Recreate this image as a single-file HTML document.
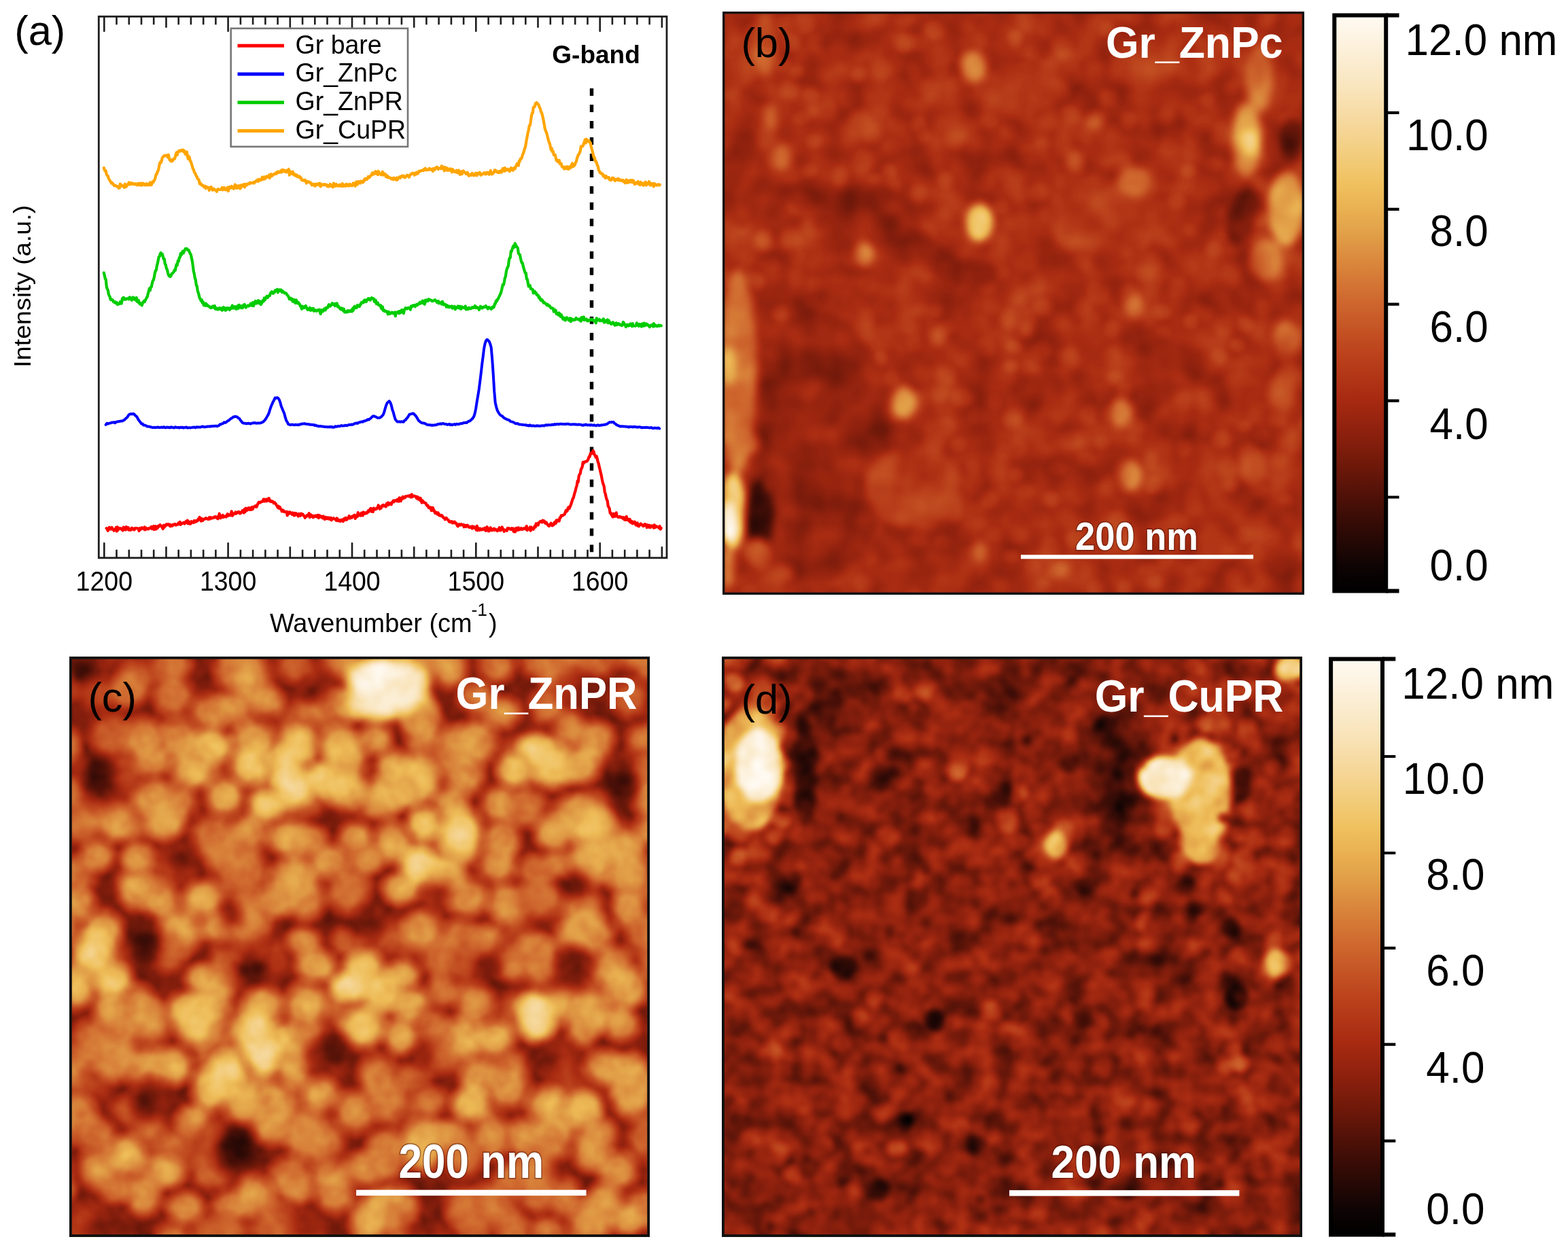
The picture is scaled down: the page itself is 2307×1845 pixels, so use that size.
<!DOCTYPE html>
<html><head><meta charset="utf-8"><title>Raman and AFM figure</title><style>
html,body{margin:0;padding:0;background:#fff;}
body{width:2307px;height:1845px;overflow:hidden;position:relative;}
svg.main{position:absolute;left:0;top:0;}
text{font-family:"Liberation Sans", Arial, sans-serif;}
</style></head><body>
<svg class="main" width="2307" height="1845" viewBox="0 0 2307 1845">
<rect x="145.3" y="24.3" width="835.7" height="796.5" fill="none" stroke="#1e1e1e" stroke-width="2.8"/>
<path d="M153.3 820.8V798.3M153.3 24.3V46.8M171.5 820.8V808.8M171.5 24.3V36.3M189.8 820.8V808.8M189.8 24.3V36.3M208.0 820.8V808.8M208.0 24.3V36.3M226.2 820.8V808.8M226.2 24.3V36.3M244.5 820.8V804.3M244.5 24.3V40.8M262.7 820.8V808.8M262.7 24.3V36.3M280.9 820.8V808.8M280.9 24.3V36.3M299.2 820.8V808.8M299.2 24.3V36.3M317.4 820.8V808.8M317.4 24.3V36.3M335.6 820.8V798.3M335.6 24.3V46.8M353.9 820.8V808.8M353.9 24.3V36.3M372.1 820.8V808.8M372.1 24.3V36.3M390.4 820.8V808.8M390.4 24.3V36.3M408.6 820.8V808.8M408.6 24.3V36.3M426.8 820.8V804.3M426.8 24.3V40.8M445.1 820.8V808.8M445.1 24.3V36.3M463.3 820.8V808.8M463.3 24.3V36.3M481.5 820.8V808.8M481.5 24.3V36.3M499.8 820.8V808.8M499.8 24.3V36.3M518.0 820.8V798.3M518.0 24.3V46.8M536.2 820.8V808.8M536.2 24.3V36.3M554.5 820.8V808.8M554.5 24.3V36.3M572.7 820.8V808.8M572.7 24.3V36.3M590.9 820.8V808.8M590.9 24.3V36.3M609.2 820.8V804.3M609.2 24.3V40.8M627.4 820.8V808.8M627.4 24.3V36.3M645.6 820.8V808.8M645.6 24.3V36.3M663.9 820.8V808.8M663.9 24.3V36.3M682.1 820.8V808.8M682.1 24.3V36.3M700.3 820.8V798.3M700.3 24.3V46.8M718.6 820.8V808.8M718.6 24.3V36.3M736.8 820.8V808.8M736.8 24.3V36.3M755.1 820.8V808.8M755.1 24.3V36.3M773.3 820.8V808.8M773.3 24.3V36.3M791.5 820.8V804.3M791.5 24.3V40.8M809.8 820.8V808.8M809.8 24.3V36.3M828.0 820.8V808.8M828.0 24.3V36.3M846.2 820.8V808.8M846.2 24.3V36.3M864.5 820.8V808.8M864.5 24.3V36.3M882.7 820.8V798.3M882.7 24.3V46.8M900.9 820.8V808.8M900.9 24.3V36.3M919.2 820.8V808.8M919.2 24.3V36.3M937.4 820.8V808.8M937.4 24.3V36.3M955.6 820.8V808.8M955.6 24.3V36.3M973.9 820.8V804.3M973.9 24.3V40.8" stroke="#1e1e1e" stroke-width="2.6" fill="none"/>
<text transform="translate(153.3 869.2) scale(1 1.06)" font-size="37.5" text-anchor="middle">1200</text>
<text transform="translate(335.6 869.2) scale(1 1.06)" font-size="37.5" text-anchor="middle">1300</text>
<text transform="translate(518.0 869.2) scale(1 1.06)" font-size="37.5" text-anchor="middle">1400</text>
<text transform="translate(700.3 869.2) scale(1 1.06)" font-size="37.5" text-anchor="middle">1500</text>
<text transform="translate(882.7 869.2) scale(1 1.06)" font-size="37.5" text-anchor="middle">1600</text>
<text x="397" y="930" font-size="37.9">Wavenumber (cm</text>
<text x="693.5" y="906" font-size="26.5">-1</text>
<text x="719" y="930" font-size="37.9">)</text>
<text transform="translate(44.5 540.8) rotate(-90)" font-size="35" textLength="239" lengthAdjust="spacingAndGlyphs">Intensity (a.u.)</text>
<text x="21.2" y="66" font-size="61.5">(a)</text>
<line x1="870.5" y1="130" x2="870.5" y2="812.2" stroke="#000" stroke-width="5.4" stroke-dasharray="11 12.98"/>
<path d="M156.7 777.3 L157.7 778.0 L158.7 780.8 L159.7 779.3 L160.7 775.8 L161.7 778.3 L162.7 777.4 L163.7 778.5 L164.7 775.9 L165.7 778.7 L166.7 778.7 L167.7 780.7 L168.7 778.8 L169.7 779.1 L170.7 776.1 L171.7 781.7 L172.7 775.4 L173.7 780.0 L174.7 777.8 L175.7 777.0 L176.7 777.3 L177.7 777.3 L178.7 778.9 L179.7 778.1 L180.7 780.5 L181.7 775.6 L182.7 778.3 L183.7 777.0 L184.7 779.5 L185.7 775.1 L186.7 777.8 L187.7 778.6 L188.7 776.1 L189.7 779.8 L190.7 778.6 L191.7 779.8 L192.7 779.7 L193.7 776.8 L194.7 777.1 L195.7 778.0 L196.7 779.4 L197.7 779.5 L198.7 777.2 L199.7 777.3 L200.7 777.0 L201.7 777.2 L202.7 777.7 L203.7 777.8 L204.7 781.1 L205.7 777.2 L206.7 777.4 L207.7 778.5 L208.7 776.3 L209.7 777.1 L210.7 777.6 L211.7 778.6 L212.7 775.4 L213.7 779.4 L214.7 776.7 L215.7 777.4 L216.7 778.3 L217.7 777.9 L218.7 778.4 L219.7 777.0 L220.7 776.6 L221.7 777.0 L222.7 775.0 L223.7 778.2 L224.7 775.1 L225.7 774.3 L226.7 779.1 L227.7 775.7 L228.7 774.1 L229.7 778.5 L230.7 775.1 L231.7 777.1 L232.7 774.2 L233.7 774.9 L234.7 772.6 L235.7 772.2 L236.7 773.5 L237.7 774.7 L238.7 775.8 L239.7 778.1 L240.7 772.8 L241.7 775.7 L242.7 773.1 L243.7 773.6 L244.7 771.4 L245.7 771.3 L246.7 772.1 L247.7 771.3 L248.7 772.9 L249.7 771.7 L250.7 774.4 L251.7 772.6 L252.7 772.4 L253.7 773.7 L254.7 772.6 L255.7 771.6 L256.7 771.3 L257.7 771.1 L258.7 772.7 L259.7 772.1 L260.7 771.3 L261.7 771.7 L262.7 769.5 L263.7 771.0 L264.7 767.9 L265.7 771.9 L266.7 769.8 L267.7 769.8 L268.7 770.2 L269.7 769.1 L270.7 768.6 L271.7 770.6 L272.7 768.8 L273.7 767.1 L274.7 768.9 L275.7 765.6 L276.7 770.4 L277.7 767.5 L278.7 767.7 L279.7 770.8 L280.7 770.5 L281.7 767.2 L282.7 767.8 L283.7 768.4 L284.7 769.1 L285.7 766.2 L286.7 766.4 L287.7 767.9 L288.7 766.2 L289.7 766.8 L290.7 766.4 L291.7 763.6 L292.7 763.8 L293.7 761.0 L294.7 764.4 L295.7 766.6 L296.7 762.8 L297.7 766.1 L298.7 765.6 L299.7 763.8 L300.7 763.7 L301.7 763.7 L302.7 762.1 L303.7 762.8 L304.7 763.0 L305.7 763.8 L306.7 763.9 L307.7 761.4 L308.7 763.6 L309.7 761.1 L310.7 761.8 L311.7 762.5 L312.7 761.7 L313.7 761.4 L314.7 761.8 L315.7 760.5 L316.7 760.1 L317.7 760.7 L318.7 762.2 L319.7 760.5 L320.7 763.3 L321.7 760.6 L322.7 755.7 L323.7 759.3 L324.7 762.3 L325.7 759.7 L326.7 758.8 L327.7 758.0 L328.7 761.1 L329.7 760.4 L330.7 759.8 L331.7 759.2 L332.7 760.5 L333.7 759.4 L334.7 756.1 L335.7 758.9 L336.7 757.8 L337.7 757.2 L338.7 758.3 L339.7 757.0 L340.7 752.3 L341.7 758.8 L342.7 757.8 L343.7 755.8 L344.7 755.2 L345.7 755.9 L346.7 753.4 L347.7 755.5 L348.7 754.5 L349.7 754.0 L350.7 752.9 L351.7 753.0 L352.7 755.4 L353.7 755.5 L354.7 753.9 L355.7 752.8 L356.7 751.3 L357.7 753.4 L358.7 754.4 L359.7 749.2 L360.7 753.1 L361.7 747.7 L362.7 750.1 L363.7 750.8 L364.7 747.8 L365.7 747.2 L366.7 749.3 L367.7 750.0 L368.7 747.5 L369.7 749.8 L370.7 746.1 L371.7 749.3 L372.7 746.1 L373.7 745.6 L374.7 745.5 L375.7 744.3 L376.7 745.9 L377.7 745.7 L378.7 742.6 L379.7 740.9 L380.7 738.9 L381.7 738.9 L382.7 739.5 L383.7 738.7 L384.7 738.2 L385.7 737.7 L386.7 737.9 L387.7 734.7 L388.7 734.7 L389.7 737.6 L390.7 736.9 L391.7 734.7 L392.7 737.4 L393.7 734.5 L394.7 735.3 L395.7 733.1 L396.7 737.3 L397.7 736.3 L398.7 738.2 L399.7 738.0 L400.7 737.4 L401.7 738.1 L402.7 740.3 L403.7 739.1 L404.7 740.0 L405.7 741.3 L406.7 743.3 L407.7 744.4 L408.7 746.8 L409.7 744.8 L410.7 747.9 L411.7 746.0 L412.7 748.9 L413.7 749.2 L414.7 752.4 L415.7 751.5 L416.7 750.7 L417.7 752.9 L418.7 753.2 L419.7 752.8 L420.7 753.3 L421.7 752.7 L422.7 758.5 L423.7 754.8 L424.7 756.3 L425.7 753.3 L426.7 753.6 L427.7 755.2 L428.7 755.4 L429.7 757.0 L430.7 754.4 L431.7 756.9 L432.7 758.5 L433.7 754.9 L434.7 757.8 L435.7 755.1 L436.7 757.2 L437.7 757.3 L438.7 759.5 L439.7 756.0 L440.7 757.4 L441.7 758.9 L442.7 755.6 L443.7 757.5 L444.7 756.3 L445.7 756.7 L446.7 758.9 L447.7 759.0 L448.7 761.9 L449.7 760.2 L450.7 760.2 L451.7 758.1 L452.7 758.0 L453.7 758.7 L454.7 755.2 L455.7 761.2 L456.7 757.9 L457.7 757.4 L458.7 758.4 L459.7 760.5 L460.7 761.2 L461.7 758.9 L462.7 760.3 L463.7 759.7 L464.7 758.4 L465.7 760.3 L466.7 760.2 L467.7 758.0 L468.7 762.1 L469.7 758.2 L470.7 761.1 L471.7 759.3 L472.7 759.8 L473.7 760.1 L474.7 762.4 L475.7 759.6 L476.7 761.3 L477.7 764.1 L478.7 760.8 L479.7 761.9 L480.7 763.1 L481.7 761.4 L482.7 763.1 L483.7 761.6 L484.7 763.8 L485.7 763.0 L486.7 761.7 L487.7 765.3 L488.7 763.3 L489.7 763.1 L490.7 762.3 L491.7 763.2 L492.7 763.9 L493.7 764.4 L494.7 765.9 L495.7 762.4 L496.7 764.0 L497.7 766.4 L498.7 764.9 L499.7 765.3 L500.7 767.1 L501.7 765.2 L502.7 765.4 L503.7 764.5 L504.7 767.1 L505.7 765.8 L506.7 763.0 L507.7 764.6 L508.7 761.8 L509.7 764.9 L510.7 763.9 L511.7 762.3 L512.7 761.6 L513.7 759.2 L514.7 762.7 L515.7 761.1 L516.7 760.5 L517.7 761.7 L518.7 759.3 L519.7 759.2 L520.7 758.8 L521.7 757.6 L522.7 763.0 L523.7 758.9 L524.7 758.5 L525.7 760.2 L526.7 754.0 L527.7 758.5 L528.7 758.3 L529.7 756.6 L530.7 758.6 L531.7 754.6 L532.7 757.4 L533.7 758.5 L534.7 753.5 L535.7 754.3 L536.7 755.8 L537.7 755.5 L538.7 754.1 L539.7 755.1 L540.7 754.4 L541.7 751.4 L542.7 752.8 L543.7 750.5 L544.7 748.8 L545.7 747.9 L546.7 752.6 L547.7 750.4 L548.7 753.1 L549.7 747.6 L550.7 748.8 L551.7 749.5 L552.7 748.4 L553.7 748.9 L554.7 748.0 L555.7 746.5 L556.7 743.5 L557.7 745.2 L558.7 748.8 L559.7 747.0 L560.7 747.6 L561.7 744.2 L562.7 744.4 L563.7 743.0 L564.7 744.6 L565.7 743.7 L566.7 743.9 L567.7 745.5 L568.7 741.2 L569.7 743.2 L570.7 739.6 L571.7 743.0 L572.7 740.3 L573.7 740.5 L574.7 740.4 L575.7 742.2 L576.7 739.3 L577.7 738.2 L578.7 736.7 L579.7 738.5 L580.7 736.3 L581.7 736.4 L582.7 736.7 L583.7 737.3 L584.7 734.8 L585.7 736.4 L586.7 737.7 L587.7 732.4 L588.7 736.3 L589.7 737.1 L590.7 732.7 L591.7 734.2 L592.7 730.8 L593.7 733.0 L594.7 731.7 L595.7 732.3 L596.7 730.2 L597.7 730.0 L598.7 730.3 L599.7 729.7 L600.7 729.7 L601.7 730.3 L602.7 728.9 L603.7 730.4 L604.7 731.4 L605.7 727.3 L606.7 731.2 L607.7 730.0 L608.7 729.6 L609.7 729.5 L610.7 730.4 L611.7 730.8 L612.7 732.7 L613.7 730.6 L614.7 734.3 L615.7 731.9 L616.7 734.6 L617.7 735.8 L618.7 733.0 L619.7 737.2 L620.7 739.7 L621.7 736.5 L622.7 738.9 L623.7 738.6 L624.7 739.8 L625.7 740.1 L626.7 740.5 L627.7 743.2 L628.7 744.3 L629.7 743.9 L630.7 747.0 L631.7 747.3 L632.7 747.7 L633.7 746.4 L634.7 751.2 L635.7 751.2 L636.7 746.9 L637.7 749.2 L638.7 751.0 L639.7 753.9 L640.7 755.2 L641.7 753.7 L642.7 755.2 L643.7 756.7 L644.7 754.5 L645.7 758.0 L646.7 757.4 L647.7 758.8 L648.7 759.1 L649.7 758.0 L650.7 758.9 L651.7 761.1 L652.7 761.8 L653.7 761.8 L654.7 764.3 L655.7 762.7 L656.7 762.0 L657.7 763.8 L658.7 764.5 L659.7 765.1 L660.7 767.5 L661.7 767.0 L662.7 768.3 L663.7 768.1 L664.7 767.3 L665.7 769.5 L666.7 768.0 L667.7 769.1 L668.7 767.6 L669.7 769.6 L670.7 769.3 L671.7 770.6 L672.7 773.1 L673.7 774.3 L674.7 772.5 L675.7 771.3 L676.7 772.8 L677.7 772.2 L678.7 771.3 L679.7 772.3 L680.7 772.3 L681.7 772.1 L682.7 775.3 L683.7 772.7 L684.7 773.0 L685.7 775.0 L686.7 773.2 L687.7 772.7 L688.7 773.4 L689.7 775.7 L690.7 775.8 L691.7 775.9 L692.7 775.0 L693.7 774.6 L694.7 777.6 L695.7 774.4 L696.7 776.5 L697.7 775.1 L698.7 776.7 L699.7 777.4 L700.7 779.7 L701.7 773.8 L702.7 780.3 L703.7 777.1 L704.7 779.0 L705.7 779.9 L706.7 777.6 L707.7 778.7 L708.7 779.6 L709.7 778.6 L710.7 777.7 L711.7 779.1 L712.7 779.0 L713.7 776.6 L714.7 780.9 L715.7 779.2 L716.7 775.2 L717.7 777.6 L718.7 781.4 L719.7 781.2 L720.7 779.3 L721.7 776.3 L722.7 778.5 L723.7 780.4 L724.7 779.4 L725.7 778.4 L726.7 777.8 L727.7 780.1 L728.7 778.5 L729.7 779.3 L730.7 779.6 L731.7 781.3 L732.7 779.1 L733.7 779.3 L734.7 776.2 L735.7 780.5 L736.7 780.2 L737.7 778.8 L738.7 775.5 L739.7 778.0 L740.7 779.0 L741.7 782.0 L742.7 779.7 L743.7 780.1 L744.7 780.1 L745.7 780.9 L746.7 777.2 L747.7 777.6 L748.7 777.1 L749.7 778.4 L750.7 778.3 L751.7 779.0 L752.7 777.3 L753.7 779.0 L754.7 777.5 L755.7 782.0 L756.7 778.0 L757.7 782.6 L758.7 781.2 L759.7 776.9 L760.7 780.1 L761.7 779.6 L762.7 776.3 L763.7 779.5 L764.7 778.4 L765.7 779.0 L766.7 777.2 L767.7 778.3 L768.7 779.0 L769.7 778.0 L770.7 777.3 L771.7 777.9 L772.7 776.6 L773.7 778.5 L774.7 774.1 L775.7 780.1 L776.7 777.9 L777.7 778.4 L778.7 778.9 L779.7 775.6 L780.7 780.8 L781.7 775.6 L782.7 777.8 L783.7 777.5 L784.7 778.9 L785.7 776.7 L786.7 774.2 L787.7 775.8 L788.7 770.3 L789.7 772.3 L790.7 770.5 L791.7 772.6 L792.7 769.2 L793.7 768.4 L794.7 767.4 L795.7 766.8 L796.7 767.0 L797.7 768.5 L798.7 765.7 L799.7 767.8 L800.7 766.4 L801.7 769.0 L802.7 770.1 L803.7 768.5 L804.7 770.2 L805.7 771.9 L806.7 773.4 L807.7 774.1 L808.7 772.5 L809.7 771.0 L810.7 769.8 L811.7 773.0 L812.7 773.4 L813.7 771.2 L814.7 772.3 L815.7 768.6 L816.7 767.9 L817.7 770.1 L818.7 765.4 L819.7 767.1 L820.7 766.1 L821.7 765.0 L822.7 766.6 L823.7 761.9 L824.7 761.7 L825.7 758.3 L826.7 758.9 L827.7 758.8 L828.7 757.9 L829.7 757.1 L830.7 756.7 L831.7 754.1 L832.7 750.8 L833.7 752.5 L834.7 751.4 L835.7 747.4 L836.7 746.2 L837.7 748.2 L838.7 745.2 L839.7 743.2 L840.7 740.3 L841.7 737.2 L842.7 733.6 L843.7 732.5 L844.7 728.4 L845.7 724.8 L846.7 721.6 L847.7 717.2 L848.7 714.4 L849.7 707.7 L850.7 709.3 L851.7 700.5 L852.7 698.0 L853.7 696.8 L854.7 691.1 L855.7 688.9 L856.7 687.0 L857.7 680.1 L858.7 681.7 L859.7 679.5 L860.7 679.4 L861.7 679.4 L862.7 678.5 L863.7 678.6 L864.7 677.1 L865.7 675.0 L866.7 671.9 L867.7 672.0 L868.7 667.2 L869.7 666.5 L870.7 667.2 L871.7 665.7 L872.7 663.0 L873.7 665.3 L874.7 669.1 L875.7 670.4 L876.7 673.0 L877.7 671.1 L878.7 674.8 L879.7 679.6 L880.7 681.9 L881.7 686.9 L882.7 690.7 L883.7 695.4 L884.7 699.1 L885.7 704.6 L886.7 709.3 L887.7 712.8 L888.7 715.3 L889.7 723.6 L890.7 726.5 L891.7 731.2 L892.7 735.1 L893.7 736.9 L894.7 744.4 L895.7 746.1 L896.7 748.3 L897.7 754.9 L898.7 754.9 L899.7 757.4 L900.7 759.0 L901.7 760.5 L902.7 755.7 L903.7 757.6 L904.7 759.9 L905.7 758.1 L906.7 754.3 L907.7 759.7 L908.7 760.0 L909.7 761.1 L910.7 760.6 L911.7 759.9 L912.7 761.2 L913.7 761.2 L914.7 760.8 L915.7 762.3 L916.7 762.9 L917.7 761.2 L918.7 764.6 L919.7 764.7 L920.7 765.0 L921.7 760.0 L922.7 764.7 L923.7 764.8 L924.7 763.9 L925.7 766.7 L926.7 764.0 L927.7 768.6 L928.7 767.8 L929.7 766.9 L930.7 770.3 L931.7 769.3 L932.7 769.6 L933.7 767.6 L934.7 770.8 L935.7 772.6 L936.7 772.5 L937.7 769.3 L938.7 773.7 L939.7 774.4 L940.7 773.5 L941.7 771.9 L942.7 770.4 L943.7 771.4 L944.7 772.1 L945.7 773.5 L946.7 774.1 L947.7 772.3 L948.7 771.1 L949.7 773.1 L950.7 771.9 L951.7 776.0 L952.7 772.3 L953.7 775.0 L954.7 775.6 L955.7 773.0 L956.7 776.1 L957.7 774.5 L958.7 773.6 L959.7 773.5 L960.7 775.2 L961.7 776.7 L962.7 772.3 L963.7 776.2 L964.7 775.1 L965.7 774.2 L966.7 775.3 L967.7 775.5 L968.7 775.4 L969.7 776.8 L970.7 774.2 L971.7 778.6 L972.7 777.0" fill="none" stroke="#ff0000" stroke-width="4.2" stroke-linejoin="round" stroke-linecap="round"/>
<path d="M155.7 624.9 L157.2 622.9 L158.7 623.6 L160.2 622.9 L161.7 622.6 L163.2 622.3 L164.7 621.4 L166.2 621.7 L167.7 621.2 L169.2 622.3 L170.7 621.0 L172.2 620.5 L173.7 620.3 L175.2 620.0 L176.7 619.7 L178.2 619.6 L179.7 619.6 L181.2 618.7 L182.7 618.2 L184.2 616.6 L185.7 615.3 L187.2 614.0 L188.7 611.4 L190.2 609.7 L191.7 609.2 L193.2 609.0 L194.7 609.3 L196.2 608.7 L197.7 609.7 L199.2 611.6 L200.7 612.4 L202.2 614.7 L203.7 617.5 L205.2 619.5 L206.7 621.4 L208.2 623.5 L209.7 623.5 L211.2 625.6 L212.7 625.6 L214.2 625.9 L215.7 627.0 L217.2 627.6 L218.7 627.6 L220.2 627.7 L221.7 628.4 L223.2 628.5 L224.7 629.1 L226.2 628.9 L227.7 628.7 L229.2 629.1 L230.7 628.7 L232.2 628.5 L233.7 629.0 L235.2 629.1 L236.7 628.8 L238.2 628.6 L239.7 629.0 L241.2 628.1 L242.7 629.2 L244.2 629.2 L245.7 628.4 L247.2 629.0 L248.7 628.7 L250.2 629.3 L251.7 628.3 L253.2 628.7 L254.7 629.2 L256.2 629.4 L257.7 628.2 L259.2 628.8 L260.7 629.1 L262.2 628.8 L263.7 629.6 L265.2 628.6 L266.7 629.1 L268.2 628.6 L269.7 629.5 L271.2 629.0 L272.7 628.9 L274.2 628.4 L275.7 629.6 L277.2 629.3 L278.7 629.3 L280.2 629.4 L281.7 629.1 L283.2 628.8 L284.7 628.7 L286.2 628.6 L287.7 629.3 L289.2 628.2 L290.7 628.4 L292.2 628.4 L293.7 628.5 L295.2 628.5 L296.7 627.8 L298.2 627.5 L299.7 628.0 L301.2 628.3 L302.7 628.1 L304.2 627.8 L305.7 627.5 L307.2 627.6 L308.7 627.3 L310.2 627.6 L311.7 626.9 L313.2 627.1 L314.7 626.8 L316.2 626.9 L317.7 626.6 L319.2 627.2 L320.7 626.6 L322.2 626.1 L323.7 624.3 L325.2 624.2 L326.7 623.4 L328.2 623.0 L329.7 621.3 L331.2 621.9 L332.7 621.3 L334.2 619.8 L335.7 619.1 L337.2 618.1 L338.7 616.8 L340.2 615.5 L341.7 614.9 L343.2 613.5 L344.7 613.3 L346.2 612.7 L347.7 613.1 L349.2 613.5 L350.7 615.1 L352.2 615.8 L353.7 618.2 L355.2 620.0 L356.7 622.0 L358.2 622.6 L359.7 622.8 L361.2 623.0 L362.7 623.4 L364.2 622.9 L365.7 622.7 L367.2 623.1 L368.7 623.7 L370.2 622.7 L371.7 622.5 L373.2 622.2 L374.7 622.0 L376.2 622.6 L377.7 622.7 L379.2 622.4 L380.7 622.5 L382.2 622.4 L383.7 622.3 L385.2 621.5 L386.7 621.0 L388.2 619.8 L389.7 618.0 L391.2 616.1 L392.7 613.4 L394.2 610.8 L395.7 607.6 L397.2 602.7 L398.7 598.3 L400.2 594.8 L401.7 591.4 L403.2 588.7 L404.7 585.4 L406.2 585.8 L407.7 585.0 L409.2 585.8 L410.7 587.9 L412.2 591.7 L413.7 597.5 L415.2 601.0 L416.7 604.7 L418.2 608.1 L419.7 613.9 L421.2 618.7 L422.7 621.0 L424.2 624.1 L425.7 624.6 L427.2 625.2 L428.7 624.7 L430.2 624.7 L431.7 625.0 L433.2 625.2 L434.7 624.8 L436.2 625.1 L437.7 624.9 L439.2 625.3 L440.7 624.3 L442.2 624.6 L443.7 623.8 L445.2 623.5 L446.7 623.5 L448.2 623.2 L449.7 623.7 L451.2 624.0 L452.7 623.9 L454.2 624.2 L455.7 624.8 L457.2 624.6 L458.7 624.9 L460.2 625.0 L461.7 624.9 L463.2 626.1 L464.7 625.5 L466.2 626.6 L467.7 626.7 L469.2 627.3 L470.7 627.1 L472.2 627.0 L473.7 627.6 L475.2 627.5 L476.7 627.8 L478.2 628.0 L479.7 628.1 L481.2 628.2 L482.7 628.1 L484.2 628.4 L485.7 627.8 L487.2 628.4 L488.7 628.0 L490.2 628.7 L491.7 628.6 L493.2 627.2 L494.7 627.8 L496.2 627.5 L497.7 626.9 L499.2 627.3 L500.7 626.8 L502.2 626.1 L503.7 626.5 L505.2 626.4 L506.7 626.3 L508.2 625.7 L509.7 626.1 L511.2 626.0 L512.7 625.1 L514.2 625.0 L515.7 625.0 L517.2 624.5 L518.7 624.9 L520.2 624.0 L521.7 623.2 L523.2 622.8 L524.7 622.6 L526.2 622.9 L527.7 621.6 L529.2 621.3 L530.7 621.0 L532.2 620.4 L533.7 620.8 L535.2 619.4 L536.7 619.4 L538.2 618.7 L539.7 618.3 L541.2 617.1 L542.7 617.5 L544.2 616.1 L545.7 615.2 L547.2 613.5 L548.7 612.2 L550.2 612.2 L551.7 612.8 L553.2 613.3 L554.7 614.3 L556.2 614.8 L557.7 614.7 L559.2 614.5 L560.7 613.4 L562.2 611.9 L563.7 610.4 L565.2 606.5 L566.7 601.0 L568.2 596.2 L569.7 592.7 L571.2 591.5 L572.7 590.1 L574.2 592.2 L575.7 596.0 L577.2 602.5 L578.7 606.6 L580.2 612.4 L581.7 617.1 L583.2 619.1 L584.7 620.5 L586.2 620.5 L587.7 620.3 L589.2 620.8 L590.7 620.2 L592.2 620.6 L593.7 620.8 L595.2 618.6 L596.7 618.0 L598.2 615.8 L599.7 614.2 L601.2 611.8 L602.7 609.4 L604.2 609.2 L605.7 608.9 L607.2 608.2 L608.7 608.6 L610.2 610.4 L611.7 611.7 L613.2 614.1 L614.7 616.7 L616.2 619.1 L617.7 620.1 L619.2 621.4 L620.7 622.3 L622.2 622.4 L623.7 622.6 L625.2 623.0 L626.7 624.0 L628.2 624.7 L629.7 624.9 L631.2 625.3 L632.7 625.2 L634.2 625.7 L635.7 625.6 L637.2 625.7 L638.7 625.4 L640.2 625.2 L641.7 625.3 L643.2 624.5 L644.7 624.0 L646.2 623.9 L647.7 623.2 L649.2 624.0 L650.7 623.2 L652.2 622.9 L653.7 623.7 L655.2 623.9 L656.7 623.9 L658.2 624.9 L659.7 624.5 L661.2 623.8 L662.7 625.2 L664.2 624.6 L665.7 625.3 L667.2 624.4 L668.7 624.1 L670.2 624.9 L671.7 623.8 L673.2 624.1 L674.7 624.3 L676.2 623.6 L677.7 623.2 L679.2 623.0 L680.7 622.9 L682.2 622.0 L683.7 622.1 L685.2 621.7 L686.7 622.0 L688.2 620.6 L689.7 619.8 L691.2 619.5 L692.7 618.0 L694.2 616.9 L695.7 615.1 L697.2 612.8 L698.7 608.1 L700.2 600.8 L701.7 590.9 L703.2 582.3 L704.7 573.0 L706.2 561.4 L707.7 549.2 L709.2 536.1 L710.7 524.4 L712.2 512.3 L713.7 505.0 L715.2 501.0 L716.7 499.5 L718.2 500.8 L719.7 502.3 L721.2 506.1 L722.7 511.3 L724.2 528.5 L725.7 550.2 L727.2 575.2 L728.7 592.5 L730.2 598.8 L731.7 603.7 L733.2 606.5 L734.7 609.0 L736.2 610.6 L737.7 611.7 L739.2 612.3 L740.7 614.1 L742.2 615.3 L743.7 615.9 L745.2 616.9 L746.7 617.3 L748.2 618.0 L749.7 618.5 L751.2 620.1 L752.7 620.4 L754.2 620.9 L755.7 621.3 L757.2 622.3 L758.7 623.3 L760.2 623.2 L761.7 623.1 L763.2 624.2 L764.7 624.4 L766.2 624.6 L767.7 624.7 L769.2 625.1 L770.7 625.1 L772.2 625.4 L773.7 625.1 L775.2 626.1 L776.7 625.8 L778.2 626.6 L779.7 625.3 L781.2 626.4 L782.7 626.6 L784.2 626.2 L785.7 626.6 L787.2 626.7 L788.7 626.7 L790.2 626.3 L791.7 626.4 L793.2 626.8 L794.7 626.8 L796.2 626.4 L797.7 626.3 L799.2 626.2 L800.7 626.4 L802.2 625.6 L803.7 625.3 L805.2 625.7 L806.7 625.2 L808.2 625.2 L809.7 625.3 L811.2 625.3 L812.7 624.6 L814.2 625.1 L815.7 624.1 L817.2 624.8 L818.7 623.9 L820.2 623.9 L821.7 624.4 L823.2 624.0 L824.7 623.8 L826.2 623.8 L827.7 624.1 L829.2 623.9 L830.7 623.9 L832.2 624.3 L833.7 623.7 L835.2 623.8 L836.7 623.8 L838.2 624.4 L839.7 624.4 L841.2 624.6 L842.7 624.2 L844.2 624.2 L845.7 624.6 L847.2 624.3 L848.7 624.8 L850.2 624.8 L851.7 624.4 L853.2 624.7 L854.7 624.8 L856.2 625.5 L857.7 625.9 L859.2 625.0 L860.7 625.2 L862.2 624.4 L863.7 625.4 L865.2 625.4 L866.7 625.1 L868.2 625.8 L869.7 625.1 L871.2 625.6 L872.7 625.8 L874.2 625.3 L875.7 626.1 L877.2 626.2 L878.7 625.4 L880.2 625.4 L881.7 626.1 L883.2 625.8 L884.7 625.3 L886.2 625.4 L887.7 625.1 L889.2 624.7 L890.7 624.7 L892.2 624.1 L893.7 623.6 L895.2 622.3 L896.7 621.3 L898.2 621.3 L899.7 621.3 L901.2 621.0 L902.7 621.0 L904.2 622.9 L905.7 623.8 L907.2 625.2 L908.7 625.6 L910.2 626.5 L911.7 626.9 L913.2 627.6 L914.7 627.2 L916.2 627.2 L917.7 627.6 L919.2 627.4 L920.7 627.7 L922.2 627.7 L923.7 627.9 L925.2 628.6 L926.7 627.8 L928.2 628.0 L929.7 628.0 L931.2 628.4 L932.7 627.8 L934.2 628.0 L935.7 628.3 L937.2 628.6 L938.7 628.4 L940.2 628.3 L941.7 628.3 L943.2 628.8 L944.7 629.2 L946.2 628.9 L947.7 629.0 L949.2 629.1 L950.7 628.7 L952.2 629.0 L953.7 629.1 L955.2 629.4 L956.7 629.3 L958.2 629.0 L959.7 629.9 L961.2 630.1 L962.7 629.5 L964.2 629.8 L965.7 629.8 L967.2 630.1 L968.7 629.4 L970.2 630.5" fill="none" stroke="#0000ff" stroke-width="4.0" stroke-linejoin="round" stroke-linecap="round"/>
<path d="M152.8 401.3 L153.8 405.1 L154.8 410.0 L155.8 411.4 L156.8 421.9 L157.8 425.0 L158.8 426.9 L159.8 432.6 L160.8 435.4 L161.8 436.9 L162.8 440.9 L163.8 440.2 L164.8 441.2 L165.8 441.3 L166.8 443.9 L167.8 443.7 L168.8 445.3 L169.8 444.3 L170.8 446.0 L171.8 445.0 L172.8 448.0 L173.8 447.3 L174.8 447.4 L175.8 447.0 L176.8 444.1 L177.8 445.7 L178.8 446.5 L179.8 439.7 L180.8 438.4 L181.8 437.8 L182.8 440.6 L183.8 439.2 L184.8 440.6 L185.8 440.1 L186.8 439.3 L187.8 439.4 L188.8 438.7 L189.8 440.3 L190.8 437.3 L191.8 438.4 L192.8 439.4 L193.8 441.7 L194.8 437.9 L195.8 437.4 L196.8 438.2 L197.8 440.5 L198.8 438.9 L199.8 441.9 L200.8 438.0 L201.8 443.5 L202.8 444.4 L203.8 441.8 L204.8 445.1 L205.8 447.4 L206.8 446.1 L207.8 447.5 L208.8 449.3 L209.8 445.7 L210.8 444.3 L211.8 442.8 L212.8 444.1 L213.8 441.7 L214.8 440.0 L215.8 437.9 L216.8 436.7 L217.8 431.8 L218.8 428.5 L219.8 424.5 L220.8 427.2 L221.8 422.7 L222.8 422.1 L223.8 417.1 L224.8 413.2 L225.8 412.0 L226.8 407.9 L227.8 402.2 L228.8 398.2 L229.8 397.6 L230.8 391.3 L231.8 387.6 L232.8 382.5 L233.8 378.0 L234.8 377.1 L235.8 373.4 L236.8 371.9 L237.8 373.5 L238.8 373.9 L239.8 377.6 L240.8 381.2 L241.8 381.1 L242.8 388.4 L243.8 389.5 L244.8 394.6 L245.8 396.3 L246.8 400.6 L247.8 404.1 L248.8 405.9 L249.8 406.8 L250.8 406.8 L251.8 405.4 L252.8 402.4 L253.8 402.1 L254.8 401.0 L255.8 399.8 L256.8 397.3 L257.8 397.9 L258.8 392.4 L259.8 389.0 L260.8 390.2 L261.8 383.6 L262.8 384.4 L263.8 379.1 L264.8 378.6 L265.8 372.9 L266.8 375.2 L267.8 372.0 L268.8 369.6 L269.8 372.4 L270.8 370.0 L271.8 367.9 L272.8 365.9 L273.8 366.4 L274.8 365.8 L275.8 367.2 L276.8 368.4 L277.8 368.2 L278.8 370.7 L279.8 373.1 L280.8 374.7 L281.8 379.3 L282.8 384.0 L283.8 390.7 L284.8 399.0 L285.8 402.7 L286.8 409.4 L287.8 411.7 L288.8 419.4 L289.8 421.1 L290.8 427.8 L291.8 430.8 L292.8 434.5 L293.8 438.8 L294.8 440.1 L295.8 442.7 L296.8 441.1 L297.8 445.6 L298.8 444.2 L299.8 449.0 L300.8 446.8 L301.8 449.5 L302.8 446.4 L303.8 449.7 L304.8 448.3 L305.8 449.5 L306.8 450.7 L307.8 450.6 L308.8 451.9 L309.8 452.9 L310.8 453.0 L311.8 452.2 L312.8 450.5 L313.8 451.6 L314.8 452.7 L315.8 450.0 L316.8 454.6 L317.8 453.3 L318.8 453.4 L319.8 455.4 L320.8 455.2 L321.8 454.7 L322.8 453.0 L323.8 455.1 L324.8 455.2 L325.8 453.5 L326.8 456.5 L327.8 455.7 L328.8 452.0 L329.8 455.2 L330.8 453.1 L331.8 456.6 L332.8 456.0 L333.8 453.0 L334.8 453.1 L335.8 454.3 L336.8 453.5 L337.8 455.9 L338.8 454.5 L339.8 452.6 L340.8 453.7 L341.8 449.5 L342.8 452.8 L343.8 453.5 L344.8 451.8 L345.8 450.9 L346.8 452.7 L347.8 454.7 L348.8 452.0 L349.8 450.0 L350.8 453.8 L351.8 448.7 L352.8 452.2 L353.8 450.6 L354.8 452.8 L355.8 450.0 L356.8 453.2 L357.8 451.6 L358.8 448.5 L359.8 448.0 L360.8 450.3 L361.8 452.5 L362.8 450.5 L363.8 450.1 L364.8 449.4 L365.8 450.5 L366.8 449.6 L367.8 449.1 L368.8 446.8 L369.8 449.6 L370.8 449.5 L371.8 445.1 L372.8 450.2 L373.8 447.5 L374.8 445.3 L375.8 442.9 L376.8 446.5 L377.8 446.1 L378.8 444.1 L379.8 442.1 L380.8 446.2 L381.8 443.4 L382.8 443.3 L383.8 448.0 L384.8 446.6 L385.8 444.5 L386.8 442.0 L387.8 443.3 L388.8 438.4 L389.8 441.3 L390.8 439.2 L391.8 437.4 L392.8 435.8 L393.8 437.9 L394.8 436.1 L395.8 435.1 L396.8 435.2 L397.8 431.9 L398.8 430.6 L399.8 429.2 L400.8 430.7 L401.8 431.7 L402.8 429.7 L403.8 430.3 L404.8 427.1 L405.8 427.7 L406.8 426.8 L407.8 425.8 L408.8 430.3 L409.8 428.7 L410.8 426.3 L411.8 426.6 L412.8 428.0 L413.8 426.5 L414.8 429.9 L415.8 428.0 L416.8 430.1 L417.8 429.9 L418.8 431.4 L419.8 430.9 L420.8 431.2 L421.8 432.9 L422.8 434.1 L423.8 435.5 L424.8 436.9 L425.8 440.0 L426.8 439.7 L427.8 438.8 L428.8 441.1 L429.8 439.7 L430.8 443.7 L431.8 443.1 L432.8 441.0 L433.8 445.0 L434.8 445.9 L435.8 441.4 L436.8 445.0 L437.8 446.2 L438.8 444.7 L439.8 446.7 L440.8 447.5 L441.8 450.3 L442.8 450.6 L443.8 454.6 L444.8 450.5 L445.8 453.3 L446.8 452.1 L447.8 452.7 L448.8 450.8 L449.8 449.9 L450.8 451.9 L451.8 454.4 L452.8 455.9 L453.8 454.6 L454.8 454.6 L455.8 452.8 L456.8 456.6 L457.8 456.5 L458.8 453.9 L459.8 454.9 L460.8 453.7 L461.8 457.7 L462.8 456.5 L463.8 456.1 L464.8 457.3 L465.8 457.7 L466.8 456.8 L467.8 455.9 L468.8 456.1 L469.8 455.7 L470.8 459.2 L471.8 461.9 L472.8 456.0 L473.8 458.5 L474.8 458.4 L475.8 455.6 L476.8 456.6 L477.8 453.8 L478.8 456.3 L479.8 452.7 L480.8 453.0 L481.8 453.1 L482.8 450.9 L483.8 448.2 L484.8 449.4 L485.8 450.6 L486.8 448.7 L487.8 448.6 L488.8 446.1 L489.8 447.6 L490.8 448.2 L491.8 447.1 L492.8 450.0 L493.8 447.2 L494.8 446.5 L495.8 446.4 L496.8 451.3 L497.8 450.3 L498.8 452.7 L499.8 452.6 L500.8 454.9 L501.8 455.1 L502.8 453.4 L503.8 455.1 L504.8 457.1 L505.8 454.4 L506.8 459.1 L507.8 459.4 L508.8 459.5 L509.8 458.1 L510.8 459.0 L511.8 456.9 L512.8 458.6 L513.8 457.4 L514.8 458.1 L515.8 456.8 L516.8 457.5 L517.8 458.3 L518.8 454.0 L519.8 456.7 L520.8 451.7 L521.8 450.8 L522.8 453.2 L523.8 452.8 L524.8 452.8 L525.8 449.0 L526.8 450.7 L527.8 450.1 L528.8 451.0 L529.8 448.1 L530.8 448.1 L531.8 445.0 L532.8 445.3 L533.8 444.2 L534.8 445.2 L535.8 442.0 L536.8 441.5 L537.8 442.9 L538.8 444.0 L539.8 441.3 L540.8 440.6 L541.8 439.1 L542.8 440.9 L543.8 439.8 L544.8 441.6 L545.8 439.7 L546.8 438.1 L547.8 439.2 L548.8 439.1 L549.8 439.4 L550.8 443.8 L551.8 443.8 L552.8 441.6 L553.8 447.1 L554.8 445.9 L555.8 445.4 L556.8 448.7 L557.8 449.3 L558.8 449.5 L559.8 449.0 L560.8 453.2 L561.8 454.6 L562.8 451.3 L563.8 456.8 L564.8 457.5 L565.8 456.6 L566.8 458.1 L567.8 458.2 L568.8 458.0 L569.8 459.3 L570.8 462.3 L571.8 458.6 L572.8 461.5 L573.8 461.7 L574.8 460.5 L575.8 460.9 L576.8 459.5 L577.8 460.2 L578.8 461.3 L579.8 461.6 L580.8 459.5 L581.8 465.2 L582.8 459.5 L583.8 460.2 L584.8 459.3 L585.8 458.7 L586.8 461.0 L587.8 458.0 L588.8 460.4 L589.8 459.8 L590.8 456.2 L591.8 459.0 L592.8 456.2 L593.8 461.0 L594.8 456.0 L595.8 454.8 L596.8 453.0 L597.8 453.6 L598.8 454.4 L599.8 453.4 L600.8 452.7 L601.8 453.1 L602.8 453.5 L603.8 455.6 L604.8 450.4 L605.8 451.7 L606.8 450.7 L607.8 449.4 L608.8 449.2 L609.8 449.2 L610.8 451.1 L611.8 449.1 L612.8 448.0 L613.8 449.1 L614.8 448.0 L615.8 446.7 L616.8 447.1 L617.8 444.7 L618.8 446.4 L619.8 445.8 L620.8 444.1 L621.8 442.5 L622.8 446.2 L623.8 443.6 L624.8 447.7 L625.8 441.7 L626.8 443.6 L627.8 441.4 L628.8 442.1 L629.8 442.8 L630.8 440.1 L631.8 441.1 L632.8 441.4 L633.8 441.4 L634.8 442.2 L635.8 443.1 L636.8 443.0 L637.8 442.4 L638.8 441.9 L639.8 441.1 L640.8 442.1 L641.8 442.8 L642.8 445.0 L643.8 443.9 L644.8 443.0 L645.8 446.3 L646.8 444.6 L647.8 445.1 L648.8 446.2 L649.8 447.6 L650.8 443.6 L651.8 445.9 L652.8 448.3 L653.8 447.8 L654.8 447.5 L655.8 448.4 L656.8 451.6 L657.8 449.3 L658.8 451.4 L659.8 451.9 L660.8 450.4 L661.8 452.0 L662.8 451.0 L663.8 451.0 L664.8 450.4 L665.8 453.6 L666.8 451.8 L667.8 451.6 L668.8 450.8 L669.8 455.2 L670.8 453.7 L671.8 452.4 L672.8 451.6 L673.8 450.4 L674.8 453.2 L675.8 453.2 L676.8 450.7 L677.8 454.6 L678.8 454.0 L679.8 451.4 L680.8 452.1 L681.8 452.3 L682.8 453.2 L683.8 452.7 L684.8 450.5 L685.8 455.2 L686.8 453.5 L687.8 454.9 L688.8 454.9 L689.8 452.7 L690.8 453.5 L691.8 454.1 L692.8 454.2 L693.8 452.7 L694.8 452.1 L695.8 453.0 L696.8 451.8 L697.8 452.1 L698.8 449.9 L699.8 453.1 L700.8 451.4 L701.8 452.1 L702.8 452.9 L703.8 453.4 L704.8 455.7 L705.8 453.2 L706.8 450.8 L707.8 453.1 L708.8 451.9 L709.8 453.4 L710.8 451.8 L711.8 451.7 L712.8 452.0 L713.8 451.8 L714.8 450.0 L715.8 451.7 L716.8 452.6 L717.8 454.4 L718.8 452.1 L719.8 452.0 L720.8 453.3 L721.8 453.2 L722.8 454.8 L723.8 452.9 L724.8 451.4 L725.8 452.5 L726.8 451.6 L727.8 447.3 L728.8 446.9 L729.8 442.7 L730.8 443.3 L731.8 440.9 L732.8 440.0 L733.8 437.5 L734.8 435.8 L735.8 433.3 L736.8 431.3 L737.8 427.7 L738.8 423.2 L739.8 418.7 L740.8 419.1 L741.8 415.8 L742.8 409.3 L743.8 407.0 L744.8 399.9 L745.8 395.8 L746.8 393.4 L747.8 391.6 L748.8 383.4 L749.8 379.6 L750.8 379.1 L751.8 369.6 L752.8 369.6 L753.8 366.2 L754.8 362.8 L755.8 361.3 L756.8 363.7 L757.8 358.1 L758.8 360.4 L759.8 362.3 L760.8 363.6 L761.8 365.0 L762.8 372.6 L763.8 374.2 L764.8 374.7 L765.8 379.3 L766.8 383.9 L767.8 386.7 L768.8 386.8 L769.8 391.8 L770.8 395.3 L771.8 398.7 L772.8 401.8 L773.8 401.6 L774.8 410.2 L775.8 410.8 L776.8 416.5 L777.8 421.3 L778.8 419.6 L779.8 420.1 L780.8 424.9 L781.8 424.8 L782.8 425.8 L783.8 426.1 L784.8 431.3 L785.8 429.1 L786.8 428.6 L787.8 431.1 L788.8 431.0 L789.8 434.0 L790.8 434.3 L791.8 434.4 L792.8 438.0 L793.8 437.2 L794.8 440.3 L795.8 442.1 L796.8 440.7 L797.8 441.3 L798.8 443.5 L799.8 445.5 L800.8 445.0 L801.8 446.0 L802.8 446.6 L803.8 447.8 L804.8 449.1 L805.8 447.8 L806.8 448.9 L807.8 450.4 L808.8 450.1 L809.8 452.0 L810.8 453.4 L811.8 453.4 L812.8 453.4 L813.8 453.9 L814.8 458.5 L815.8 458.0 L816.8 455.9 L817.8 457.1 L818.8 462.0 L819.8 462.3 L820.8 461.0 L821.8 463.5 L822.8 460.5 L823.8 463.8 L824.8 465.9 L825.8 463.0 L826.8 465.5 L827.8 468.7 L828.8 469.8 L829.8 467.7 L830.8 469.2 L831.8 471.3 L832.8 468.5 L833.8 467.1 L834.8 469.1 L835.8 468.7 L836.8 471.3 L837.8 469.7 L838.8 468.3 L839.8 473.2 L840.8 468.9 L841.8 470.4 L842.8 470.7 L843.8 470.9 L844.8 470.0 L845.8 470.7 L846.8 469.8 L847.8 467.8 L848.8 469.6 L849.8 469.7 L850.8 469.8 L851.8 470.3 L852.8 469.2 L853.8 472.1 L854.8 472.5 L855.8 466.9 L856.8 470.3 L857.8 469.2 L858.8 466.4 L859.8 471.0 L860.8 469.4 L861.8 469.8 L862.8 469.5 L863.8 472.1 L864.8 472.4 L865.8 471.0 L866.8 471.6 L867.8 470.4 L868.8 470.9 L869.8 469.6 L870.8 470.8 L871.8 469.7 L872.8 471.4 L873.8 472.2 L874.8 471.5 L875.8 472.9 L876.8 475.3 L877.8 468.2 L878.8 471.5 L879.8 470.7 L880.8 471.0 L881.8 469.8 L882.8 472.1 L883.8 471.7 L884.8 471.3 L885.8 472.0 L886.8 471.7 L887.8 469.2 L888.8 474.4 L889.8 472.5 L890.8 471.7 L891.8 473.7 L892.8 472.5 L893.8 470.4 L894.8 475.2 L895.8 471.5 L896.8 473.9 L897.8 474.6 L898.8 476.7 L899.8 476.7 L900.8 475.3 L901.8 474.2 L902.8 474.9 L903.8 477.3 L904.8 478.6 L905.8 476.9 L906.8 475.3 L907.8 478.0 L908.8 476.0 L909.8 476.1 L910.8 476.4 L911.8 477.8 L912.8 477.5 L913.8 478.6 L914.8 479.1 L915.8 478.1 L916.8 473.9 L917.8 474.9 L918.8 477.7 L919.8 477.5 L920.8 480.9 L921.8 477.7 L922.8 477.5 L923.8 479.2 L924.8 479.5 L925.8 477.6 L926.8 478.7 L927.8 476.3 L928.8 476.7 L929.8 480.0 L930.8 476.1 L931.8 479.6 L932.8 479.3 L933.8 479.5 L934.8 479.7 L935.8 479.2 L936.8 475.2 L937.8 476.9 L938.8 477.6 L939.8 479.9 L940.8 476.8 L941.8 477.5 L942.8 478.0 L943.8 480.6 L944.8 476.4 L945.8 476.6 L946.8 479.6 L947.8 475.5 L948.8 479.2 L949.8 478.0 L950.8 476.4 L951.8 478.1 L952.8 477.3 L953.8 479.0 L954.8 479.4 L955.8 481.1 L956.8 478.8 L957.8 479.0 L958.8 478.0 L959.8 478.9 L960.8 480.5 L961.8 476.0 L962.8 479.9 L963.8 478.1 L964.8 479.1 L965.8 479.5 L966.8 480.2 L967.8 479.3 L968.8 478.4 L969.8 479.5 L970.8 479.0 L971.8 478.7 L972.8 479.3" fill="none" stroke="#00cc00" stroke-width="4.2" stroke-linejoin="round" stroke-linecap="round"/>
<path d="M152.8 247.0 L153.8 250.1 L154.8 251.7 L155.8 251.5 L156.8 256.9 L157.8 258.3 L158.8 258.8 L159.8 262.5 L160.8 264.2 L161.8 266.0 L162.8 267.3 L163.8 269.5 L164.8 268.7 L165.8 270.4 L166.8 270.8 L167.8 273.2 L168.8 273.0 L169.8 273.2 L170.8 273.0 L171.8 274.2 L172.8 274.9 L173.8 274.6 L174.8 276.9 L175.8 276.4 L176.8 270.6 L177.8 271.6 L178.8 273.9 L179.8 273.2 L180.8 273.8 L181.8 273.4 L182.8 275.9 L183.8 270.7 L184.8 271.4 L185.8 274.8 L186.8 272.4 L187.8 272.2 L188.8 270.3 L189.8 268.5 L190.8 271.3 L191.8 271.2 L192.8 269.2 L193.8 270.0 L194.8 270.9 L195.8 269.6 L196.8 270.9 L197.8 271.1 L198.8 271.1 L199.8 270.2 L200.8 271.9 L201.8 272.3 L202.8 271.5 L203.8 269.8 L204.8 272.1 L205.8 270.3 L206.8 272.4 L207.8 269.6 L208.8 272.7 L209.8 271.4 L210.8 269.7 L211.8 271.3 L212.8 272.0 L213.8 272.4 L214.8 270.5 L215.8 270.3 L216.8 272.2 L217.8 271.0 L218.8 271.8 L219.8 272.4 L220.8 268.4 L221.8 270.9 L222.8 271.9 L223.8 269.0 L224.8 267.1 L225.8 267.9 L226.8 265.3 L227.8 264.2 L228.8 260.2 L229.8 256.2 L230.8 255.9 L231.8 252.4 L232.8 250.9 L233.8 246.7 L234.8 240.8 L235.8 238.7 L236.8 239.4 L237.8 236.6 L238.8 232.1 L239.8 230.9 L240.8 229.8 L241.8 228.9 L242.8 229.3 L243.8 228.6 L244.8 228.5 L245.8 228.8 L246.8 231.4 L247.8 227.7 L248.8 233.0 L249.8 235.5 L250.8 234.7 L251.8 237.4 L252.8 235.4 L253.8 236.8 L254.8 234.2 L255.8 234.2 L256.8 233.8 L257.8 230.8 L258.8 227.0 L259.8 224.3 L260.8 227.8 L261.8 224.0 L262.8 222.2 L263.8 222.6 L264.8 221.4 L265.8 222.5 L266.8 221.1 L267.8 221.2 L268.8 220.5 L269.8 223.0 L270.8 221.5 L271.8 224.8 L272.8 227.0 L273.8 223.5 L274.8 223.3 L275.8 229.3 L276.8 233.8 L277.8 230.1 L278.8 231.7 L279.8 237.0 L280.8 237.6 L281.8 241.1 L282.8 244.2 L283.8 248.3 L284.8 249.4 L285.8 252.9 L286.8 254.7 L287.8 256.1 L288.8 259.1 L289.8 260.2 L290.8 263.4 L291.8 263.5 L292.8 265.1 L293.8 270.5 L294.8 269.5 L295.8 270.7 L296.8 272.6 L297.8 272.1 L298.8 273.3 L299.8 275.0 L300.8 275.4 L301.8 273.7 L302.8 277.1 L303.8 275.4 L304.8 275.1 L305.8 275.6 L306.8 276.7 L307.8 280.0 L308.8 276.0 L309.8 278.2 L310.8 274.9 L311.8 278.3 L312.8 279.8 L313.8 278.2 L314.8 277.7 L315.8 279.1 L316.8 279.9 L317.8 279.9 L318.8 281.9 L319.8 279.3 L320.8 278.1 L321.8 278.8 L322.8 278.8 L323.8 278.9 L324.8 278.6 L325.8 278.8 L326.8 275.9 L327.8 279.4 L328.8 277.2 L329.8 276.1 L330.8 278.6 L331.8 279.5 L332.8 278.1 L333.8 277.4 L334.8 275.6 L335.8 281.2 L336.8 278.1 L337.8 274.9 L338.8 275.4 L339.8 276.5 L340.8 274.0 L341.8 276.4 L342.8 275.4 L343.8 277.8 L344.8 277.2 L345.8 271.6 L346.8 275.6 L347.8 272.9 L348.8 276.9 L349.8 275.3 L350.8 275.7 L351.8 273.1 L352.8 277.2 L353.8 277.3 L354.8 272.4 L355.8 274.3 L356.8 272.5 L357.8 273.2 L358.8 271.1 L359.8 275.5 L360.8 271.0 L361.8 271.7 L362.8 272.6 L363.8 270.6 L364.8 270.9 L365.8 270.1 L366.8 270.5 L367.8 268.6 L368.8 269.4 L369.8 269.4 L370.8 268.9 L371.8 269.2 L372.8 268.3 L373.8 269.5 L374.8 267.5 L375.8 267.4 L376.8 266.2 L377.8 266.1 L378.8 264.6 L379.8 266.8 L380.8 263.9 L381.8 264.1 L382.8 265.4 L383.8 265.1 L384.8 263.5 L385.8 260.7 L386.8 263.9 L387.8 263.3 L388.8 260.4 L389.8 263.3 L390.8 260.7 L391.8 259.6 L392.8 261.1 L393.8 260.2 L394.8 260.4 L395.8 257.3 L396.8 262.0 L397.8 258.0 L398.8 256.2 L399.8 259.0 L400.8 257.1 L401.8 257.7 L402.8 256.2 L403.8 256.1 L404.8 256.1 L405.8 254.1 L406.8 255.8 L407.8 253.6 L408.8 252.6 L409.8 253.7 L410.8 253.9 L411.8 252.7 L412.8 251.6 L413.8 253.6 L414.8 249.9 L415.8 250.9 L416.8 252.4 L417.8 250.2 L418.8 252.2 L419.8 252.0 L420.8 253.4 L421.8 250.6 L422.8 251.2 L423.8 252.8 L424.8 248.9 L425.8 257.6 L426.8 252.3 L427.8 252.8 L428.8 255.7 L429.8 254.8 L430.8 252.7 L431.8 256.8 L432.8 257.7 L433.8 256.3 L434.8 257.1 L435.8 258.9 L436.8 257.5 L437.8 260.2 L438.8 260.5 L439.8 259.9 L440.8 259.5 L441.8 261.9 L442.8 261.5 L443.8 264.9 L444.8 264.1 L445.8 265.6 L446.8 265.1 L447.8 265.7 L448.8 264.7 L449.8 267.3 L450.8 269.5 L451.8 266.8 L452.8 266.9 L453.8 268.0 L454.8 267.9 L455.8 268.0 L456.8 269.7 L457.8 269.4 L458.8 272.4 L459.8 270.6 L460.8 271.4 L461.8 272.6 L462.8 271.0 L463.8 273.8 L464.8 270.9 L465.8 270.7 L466.8 271.5 L467.8 271.9 L468.8 270.1 L469.8 272.2 L470.8 269.8 L471.8 274.5 L472.8 272.3 L473.8 271.5 L474.8 271.2 L475.8 272.0 L476.8 272.3 L477.8 271.1 L478.8 271.4 L479.8 272.5 L480.8 272.0 L481.8 274.3 L482.8 274.6 L483.8 272.9 L484.8 273.7 L485.8 271.0 L486.8 273.9 L487.8 272.9 L488.8 273.7 L489.8 275.4 L490.8 269.6 L491.8 273.4 L492.8 271.3 L493.8 273.9 L494.8 271.0 L495.8 272.2 L496.8 273.2 L497.8 273.8 L498.8 273.0 L499.8 271.6 L500.8 272.0 L501.8 274.1 L502.8 272.7 L503.8 270.1 L504.8 273.9 L505.8 273.2 L506.8 273.8 L507.8 272.0 L508.8 273.7 L509.8 270.8 L510.8 273.1 L511.8 271.5 L512.8 273.2 L513.8 273.6 L514.8 270.9 L515.8 271.9 L516.8 271.9 L517.8 273.4 L518.8 272.5 L519.8 269.4 L520.8 271.7 L521.8 271.9 L522.8 273.7 L523.8 267.6 L524.8 269.0 L525.8 271.5 L526.8 267.1 L527.8 267.0 L528.8 269.2 L529.8 269.6 L530.8 266.7 L531.8 268.0 L532.8 266.9 L533.8 268.5 L534.8 265.6 L535.8 266.5 L536.8 263.0 L537.8 263.4 L538.8 262.9 L539.8 264.0 L540.8 262.5 L541.8 259.9 L542.8 261.4 L543.8 260.9 L544.8 258.9 L545.8 258.1 L546.8 257.5 L547.8 254.5 L548.8 256.6 L549.8 256.0 L550.8 253.7 L551.8 255.6 L552.8 252.1 L553.8 253.2 L554.8 253.3 L555.8 257.1 L556.8 251.9 L557.8 255.4 L558.8 256.2 L559.8 255.7 L560.8 257.3 L561.8 254.3 L562.8 252.8 L563.8 257.7 L564.8 255.1 L565.8 256.8 L566.8 256.0 L567.8 259.9 L568.8 260.2 L569.8 258.4 L570.8 261.4 L571.8 260.8 L572.8 261.0 L573.8 261.8 L574.8 261.8 L575.8 263.4 L576.8 263.1 L577.8 262.2 L578.8 264.2 L579.8 261.7 L580.8 263.0 L581.8 263.1 L582.8 264.5 L583.8 261.4 L584.8 264.6 L585.8 262.0 L586.8 261.3 L587.8 260.3 L588.8 261.9 L589.8 260.9 L590.8 258.9 L591.8 258.6 L592.8 259.2 L593.8 258.7 L594.8 261.1 L595.8 261.2 L596.8 260.2 L597.8 259.1 L598.8 257.7 L599.8 258.1 L600.8 259.1 L601.8 260.7 L602.8 258.6 L603.8 256.5 L604.8 256.6 L605.8 255.5 L606.8 254.7 L607.8 255.2 L608.8 255.4 L609.8 257.5 L610.8 254.5 L611.8 256.1 L612.8 256.3 L613.8 253.4 L614.8 255.3 L615.8 253.6 L616.8 251.6 L617.8 252.3 L618.8 251.6 L619.8 250.9 L620.8 250.7 L621.8 250.9 L622.8 251.1 L623.8 248.9 L624.8 250.0 L625.8 247.6 L626.8 250.1 L627.8 250.4 L628.8 249.6 L629.8 249.6 L630.8 249.9 L631.8 247.8 L632.8 248.3 L633.8 249.3 L634.8 249.8 L635.8 248.8 L636.8 251.9 L637.8 247.8 L638.8 249.3 L639.8 249.6 L640.8 247.4 L641.8 246.3 L642.8 245.7 L643.8 247.6 L644.8 249.0 L645.8 247.7 L646.8 247.6 L647.8 246.7 L648.8 248.2 L649.8 244.2 L650.8 247.9 L651.8 247.7 L652.8 245.8 L653.8 251.3 L654.8 246.2 L655.8 246.8 L656.8 246.9 L657.8 250.6 L658.8 247.9 L659.8 250.5 L660.8 250.6 L661.8 250.4 L662.8 248.3 L663.8 249.6 L664.8 253.3 L665.8 249.1 L666.8 250.1 L667.8 251.3 L668.8 253.0 L669.8 252.3 L670.8 253.3 L671.8 250.7 L672.8 254.0 L673.8 253.6 L674.8 250.6 L675.8 255.5 L676.8 256.8 L677.8 252.4 L678.8 253.9 L679.8 256.1 L680.8 252.0 L681.8 251.5 L682.8 252.7 L683.8 254.0 L684.8 254.2 L685.8 256.1 L686.8 255.8 L687.8 253.7 L688.8 256.6 L689.8 258.7 L690.8 257.8 L691.8 257.6 L692.8 256.3 L693.8 257.8 L694.8 254.9 L695.8 257.6 L696.8 256.4 L697.8 258.2 L698.8 257.2 L699.8 254.8 L700.8 256.6 L701.8 258.2 L702.8 254.6 L703.8 255.4 L704.8 255.0 L705.8 253.7 L706.8 257.3 L707.8 257.7 L708.8 256.8 L709.8 255.8 L710.8 255.2 L711.8 255.5 L712.8 253.9 L713.8 256.2 L714.8 256.3 L715.8 256.0 L716.8 253.6 L717.8 254.4 L718.8 253.9 L719.8 256.7 L720.8 254.2 L721.8 251.0 L722.8 254.3 L723.8 256.4 L724.8 254.5 L725.8 254.7 L726.8 253.4 L727.8 250.3 L728.8 250.4 L729.8 251.2 L730.8 252.8 L731.8 253.3 L732.8 253.8 L733.8 252.2 L734.8 254.0 L735.8 252.0 L736.8 251.3 L737.8 253.5 L738.8 250.8 L739.8 247.9 L740.8 250.3 L741.8 251.9 L742.8 247.0 L743.8 250.9 L744.8 250.7 L745.8 248.9 L746.8 248.6 L747.8 250.0 L748.8 249.6 L749.8 252.1 L750.8 250.4 L751.8 247.0 L752.8 247.6 L753.8 249.4 L754.8 250.6 L755.8 247.6 L756.8 246.8 L757.8 248.3 L758.8 244.7 L759.8 243.4 L760.8 240.7 L761.8 240.9 L762.8 243.7 L763.8 236.8 L764.8 237.4 L765.8 233.4 L766.8 233.5 L767.8 232.1 L768.8 227.7 L769.8 226.2 L770.8 222.9 L771.8 218.9 L772.8 216.9 L773.8 211.3 L774.8 205.4 L775.8 200.2 L776.8 194.8 L777.8 191.3 L778.8 184.8 L779.8 184.6 L780.8 178.8 L781.8 171.2 L782.8 166.8 L783.8 166.1 L784.8 157.7 L785.8 157.4 L786.8 157.1 L787.8 152.3 L788.8 151.4 L789.8 150.9 L790.8 152.7 L791.8 153.1 L792.8 155.4 L793.8 158.0 L794.8 159.6 L795.8 164.1 L796.8 165.3 L797.8 168.8 L798.8 173.1 L799.8 177.8 L800.8 183.3 L801.8 189.6 L802.8 192.2 L803.8 194.7 L804.8 197.7 L805.8 202.1 L806.8 205.9 L807.8 209.2 L808.8 211.2 L809.8 215.7 L810.8 220.6 L811.8 218.2 L812.8 223.4 L813.8 222.6 L814.8 227.9 L815.8 228.2 L816.8 227.8 L817.8 232.5 L818.8 236.4 L819.8 235.2 L820.8 238.2 L821.8 237.7 L822.8 235.9 L823.8 241.1 L824.8 241.0 L825.8 240.6 L826.8 245.1 L827.8 245.6 L828.8 245.5 L829.8 248.3 L830.8 246.0 L831.8 248.2 L832.8 245.7 L833.8 247.8 L834.8 245.2 L835.8 248.8 L836.8 246.7 L837.8 248.2 L838.8 244.5 L839.8 244.7 L840.8 246.2 L841.8 240.4 L842.8 242.3 L843.8 244.7 L844.8 243.1 L845.8 242.7 L846.8 239.0 L847.8 238.1 L848.8 233.7 L849.8 230.4 L850.8 227.7 L851.8 227.0 L852.8 224.6 L853.8 222.1 L854.8 215.4 L855.8 215.5 L856.8 215.4 L857.8 214.4 L858.8 211.1 L859.8 209.0 L860.8 205.4 L861.8 210.5 L862.8 204.7 L863.8 208.2 L864.8 207.9 L865.8 206.8 L866.8 207.0 L867.8 209.8 L868.8 210.2 L869.8 215.9 L870.8 219.3 L871.8 223.6 L872.8 227.5 L873.8 231.9 L874.8 231.9 L875.8 237.0 L876.8 237.1 L877.8 239.7 L878.8 242.9 L879.8 244.8 L880.8 250.1 L881.8 252.0 L882.8 254.2 L883.8 253.9 L884.8 255.8 L885.8 255.8 L886.8 256.1 L887.8 259.4 L888.8 260.0 L889.8 258.7 L890.8 261.9 L891.8 258.9 L892.8 261.6 L893.8 261.2 L894.8 261.6 L895.8 261.0 L896.8 264.3 L897.8 264.0 L898.8 265.1 L899.8 263.7 L900.8 261.7 L901.8 263.2 L902.8 262.1 L903.8 264.7 L904.8 266.0 L905.8 264.8 L906.8 263.6 L907.8 264.1 L908.8 265.1 L909.8 262.8 L910.8 265.3 L911.8 265.6 L912.8 264.7 L913.8 265.0 L914.8 266.1 L915.8 264.8 L916.8 265.0 L917.8 267.6 L918.8 266.9 L919.8 269.3 L920.8 265.4 L921.8 264.4 L922.8 268.7 L923.8 268.9 L924.8 266.5 L925.8 265.6 L926.8 267.8 L927.8 265.4 L928.8 267.7 L929.8 265.1 L930.8 268.1 L931.8 265.4 L932.8 268.4 L933.8 271.1 L934.8 268.6 L935.8 270.2 L936.8 268.2 L937.8 268.0 L938.8 267.1 L939.8 271.0 L940.8 269.5 L941.8 272.1 L942.8 268.0 L943.8 269.5 L944.8 270.1 L945.8 272.1 L946.8 272.8 L947.8 269.2 L948.8 268.6 L949.8 267.8 L950.8 272.5 L951.8 270.5 L952.8 269.7 L953.8 270.8 L954.8 267.1 L955.8 268.5 L956.8 272.6 L957.8 271.9 L958.8 271.6 L959.8 270.0 L960.8 272.5 L961.8 274.4 L962.8 270.0 L963.8 271.9 L964.8 271.4 L965.8 272.7 L966.8 272.3 L967.8 272.2 L968.8 271.2 L969.8 272.6 L970.8 271.8" fill="none" stroke="#ffa500" stroke-width="4.2" stroke-linejoin="round" stroke-linecap="round"/>
<rect x="339.7" y="41.8" width="260.3" height="174" fill="#fff" stroke="#777" stroke-width="2.6"/>
<line x1="349.5" y1="67.3" x2="418" y2="67.3" stroke="#ff0000" stroke-width="5"/>
<text transform="translate(434.6 78.7) scale(1 1.045)" font-size="37.5">Gr bare</text>
<line x1="349.5" y1="109.0" x2="418" y2="109.0" stroke="#0000ff" stroke-width="5"/>
<text transform="translate(434.6 120.4) scale(1 1.045)" font-size="37.5">Gr_ZnPc</text>
<line x1="349.5" y1="150.8" x2="418" y2="150.8" stroke="#00cc00" stroke-width="5"/>
<text transform="translate(434.6 162.1) scale(1 1.045)" font-size="37.5">Gr_ZnPR</text>
<line x1="349.5" y1="192.5" x2="418" y2="192.5" stroke="#ffa500" stroke-width="5"/>
<text transform="translate(434.6 203.8) scale(1 1.045)" font-size="37.5">Gr_CuPR</text>
<text x="812.3" y="93" font-size="37" font-weight="bold">G-band</text>
<svg x="1063" y="17" width="856" height="858" viewBox="0 0 856 858" overflow="hidden">
<defs><radialGradient id="rb0"><stop offset="0" stop-color="rgb(88,88,88)" stop-opacity="1"/><stop offset="0.45" stop-color="rgb(88,88,88)" stop-opacity="0.85"/><stop offset="1" stop-color="rgb(88,88,88)" stop-opacity="0"/></radialGradient><radialGradient id="rb1"><stop offset="0" stop-color="rgb(89,89,89)" stop-opacity="1"/><stop offset="0.45" stop-color="rgb(89,89,89)" stop-opacity="0.85"/><stop offset="1" stop-color="rgb(89,89,89)" stop-opacity="0"/></radialGradient><radialGradient id="rb2"><stop offset="0" stop-color="rgb(90,90,90)" stop-opacity="1"/><stop offset="0.45" stop-color="rgb(90,90,90)" stop-opacity="0.85"/><stop offset="1" stop-color="rgb(90,90,90)" stop-opacity="0"/></radialGradient><radialGradient id="rb3"><stop offset="0" stop-color="rgb(91,91,91)" stop-opacity="1"/><stop offset="0.45" stop-color="rgb(91,91,91)" stop-opacity="0.85"/><stop offset="1" stop-color="rgb(91,91,91)" stop-opacity="0"/></radialGradient><radialGradient id="rb4"><stop offset="0" stop-color="rgb(93,93,93)" stop-opacity="1"/><stop offset="0.45" stop-color="rgb(93,93,93)" stop-opacity="0.85"/><stop offset="1" stop-color="rgb(93,93,93)" stop-opacity="0"/></radialGradient><radialGradient id="rb5"><stop offset="0" stop-color="rgb(94,94,94)" stop-opacity="1"/><stop offset="0.45" stop-color="rgb(94,94,94)" stop-opacity="0.85"/><stop offset="1" stop-color="rgb(94,94,94)" stop-opacity="0"/></radialGradient><radialGradient id="rb6"><stop offset="0" stop-color="rgb(95,95,95)" stop-opacity="1"/><stop offset="0.45" stop-color="rgb(95,95,95)" stop-opacity="0.85"/><stop offset="1" stop-color="rgb(95,95,95)" stop-opacity="0"/></radialGradient><radialGradient id="rb7"><stop offset="0" stop-color="rgb(96,96,96)" stop-opacity="1"/><stop offset="0.45" stop-color="rgb(96,96,96)" stop-opacity="0.85"/><stop offset="1" stop-color="rgb(96,96,96)" stop-opacity="0"/></radialGradient><radialGradient id="rb8"><stop offset="0" stop-color="rgb(97,97,97)" stop-opacity="1"/><stop offset="0.45" stop-color="rgb(97,97,97)" stop-opacity="0.85"/><stop offset="1" stop-color="rgb(97,97,97)" stop-opacity="0"/></radialGradient><radialGradient id="rb9"><stop offset="0" stop-color="rgb(98,98,98)" stop-opacity="1"/><stop offset="0.45" stop-color="rgb(98,98,98)" stop-opacity="0.85"/><stop offset="1" stop-color="rgb(98,98,98)" stop-opacity="0"/></radialGradient><radialGradient id="rb10"><stop offset="0" stop-color="rgb(100,100,100)" stop-opacity="1"/><stop offset="0.45" stop-color="rgb(100,100,100)" stop-opacity="0.85"/><stop offset="1" stop-color="rgb(100,100,100)" stop-opacity="0"/></radialGradient><radialGradient id="rb11"><stop offset="0" stop-color="rgb(101,101,101)" stop-opacity="1"/><stop offset="0.45" stop-color="rgb(101,101,101)" stop-opacity="0.85"/><stop offset="1" stop-color="rgb(101,101,101)" stop-opacity="0"/></radialGradient><filter id="fbb" x="-50%" y="-50%" width="200%" height="200%" color-interpolation-filters="sRGB"><feGaussianBlur stdDeviation="6"/></filter>
<filter id="fb" filterUnits="userSpaceOnUse" x="-40" y="-40" width="936" height="938" color-interpolation-filters="sRGB">
<feGaussianBlur in="SourceGraphic" stdDeviation="2" result="h"/>
<feTurbulence type="fractalNoise" baseFrequency="0.02" numOctaves="2" seed="3" result="n"/>
<feColorMatrix in="n" type="matrix" values="1 0 0 0 0 1 0 0 0 0 1 0 0 0 0 0 0 0 0 1" result="ng0"/>
<feGaussianBlur in="ng0" stdDeviation="2" result="ng"/>
<feComposite in="h" in2="ng" operator="arithmetic" k1="0" k2="1" k3="0.22" k4="-0.1100" result="hn"/>
<feComponentTransfer in="hn"><feFuncR type="table" tableValues="0.0000 0.0429 0.0990 0.1603 0.2260 0.2930 0.3643 0.4351 0.5046 0.5679 0.6204 0.6703 0.7010 0.7316 0.7588 0.7833 0.8078 0.8293 0.8494 0.8694 0.8897 0.9112 0.9326 0.9453 0.9521 0.9589 0.9657 0.9725 0.9793 0.9848 0.9901 0.9951 1.0000"/><feFuncG type="table" tableValues="0.0000 0.0123 0.0245 0.0368 0.0499 0.0635 0.0813 0.0987 0.1150 0.1331 0.1541 0.1773 0.2172 0.2570 0.3020 0.3510 0.4000 0.4566 0.5168 0.5769 0.6353 0.6843 0.7333 0.7693 0.7965 0.8237 0.8490 0.8735 0.8980 0.9196 0.9406 0.9608 0.9804"/><feFuncB type="table" tableValues="0.0000 0.0123 0.0186 0.0227 0.0271 0.0316 0.0360 0.0415 0.0497 0.0574 0.0644 0.0728 0.0912 0.1096 0.1314 0.1559 0.1804 0.2064 0.2332 0.2599 0.2868 0.3143 0.3419 0.3979 0.4728 0.5477 0.6147 0.6787 0.7427 0.7971 0.8496 0.9000 0.9490"/><feFuncA type="table" tableValues="1 1"/></feComponentTransfer>
</filter></defs>
<g filter="url(#fb)"><rect x="-40" y="-40" width="936" height="938" fill="rgb(85,85,85)"/>
<ellipse cx="-12.1" cy="-17.0" rx="19.6" ry="16.4" fill="url(#rb7)"/>
<ellipse cx="33.5" cy="-22.1" rx="15.4" ry="18.1" fill="url(#rb7)"/>
<ellipse cx="51.5" cy="-15.2" rx="21.8" ry="19.1" fill="url(#rb9)"/>
<ellipse cx="105.6" cy="-27.8" rx="15.8" ry="18.7" fill="url(#rb4)"/>
<ellipse cx="138.4" cy="-15.6" rx="17.7" ry="14.2" fill="url(#rb3)"/>
<ellipse cx="179.2" cy="-12.7" rx="18.8" ry="18.4" fill="url(#rb2)"/>
<ellipse cx="228.0" cy="-28.8" rx="19.7" ry="19.7" fill="url(#rb6)"/>
<ellipse cx="256.8" cy="-28.3" rx="15.7" ry="16.7" fill="url(#rb3)"/>
<ellipse cx="286.4" cy="-28.6" rx="21.2" ry="22.9" fill="url(#rb6)"/>
<ellipse cx="337.2" cy="-11.1" rx="16.4" ry="17.3" fill="url(#rb0)"/>
<ellipse cx="384.1" cy="-6.8" rx="19.6" ry="16.2" fill="url(#rb7)"/>
<ellipse cx="414.9" cy="-8.2" rx="14.6" ry="11.7" fill="url(#rb1)"/>
<ellipse cx="455.5" cy="-9.3" rx="18.6" ry="19.9" fill="url(#rb0)"/>
<ellipse cx="490.9" cy="-23.3" rx="19.0" ry="21.0" fill="url(#rb6)"/>
<ellipse cx="533.8" cy="-29.0" rx="17.5" ry="15.8" fill="url(#rb8)"/>
<ellipse cx="591.0" cy="-11.5" rx="15.4" ry="17.1" fill="url(#rb0)"/>
<ellipse cx="609.8" cy="-14.4" rx="16.8" ry="19.0" fill="url(#rb7)"/>
<ellipse cx="663.9" cy="-17.2" rx="21.2" ry="23.9" fill="url(#rb0)"/>
<ellipse cx="713.6" cy="-21.9" rx="16.7" ry="19.1" fill="url(#rb10)"/>
<ellipse cx="747.6" cy="-13.8" rx="14.6" ry="13.3" fill="url(#rb9)"/>
<ellipse cx="794.0" cy="-26.1" rx="20.0" ry="17.0" fill="url(#rb8)"/>
<ellipse cx="816.0" cy="-31.8" rx="15.8" ry="16.2" fill="url(#rb5)"/>
<ellipse cx="865.2" cy="-24.2" rx="18.8" ry="17.8" fill="url(#rb8)"/>
<ellipse cx="-13.8" cy="17.1" rx="18.7" ry="15.5" fill="url(#rb8)"/>
<ellipse cx="43.8" cy="27.2" rx="15.8" ry="15.4" fill="url(#rb9)"/>
<ellipse cx="92.4" cy="19.8" rx="17.1" ry="18.7" fill="url(#rb5)"/>
<ellipse cx="121.0" cy="19.6" rx="21.3" ry="17.1" fill="url(#rb8)"/>
<ellipse cx="171.6" cy="11.1" rx="16.2" ry="16.7" fill="url(#rb0)"/>
<ellipse cx="208.5" cy="14.3" rx="19.3" ry="21.5" fill="url(#rb0)"/>
<ellipse cx="231.3" cy="12.3" rx="18.8" ry="18.0" fill="url(#rb3)"/>
<ellipse cx="266.7" cy="12.6" rx="21.3" ry="17.3" fill="url(#rb7)"/>
<ellipse cx="311.7" cy="27.8" rx="20.3" ry="18.0" fill="url(#rb11)"/>
<ellipse cx="354.7" cy="20.0" rx="16.4" ry="15.1" fill="url(#rb1)"/>
<ellipse cx="394.2" cy="12.1" rx="14.6" ry="11.9" fill="url(#rb0)"/>
<ellipse cx="450.6" cy="12.3" rx="21.2" ry="21.0" fill="url(#rb6)"/>
<ellipse cx="476.4" cy="22.5" rx="17.0" ry="19.1" fill="url(#rb4)"/>
<ellipse cx="509.6" cy="12.3" rx="14.6" ry="14.1" fill="url(#rb4)"/>
<ellipse cx="565.8" cy="28.6" rx="15.7" ry="16.2" fill="url(#rb9)"/>
<ellipse cx="605.1" cy="7.2" rx="17.5" ry="20.6" fill="url(#rb6)"/>
<ellipse cx="644.9" cy="9.3" rx="20.3" ry="20.7" fill="url(#rb9)"/>
<ellipse cx="673.8" cy="7.1" rx="15.8" ry="16.4" fill="url(#rb1)"/>
<ellipse cx="715.7" cy="19.2" rx="16.5" ry="14.9" fill="url(#rb3)"/>
<ellipse cx="759.3" cy="21.8" rx="16.4" ry="16.7" fill="url(#rb11)"/>
<ellipse cx="800.0" cy="8.2" rx="20.6" ry="23.9" fill="url(#rb8)"/>
<ellipse cx="835.1" cy="14.7" rx="16.8" ry="19.7" fill="url(#rb0)"/>
<ellipse cx="890.5" cy="8.0" rx="15.5" ry="17.7" fill="url(#rb9)"/>
<ellipse cx="-32.9" cy="43.5" rx="15.2" ry="16.7" fill="url(#rb10)"/>
<ellipse cx="14.2" cy="45.2" rx="14.8" ry="12.3" fill="url(#rb1)"/>
<ellipse cx="66.3" cy="41.1" rx="17.8" ry="16.2" fill="url(#rb6)"/>
<ellipse cx="101.5" cy="45.0" rx="16.4" ry="19.1" fill="url(#rb10)"/>
<ellipse cx="139.1" cy="46.4" rx="18.3" ry="18.6" fill="url(#rb11)"/>
<ellipse cx="178.1" cy="44.9" rx="21.3" ry="22.6" fill="url(#rb2)"/>
<ellipse cx="221.3" cy="58.2" rx="18.6" ry="16.8" fill="url(#rb4)"/>
<ellipse cx="266.4" cy="50.9" rx="14.6" ry="13.6" fill="url(#rb8)"/>
<ellipse cx="287.7" cy="46.5" rx="18.6" ry="17.1" fill="url(#rb7)"/>
<ellipse cx="327.8" cy="61.5" rx="20.0" ry="23.1" fill="url(#rb6)"/>
<ellipse cx="379.0" cy="43.9" rx="15.2" ry="15.4" fill="url(#rb3)"/>
<ellipse cx="430.2" cy="39.9" rx="14.8" ry="16.5" fill="url(#rb11)"/>
<ellipse cx="458.1" cy="59.7" rx="19.7" ry="22.0" fill="url(#rb6)"/>
<ellipse cx="500.2" cy="52.9" rx="20.3" ry="23.9" fill="url(#rb10)"/>
<ellipse cx="546.5" cy="61.3" rx="14.6" ry="11.9" fill="url(#rb3)"/>
<ellipse cx="566.2" cy="51.0" rx="15.9" ry="18.3" fill="url(#rb1)"/>
<ellipse cx="627.6" cy="37.0" rx="21.3" ry="20.2" fill="url(#rb3)"/>
<ellipse cx="655.0" cy="55.0" rx="20.7" ry="22.2" fill="url(#rb2)"/>
<ellipse cx="696.5" cy="48.9" rx="16.5" ry="19.3" fill="url(#rb8)"/>
<ellipse cx="745.6" cy="42.2" rx="18.4" ry="16.4" fill="url(#rb4)"/>
<ellipse cx="787.7" cy="42.3" rx="19.4" ry="17.4" fill="url(#rb9)"/>
<ellipse cx="810.5" cy="60.0" rx="14.9" ry="13.2" fill="url(#rb7)"/>
<ellipse cx="856.1" cy="39.8" rx="15.7" ry="15.7" fill="url(#rb3)"/>
<ellipse cx="11.3" cy="90.8" rx="18.0" ry="19.1" fill="url(#rb2)"/>
<ellipse cx="38.1" cy="92.5" rx="21.0" ry="18.1" fill="url(#rb4)"/>
<ellipse cx="87.7" cy="77.9" rx="17.0" ry="14.2" fill="url(#rb9)"/>
<ellipse cx="109.1" cy="88.8" rx="15.2" ry="13.8" fill="url(#rb10)"/>
<ellipse cx="149.4" cy="91.9" rx="16.1" ry="18.1" fill="url(#rb4)"/>
<ellipse cx="201.1" cy="92.7" rx="15.1" ry="14.4" fill="url(#rb10)"/>
<ellipse cx="233.4" cy="85.8" rx="21.2" ry="22.8" fill="url(#rb10)"/>
<ellipse cx="281.5" cy="88.7" rx="14.9" ry="17.7" fill="url(#rb5)"/>
<ellipse cx="321.0" cy="84.8" rx="16.8" ry="19.9" fill="url(#rb7)"/>
<ellipse cx="360.9" cy="74.2" rx="19.9" ry="20.9" fill="url(#rb10)"/>
<ellipse cx="402.0" cy="79.1" rx="19.0" ry="16.4" fill="url(#rb2)"/>
<ellipse cx="442.1" cy="88.0" rx="21.5" ry="17.5" fill="url(#rb10)"/>
<ellipse cx="477.4" cy="70.8" rx="17.4" ry="18.1" fill="url(#rb4)"/>
<ellipse cx="515.8" cy="92.8" rx="17.5" ry="20.7" fill="url(#rb3)"/>
<ellipse cx="548.8" cy="83.5" rx="19.7" ry="18.6" fill="url(#rb3)"/>
<ellipse cx="601.7" cy="92.9" rx="18.7" ry="19.4" fill="url(#rb4)"/>
<ellipse cx="644.3" cy="91.2" rx="15.1" ry="18.0" fill="url(#rb5)"/>
<ellipse cx="678.8" cy="83.8" rx="19.9" ry="19.6" fill="url(#rb7)"/>
<ellipse cx="714.3" cy="77.0" rx="18.3" ry="15.5" fill="url(#rb0)"/>
<ellipse cx="765.9" cy="74.0" rx="19.0" ry="22.2" fill="url(#rb9)"/>
<ellipse cx="789.0" cy="83.0" rx="18.6" ry="17.4" fill="url(#rb4)"/>
<ellipse cx="852.8" cy="74.3" rx="20.6" ry="22.9" fill="url(#rb2)"/>
<ellipse cx="876.4" cy="84.6" rx="21.0" ry="16.8" fill="url(#rb10)"/>
<ellipse cx="-32.4" cy="112.9" rx="14.5" ry="17.3" fill="url(#rb11)"/>
<ellipse cx="18.1" cy="124.4" rx="14.9" ry="15.2" fill="url(#rb4)"/>
<ellipse cx="61.4" cy="113.2" rx="19.3" ry="19.1" fill="url(#rb5)"/>
<ellipse cx="99.7" cy="114.3" rx="18.1" ry="19.7" fill="url(#rb7)"/>
<ellipse cx="129.8" cy="123.1" rx="15.9" ry="16.8" fill="url(#rb8)"/>
<ellipse cx="184.0" cy="126.7" rx="17.4" ry="20.9" fill="url(#rb10)"/>
<ellipse cx="220.9" cy="113.0" rx="21.3" ry="21.9" fill="url(#rb2)"/>
<ellipse cx="257.5" cy="107.9" rx="18.0" ry="16.4" fill="url(#rb2)"/>
<ellipse cx="307.3" cy="113.3" rx="21.5" ry="23.1" fill="url(#rb4)"/>
<ellipse cx="334.2" cy="108.5" rx="17.1" ry="17.4" fill="url(#rb0)"/>
<ellipse cx="382.0" cy="110.5" rx="15.7" ry="13.5" fill="url(#rb3)"/>
<ellipse cx="423.0" cy="111.8" rx="19.4" ry="19.3" fill="url(#rb4)"/>
<ellipse cx="472.9" cy="130.7" rx="15.9" ry="15.8" fill="url(#rb6)"/>
<ellipse cx="495.7" cy="114.9" rx="21.5" ry="22.2" fill="url(#rb10)"/>
<ellipse cx="535.7" cy="122.7" rx="18.4" ry="20.6" fill="url(#rb2)"/>
<ellipse cx="567.1" cy="127.2" rx="21.0" ry="17.1" fill="url(#rb10)"/>
<ellipse cx="619.4" cy="106.7" rx="16.4" ry="14.2" fill="url(#rb6)"/>
<ellipse cx="673.9" cy="115.6" rx="19.4" ry="18.0" fill="url(#rb2)"/>
<ellipse cx="713.4" cy="129.4" rx="15.2" ry="13.8" fill="url(#rb6)"/>
<ellipse cx="746.9" cy="113.2" rx="14.9" ry="13.5" fill="url(#rb6)"/>
<ellipse cx="790.1" cy="105.1" rx="19.7" ry="20.4" fill="url(#rb4)"/>
<ellipse cx="819.0" cy="105.7" rx="18.0" ry="20.0" fill="url(#rb4)"/>
<ellipse cx="861.7" cy="123.4" rx="15.4" ry="14.8" fill="url(#rb3)"/>
<ellipse cx="-7.5" cy="155.9" rx="14.8" ry="14.9" fill="url(#rb8)"/>
<ellipse cx="32.0" cy="140.2" rx="20.7" ry="23.6" fill="url(#rb4)"/>
<ellipse cx="89.8" cy="145.5" rx="15.9" ry="17.3" fill="url(#rb2)"/>
<ellipse cx="116.0" cy="157.3" rx="16.4" ry="13.2" fill="url(#rb10)"/>
<ellipse cx="155.1" cy="146.6" rx="18.3" ry="20.7" fill="url(#rb5)"/>
<ellipse cx="200.8" cy="161.1" rx="21.5" ry="22.6" fill="url(#rb9)"/>
<ellipse cx="232.5" cy="145.6" rx="15.2" ry="13.9" fill="url(#rb3)"/>
<ellipse cx="288.8" cy="165.9" rx="15.4" ry="16.2" fill="url(#rb11)"/>
<ellipse cx="331.9" cy="145.1" rx="18.8" ry="20.2" fill="url(#rb0)"/>
<ellipse cx="348.2" cy="159.4" rx="18.3" ry="19.4" fill="url(#rb1)"/>
<ellipse cx="391.5" cy="161.1" rx="17.3" ry="17.3" fill="url(#rb8)"/>
<ellipse cx="428.3" cy="142.5" rx="18.1" ry="19.3" fill="url(#rb4)"/>
<ellipse cx="480.4" cy="160.3" rx="20.7" ry="18.7" fill="url(#rb8)"/>
<ellipse cx="512.0" cy="152.5" rx="19.9" ry="18.4" fill="url(#rb7)"/>
<ellipse cx="553.6" cy="156.6" rx="18.1" ry="17.5" fill="url(#rb1)"/>
<ellipse cx="596.9" cy="161.2" rx="15.8" ry="17.5" fill="url(#rb9)"/>
<ellipse cx="651.8" cy="153.8" rx="18.3" ry="18.1" fill="url(#rb6)"/>
<ellipse cx="690.4" cy="154.9" rx="18.6" ry="20.7" fill="url(#rb3)"/>
<ellipse cx="706.8" cy="165.2" rx="17.3" ry="17.3" fill="url(#rb5)"/>
<ellipse cx="765.8" cy="145.2" rx="16.4" ry="14.6" fill="url(#rb8)"/>
<ellipse cx="798.1" cy="167.1" rx="20.9" ry="24.8" fill="url(#rb2)"/>
<ellipse cx="831.8" cy="160.5" rx="19.1" ry="17.7" fill="url(#rb4)"/>
<ellipse cx="866.5" cy="166.6" rx="15.2" ry="17.1" fill="url(#rb5)"/>
<ellipse cx="-13.7" cy="176.0" rx="18.3" ry="18.1" fill="url(#rb8)"/>
<ellipse cx="9.9" cy="200.1" rx="21.8" ry="19.1" fill="url(#rb1)"/>
<ellipse cx="61.1" cy="186.1" rx="19.1" ry="22.9" fill="url(#rb8)"/>
<ellipse cx="106.2" cy="198.9" rx="19.0" ry="17.7" fill="url(#rb2)"/>
<ellipse cx="133.6" cy="190.7" rx="16.2" ry="14.6" fill="url(#rb8)"/>
<ellipse cx="188.5" cy="182.0" rx="21.3" ry="23.6" fill="url(#rb4)"/>
<ellipse cx="219.1" cy="177.6" rx="20.2" ry="23.5" fill="url(#rb9)"/>
<ellipse cx="248.6" cy="200.2" rx="17.0" ry="17.7" fill="url(#rb3)"/>
<ellipse cx="295.6" cy="182.3" rx="14.6" ry="14.9" fill="url(#rb5)"/>
<ellipse cx="344.3" cy="184.7" rx="21.6" ry="23.5" fill="url(#rb8)"/>
<ellipse cx="374.2" cy="199.6" rx="20.0" ry="21.8" fill="url(#rb0)"/>
<ellipse cx="420.9" cy="174.6" rx="15.7" ry="17.0" fill="url(#rb4)"/>
<ellipse cx="468.9" cy="196.8" rx="14.9" ry="13.2" fill="url(#rb7)"/>
<ellipse cx="498.6" cy="198.3" rx="20.7" ry="23.3" fill="url(#rb7)"/>
<ellipse cx="532.9" cy="184.4" rx="14.5" ry="15.7" fill="url(#rb1)"/>
<ellipse cx="576.0" cy="174.1" rx="14.9" ry="16.4" fill="url(#rb3)"/>
<ellipse cx="623.0" cy="184.2" rx="18.3" ry="21.6" fill="url(#rb4)"/>
<ellipse cx="656.4" cy="198.9" rx="17.5" ry="19.6" fill="url(#rb9)"/>
<ellipse cx="692.0" cy="180.5" rx="20.2" ry="21.8" fill="url(#rb4)"/>
<ellipse cx="732.5" cy="179.6" rx="20.2" ry="21.8" fill="url(#rb4)"/>
<ellipse cx="770.7" cy="193.5" rx="17.8" ry="18.6" fill="url(#rb4)"/>
<ellipse cx="814.2" cy="183.3" rx="18.3" ry="19.3" fill="url(#rb0)"/>
<ellipse cx="847.3" cy="186.8" rx="20.3" ry="20.0" fill="url(#rb11)"/>
<ellipse cx="-8.5" cy="222.0" rx="21.5" ry="24.5" fill="url(#rb1)"/>
<ellipse cx="38.9" cy="215.8" rx="16.8" ry="19.9" fill="url(#rb6)"/>
<ellipse cx="78.9" cy="217.3" rx="20.6" ry="20.7" fill="url(#rb10)"/>
<ellipse cx="128.6" cy="234.4" rx="15.1" ry="14.6" fill="url(#rb9)"/>
<ellipse cx="158.4" cy="234.2" rx="17.7" ry="19.6" fill="url(#rb1)"/>
<ellipse cx="206.7" cy="220.7" rx="21.3" ry="23.3" fill="url(#rb9)"/>
<ellipse cx="244.9" cy="236.3" rx="15.1" ry="16.4" fill="url(#rb10)"/>
<ellipse cx="268.8" cy="223.3" rx="16.8" ry="17.7" fill="url(#rb2)"/>
<ellipse cx="317.4" cy="225.2" rx="15.5" ry="17.0" fill="url(#rb2)"/>
<ellipse cx="346.4" cy="224.1" rx="18.1" ry="18.1" fill="url(#rb3)"/>
<ellipse cx="405.4" cy="233.5" rx="20.3" ry="22.2" fill="url(#rb0)"/>
<ellipse cx="449.8" cy="211.2" rx="20.9" ry="20.2" fill="url(#rb7)"/>
<ellipse cx="469.8" cy="209.7" rx="18.7" ry="18.3" fill="url(#rb4)"/>
<ellipse cx="523.3" cy="228.6" rx="16.4" ry="18.4" fill="url(#rb5)"/>
<ellipse cx="573.5" cy="226.6" rx="21.0" ry="18.4" fill="url(#rb5)"/>
<ellipse cx="586.6" cy="223.2" rx="20.4" ry="23.2" fill="url(#rb9)"/>
<ellipse cx="642.6" cy="234.5" rx="19.3" ry="19.6" fill="url(#rb2)"/>
<ellipse cx="685.4" cy="234.9" rx="15.2" ry="14.4" fill="url(#rb9)"/>
<ellipse cx="722.9" cy="224.6" rx="18.1" ry="14.5" fill="url(#rb7)"/>
<ellipse cx="761.8" cy="231.4" rx="18.7" ry="19.4" fill="url(#rb7)"/>
<ellipse cx="791.0" cy="220.8" rx="20.0" ry="17.3" fill="url(#rb9)"/>
<ellipse cx="850.6" cy="217.2" rx="16.8" ry="19.7" fill="url(#rb3)"/>
<ellipse cx="885.4" cy="228.1" rx="21.6" ry="19.7" fill="url(#rb8)"/>
<ellipse cx="-7.4" cy="269.6" rx="17.8" ry="17.5" fill="url(#rb8)"/>
<ellipse cx="24.9" cy="256.3" rx="20.0" ry="18.1" fill="url(#rb6)"/>
<ellipse cx="62.9" cy="266.7" rx="21.2" ry="17.7" fill="url(#rb1)"/>
<ellipse cx="99.9" cy="253.7" rx="15.1" ry="13.3" fill="url(#rb8)"/>
<ellipse cx="130.5" cy="264.3" rx="19.6" ry="15.7" fill="url(#rb6)"/>
<ellipse cx="172.8" cy="243.1" rx="16.4" ry="19.3" fill="url(#rb10)"/>
<ellipse cx="226.6" cy="247.7" rx="16.4" ry="13.8" fill="url(#rb10)"/>
<ellipse cx="248.7" cy="258.9" rx="18.6" ry="22.2" fill="url(#rb10)"/>
<ellipse cx="287.8" cy="269.7" rx="17.7" ry="19.4" fill="url(#rb9)"/>
<ellipse cx="327.1" cy="247.3" rx="16.4" ry="17.1" fill="url(#rb7)"/>
<ellipse cx="386.2" cy="251.7" rx="19.1" ry="18.1" fill="url(#rb7)"/>
<ellipse cx="424.9" cy="256.7" rx="18.3" ry="15.5" fill="url(#rb1)"/>
<ellipse cx="464.3" cy="266.3" rx="20.0" ry="18.8" fill="url(#rb8)"/>
<ellipse cx="505.5" cy="250.1" rx="19.4" ry="18.7" fill="url(#rb7)"/>
<ellipse cx="553.6" cy="264.7" rx="21.5" ry="22.2" fill="url(#rb4)"/>
<ellipse cx="590.1" cy="248.9" rx="14.6" ry="17.0" fill="url(#rb2)"/>
<ellipse cx="630.9" cy="258.9" rx="16.7" ry="18.1" fill="url(#rb5)"/>
<ellipse cx="654.6" cy="262.6" rx="16.1" ry="14.9" fill="url(#rb0)"/>
<ellipse cx="697.0" cy="259.6" rx="18.4" ry="18.7" fill="url(#rb2)"/>
<ellipse cx="752.5" cy="243.7" rx="19.6" ry="17.1" fill="url(#rb1)"/>
<ellipse cx="789.0" cy="252.9" rx="16.2" ry="19.0" fill="url(#rb4)"/>
<ellipse cx="815.7" cy="265.8" rx="20.4" ry="23.9" fill="url(#rb2)"/>
<ellipse cx="863.2" cy="270.1" rx="14.8" ry="14.1" fill="url(#rb5)"/>
<ellipse cx="11.0" cy="278.9" rx="16.8" ry="14.5" fill="url(#rb7)"/>
<ellipse cx="48.3" cy="284.5" rx="20.3" ry="23.3" fill="url(#rb2)"/>
<ellipse cx="85.3" cy="304.3" rx="19.9" ry="16.2" fill="url(#rb1)"/>
<ellipse cx="108.7" cy="283.5" rx="18.3" ry="21.5" fill="url(#rb10)"/>
<ellipse cx="172.9" cy="299.2" rx="20.0" ry="16.5" fill="url(#rb4)"/>
<ellipse cx="211.9" cy="284.1" rx="20.6" ry="23.1" fill="url(#rb8)"/>
<ellipse cx="249.8" cy="296.2" rx="19.0" ry="20.0" fill="url(#rb7)"/>
<ellipse cx="275.7" cy="292.2" rx="16.8" ry="13.6" fill="url(#rb6)"/>
<ellipse cx="323.2" cy="305.5" rx="20.0" ry="22.0" fill="url(#rb4)"/>
<ellipse cx="347.5" cy="304.9" rx="16.8" ry="19.4" fill="url(#rb3)"/>
<ellipse cx="409.2" cy="286.9" rx="16.5" ry="14.1" fill="url(#rb10)"/>
<ellipse cx="446.8" cy="299.2" rx="16.8" ry="17.4" fill="url(#rb1)"/>
<ellipse cx="475.3" cy="300.8" rx="16.8" ry="17.0" fill="url(#rb5)"/>
<ellipse cx="530.0" cy="283.4" rx="17.5" ry="18.1" fill="url(#rb10)"/>
<ellipse cx="571.4" cy="278.3" rx="15.8" ry="16.1" fill="url(#rb0)"/>
<ellipse cx="589.2" cy="303.1" rx="18.0" ry="20.4" fill="url(#rb9)"/>
<ellipse cx="637.3" cy="292.2" rx="21.6" ry="18.6" fill="url(#rb2)"/>
<ellipse cx="667.5" cy="280.4" rx="18.4" ry="14.8" fill="url(#rb7)"/>
<ellipse cx="728.2" cy="291.5" rx="15.8" ry="14.2" fill="url(#rb4)"/>
<ellipse cx="763.6" cy="286.3" rx="21.6" ry="21.0" fill="url(#rb2)"/>
<ellipse cx="788.2" cy="303.7" rx="18.1" ry="16.1" fill="url(#rb9)"/>
<ellipse cx="827.0" cy="303.1" rx="21.6" ry="25.4" fill="url(#rb4)"/>
<ellipse cx="892.1" cy="302.6" rx="15.7" ry="16.8" fill="url(#rb1)"/>
<ellipse cx="-28.4" cy="340.3" rx="15.7" ry="18.1" fill="url(#rb10)"/>
<ellipse cx="29.3" cy="315.6" rx="17.5" ry="18.3" fill="url(#rb8)"/>
<ellipse cx="58.6" cy="331.4" rx="15.2" ry="16.4" fill="url(#rb3)"/>
<ellipse cx="100.8" cy="335.2" rx="21.2" ry="23.3" fill="url(#rb10)"/>
<ellipse cx="134.6" cy="315.9" rx="21.6" ry="22.8" fill="url(#rb9)"/>
<ellipse cx="191.7" cy="334.3" rx="19.9" ry="18.7" fill="url(#rb2)"/>
<ellipse cx="209.7" cy="335.2" rx="21.6" ry="24.2" fill="url(#rb5)"/>
<ellipse cx="256.1" cy="317.5" rx="17.4" ry="14.9" fill="url(#rb8)"/>
<ellipse cx="302.6" cy="324.5" rx="18.0" ry="19.3" fill="url(#rb6)"/>
<ellipse cx="338.2" cy="316.9" rx="21.3" ry="18.6" fill="url(#rb5)"/>
<ellipse cx="391.1" cy="313.4" rx="18.3" ry="18.6" fill="url(#rb5)"/>
<ellipse cx="407.4" cy="339.2" rx="21.5" ry="18.7" fill="url(#rb6)"/>
<ellipse cx="456.5" cy="315.3" rx="17.1" ry="18.8" fill="url(#rb3)"/>
<ellipse cx="512.1" cy="332.6" rx="21.2" ry="24.2" fill="url(#rb8)"/>
<ellipse cx="553.3" cy="328.4" rx="15.2" ry="14.2" fill="url(#rb4)"/>
<ellipse cx="590.6" cy="331.4" rx="17.8" ry="16.5" fill="url(#rb9)"/>
<ellipse cx="617.3" cy="334.6" rx="17.7" ry="18.8" fill="url(#rb10)"/>
<ellipse cx="663.8" cy="337.1" rx="18.1" ry="15.8" fill="url(#rb2)"/>
<ellipse cx="689.5" cy="321.4" rx="14.9" ry="12.9" fill="url(#rb4)"/>
<ellipse cx="749.2" cy="325.4" rx="21.2" ry="20.0" fill="url(#rb11)"/>
<ellipse cx="792.4" cy="336.7" rx="19.0" ry="17.0" fill="url(#rb6)"/>
<ellipse cx="822.6" cy="325.5" rx="20.9" ry="20.2" fill="url(#rb0)"/>
<ellipse cx="846.9" cy="325.5" rx="21.6" ry="22.2" fill="url(#rb5)"/>
<ellipse cx="3.3" cy="371.0" rx="17.0" ry="19.0" fill="url(#rb1)"/>
<ellipse cx="36.8" cy="357.7" rx="18.0" ry="18.3" fill="url(#rb3)"/>
<ellipse cx="70.3" cy="372.4" rx="19.0" ry="15.8" fill="url(#rb7)"/>
<ellipse cx="108.5" cy="359.2" rx="15.1" ry="18.0" fill="url(#rb5)"/>
<ellipse cx="163.8" cy="366.3" rx="14.6" ry="17.4" fill="url(#rb2)"/>
<ellipse cx="186.8" cy="360.0" rx="18.1" ry="21.2" fill="url(#rb7)"/>
<ellipse cx="249.5" cy="356.9" rx="18.3" ry="18.4" fill="url(#rb3)"/>
<ellipse cx="280.8" cy="349.0" rx="18.7" ry="15.2" fill="url(#rb2)"/>
<ellipse cx="331.6" cy="368.9" rx="16.7" ry="17.7" fill="url(#rb3)"/>
<ellipse cx="350.8" cy="357.5" rx="14.8" ry="14.4" fill="url(#rb2)"/>
<ellipse cx="401.0" cy="363.5" rx="20.2" ry="23.9" fill="url(#rb7)"/>
<ellipse cx="448.0" cy="368.8" rx="20.4" ry="21.9" fill="url(#rb7)"/>
<ellipse cx="491.1" cy="366.5" rx="20.9" ry="23.1" fill="url(#rb1)"/>
<ellipse cx="528.8" cy="369.2" rx="17.4" ry="18.1" fill="url(#rb4)"/>
<ellipse cx="573.8" cy="358.3" rx="19.4" ry="19.3" fill="url(#rb7)"/>
<ellipse cx="589.6" cy="350.8" rx="16.7" ry="15.2" fill="url(#rb7)"/>
<ellipse cx="636.6" cy="368.9" rx="17.3" ry="18.8" fill="url(#rb5)"/>
<ellipse cx="675.6" cy="351.2" rx="17.4" ry="16.5" fill="url(#rb0)"/>
<ellipse cx="723.5" cy="349.5" rx="16.5" ry="15.2" fill="url(#rb9)"/>
<ellipse cx="756.1" cy="347.4" rx="18.1" ry="16.1" fill="url(#rb2)"/>
<ellipse cx="811.6" cy="349.4" rx="15.9" ry="13.5" fill="url(#rb3)"/>
<ellipse cx="826.9" cy="361.2" rx="20.0" ry="19.6" fill="url(#rb7)"/>
<ellipse cx="889.2" cy="364.3" rx="15.5" ry="17.4" fill="url(#rb11)"/>
<ellipse cx="-6.2" cy="387.8" rx="20.7" ry="18.6" fill="url(#rb3)"/>
<ellipse cx="17.4" cy="400.5" rx="17.1" ry="15.7" fill="url(#rb4)"/>
<ellipse cx="46.9" cy="397.9" rx="19.1" ry="18.7" fill="url(#rb11)"/>
<ellipse cx="107.6" cy="391.3" rx="18.7" ry="18.8" fill="url(#rb2)"/>
<ellipse cx="136.5" cy="400.4" rx="17.1" ry="14.8" fill="url(#rb4)"/>
<ellipse cx="171.9" cy="390.5" rx="14.9" ry="15.2" fill="url(#rb5)"/>
<ellipse cx="213.9" cy="400.6" rx="21.0" ry="20.0" fill="url(#rb4)"/>
<ellipse cx="266.7" cy="403.2" rx="16.5" ry="15.8" fill="url(#rb1)"/>
<ellipse cx="307.9" cy="396.4" rx="20.9" ry="20.4" fill="url(#rb4)"/>
<ellipse cx="351.2" cy="381.8" rx="17.7" ry="18.0" fill="url(#rb4)"/>
<ellipse cx="386.5" cy="403.4" rx="19.9" ry="18.4" fill="url(#rb6)"/>
<ellipse cx="410.9" cy="383.4" rx="14.9" ry="16.5" fill="url(#rb6)"/>
<ellipse cx="460.7" cy="400.7" rx="19.4" ry="20.6" fill="url(#rb5)"/>
<ellipse cx="507.6" cy="386.2" rx="19.1" ry="17.8" fill="url(#rb1)"/>
<ellipse cx="545.4" cy="406.4" rx="15.5" ry="12.9" fill="url(#rb6)"/>
<ellipse cx="578.9" cy="383.8" rx="16.2" ry="16.4" fill="url(#rb2)"/>
<ellipse cx="622.1" cy="384.0" rx="19.3" ry="20.3" fill="url(#rb8)"/>
<ellipse cx="671.4" cy="408.1" rx="20.2" ry="20.7" fill="url(#rb8)"/>
<ellipse cx="701.3" cy="401.5" rx="19.0" ry="19.7" fill="url(#rb1)"/>
<ellipse cx="747.4" cy="387.3" rx="20.2" ry="23.6" fill="url(#rb5)"/>
<ellipse cx="786.1" cy="382.2" rx="20.9" ry="19.1" fill="url(#rb1)"/>
<ellipse cx="817.6" cy="386.6" rx="16.8" ry="14.9" fill="url(#rb10)"/>
<ellipse cx="870.5" cy="395.1" rx="19.0" ry="17.1" fill="url(#rb6)"/>
<ellipse cx="9.3" cy="421.3" rx="17.7" ry="14.8" fill="url(#rb1)"/>
<ellipse cx="33.4" cy="419.4" rx="21.2" ry="23.2" fill="url(#rb1)"/>
<ellipse cx="84.5" cy="443.2" rx="17.3" ry="16.1" fill="url(#rb8)"/>
<ellipse cx="132.8" cy="433.1" rx="17.4" ry="14.8" fill="url(#rb3)"/>
<ellipse cx="151.8" cy="442.9" rx="20.3" ry="16.2" fill="url(#rb0)"/>
<ellipse cx="188.1" cy="425.8" rx="18.8" ry="21.8" fill="url(#rb4)"/>
<ellipse cx="230.5" cy="442.2" rx="18.7" ry="15.2" fill="url(#rb2)"/>
<ellipse cx="293.1" cy="441.2" rx="19.6" ry="16.1" fill="url(#rb9)"/>
<ellipse cx="314.0" cy="440.1" rx="14.8" ry="13.8" fill="url(#rb5)"/>
<ellipse cx="367.2" cy="429.0" rx="17.8" ry="20.4" fill="url(#rb3)"/>
<ellipse cx="395.4" cy="433.8" rx="17.8" ry="17.4" fill="url(#rb3)"/>
<ellipse cx="437.5" cy="419.4" rx="18.3" ry="19.7" fill="url(#rb2)"/>
<ellipse cx="471.0" cy="435.1" rx="20.9" ry="18.1" fill="url(#rb10)"/>
<ellipse cx="531.0" cy="437.8" rx="20.3" ry="18.7" fill="url(#rb7)"/>
<ellipse cx="553.7" cy="416.5" rx="20.9" ry="19.9" fill="url(#rb10)"/>
<ellipse cx="598.6" cy="418.6" rx="20.3" ry="22.3" fill="url(#rb11)"/>
<ellipse cx="645.5" cy="442.2" rx="18.6" ry="15.9" fill="url(#rb11)"/>
<ellipse cx="669.7" cy="432.0" rx="14.9" ry="14.1" fill="url(#rb1)"/>
<ellipse cx="707.0" cy="442.9" rx="18.8" ry="16.5" fill="url(#rb3)"/>
<ellipse cx="765.6" cy="422.1" rx="14.6" ry="16.5" fill="url(#rb7)"/>
<ellipse cx="796.0" cy="437.0" rx="15.5" ry="16.7" fill="url(#rb4)"/>
<ellipse cx="841.0" cy="435.1" rx="21.0" ry="20.9" fill="url(#rb1)"/>
<ellipse cx="869.2" cy="433.9" rx="18.7" ry="22.0" fill="url(#rb3)"/>
<ellipse cx="-9.8" cy="465.5" rx="21.8" ry="19.7" fill="url(#rb2)"/>
<ellipse cx="25.9" cy="458.3" rx="18.7" ry="19.3" fill="url(#rb10)"/>
<ellipse cx="66.8" cy="470.0" rx="14.5" ry="16.5" fill="url(#rb2)"/>
<ellipse cx="86.1" cy="475.5" rx="18.7" ry="17.8" fill="url(#rb2)"/>
<ellipse cx="149.3" cy="469.0" rx="21.0" ry="24.5" fill="url(#rb4)"/>
<ellipse cx="188.9" cy="457.7" rx="21.6" ry="24.2" fill="url(#rb5)"/>
<ellipse cx="211.3" cy="451.2" rx="18.0" ry="20.2" fill="url(#rb6)"/>
<ellipse cx="272.7" cy="458.4" rx="21.8" ry="20.4" fill="url(#rb3)"/>
<ellipse cx="300.0" cy="454.6" rx="16.2" ry="14.8" fill="url(#rb0)"/>
<ellipse cx="329.8" cy="464.9" rx="18.4" ry="15.9" fill="url(#rb9)"/>
<ellipse cx="376.2" cy="458.5" rx="21.0" ry="19.1" fill="url(#rb4)"/>
<ellipse cx="423.2" cy="452.0" rx="18.4" ry="21.8" fill="url(#rb11)"/>
<ellipse cx="447.3" cy="452.3" rx="20.7" ry="20.0" fill="url(#rb7)"/>
<ellipse cx="496.8" cy="452.1" rx="20.2" ry="21.9" fill="url(#rb2)"/>
<ellipse cx="544.1" cy="458.8" rx="19.6" ry="21.6" fill="url(#rb6)"/>
<ellipse cx="572.4" cy="466.6" rx="15.7" ry="17.5" fill="url(#rb9)"/>
<ellipse cx="624.2" cy="452.2" rx="18.0" ry="18.8" fill="url(#rb3)"/>
<ellipse cx="647.2" cy="470.2" rx="14.8" ry="13.5" fill="url(#rb5)"/>
<ellipse cx="689.2" cy="455.7" rx="14.6" ry="15.1" fill="url(#rb11)"/>
<ellipse cx="738.7" cy="462.9" rx="19.9" ry="21.0" fill="url(#rb8)"/>
<ellipse cx="768.9" cy="460.6" rx="16.4" ry="15.5" fill="url(#rb9)"/>
<ellipse cx="828.7" cy="478.0" rx="20.7" ry="20.2" fill="url(#rb6)"/>
<ellipse cx="857.9" cy="451.2" rx="20.9" ry="22.6" fill="url(#rb2)"/>
<ellipse cx="4.4" cy="491.4" rx="16.5" ry="18.4" fill="url(#rb10)"/>
<ellipse cx="43.6" cy="487.4" rx="16.8" ry="18.6" fill="url(#rb3)"/>
<ellipse cx="78.8" cy="497.4" rx="16.8" ry="16.8" fill="url(#rb1)"/>
<ellipse cx="114.7" cy="494.8" rx="19.0" ry="18.0" fill="url(#rb6)"/>
<ellipse cx="147.2" cy="502.2" rx="14.6" ry="13.9" fill="url(#rb6)"/>
<ellipse cx="205.4" cy="512.8" rx="17.5" ry="14.2" fill="url(#rb4)"/>
<ellipse cx="232.6" cy="510.9" rx="14.6" ry="13.6" fill="url(#rb10)"/>
<ellipse cx="282.4" cy="489.3" rx="16.1" ry="16.5" fill="url(#rb5)"/>
<ellipse cx="322.0" cy="507.3" rx="16.5" ry="16.1" fill="url(#rb0)"/>
<ellipse cx="362.6" cy="511.2" rx="21.6" ry="23.1" fill="url(#rb5)"/>
<ellipse cx="387.4" cy="494.2" rx="19.3" ry="18.7" fill="url(#rb6)"/>
<ellipse cx="429.2" cy="493.5" rx="16.4" ry="13.3" fill="url(#rb9)"/>
<ellipse cx="469.6" cy="498.4" rx="17.7" ry="20.7" fill="url(#rb9)"/>
<ellipse cx="510.4" cy="511.5" rx="20.3" ry="22.6" fill="url(#rb8)"/>
<ellipse cx="572.4" cy="510.1" rx="19.7" ry="19.9" fill="url(#rb7)"/>
<ellipse cx="610.6" cy="493.0" rx="20.6" ry="22.0" fill="url(#rb5)"/>
<ellipse cx="641.8" cy="506.5" rx="15.5" ry="14.6" fill="url(#rb2)"/>
<ellipse cx="678.1" cy="503.7" rx="17.7" ry="18.7" fill="url(#rb5)"/>
<ellipse cx="730.2" cy="507.8" rx="16.5" ry="16.4" fill="url(#rb11)"/>
<ellipse cx="758.0" cy="491.3" rx="14.8" ry="13.5" fill="url(#rb11)"/>
<ellipse cx="801.3" cy="493.6" rx="14.6" ry="14.5" fill="url(#rb1)"/>
<ellipse cx="831.2" cy="503.1" rx="20.2" ry="23.5" fill="url(#rb9)"/>
<ellipse cx="890.7" cy="500.2" rx="17.8" ry="17.1" fill="url(#rb10)"/>
<ellipse cx="-11.3" cy="542.8" rx="15.2" ry="13.2" fill="url(#rb9)"/>
<ellipse cx="23.3" cy="545.5" rx="15.7" ry="13.6" fill="url(#rb2)"/>
<ellipse cx="49.5" cy="523.3" rx="21.6" ry="19.4" fill="url(#rb9)"/>
<ellipse cx="102.3" cy="524.1" rx="21.6" ry="24.4" fill="url(#rb2)"/>
<ellipse cx="142.5" cy="533.9" rx="17.5" ry="16.5" fill="url(#rb4)"/>
<ellipse cx="177.4" cy="540.6" rx="15.8" ry="18.7" fill="url(#rb9)"/>
<ellipse cx="209.7" cy="535.5" rx="17.8" ry="17.4" fill="url(#rb4)"/>
<ellipse cx="248.1" cy="540.0" rx="14.9" ry="16.8" fill="url(#rb7)"/>
<ellipse cx="297.1" cy="537.2" rx="18.3" ry="21.0" fill="url(#rb1)"/>
<ellipse cx="327.6" cy="535.5" rx="20.0" ry="18.6" fill="url(#rb10)"/>
<ellipse cx="368.1" cy="530.1" rx="20.7" ry="22.9" fill="url(#rb1)"/>
<ellipse cx="425.1" cy="522.2" rx="15.2" ry="13.2" fill="url(#rb11)"/>
<ellipse cx="451.9" cy="526.1" rx="17.7" ry="17.1" fill="url(#rb4)"/>
<ellipse cx="492.5" cy="538.4" rx="19.6" ry="21.9" fill="url(#rb9)"/>
<ellipse cx="552.2" cy="523.2" rx="18.1" ry="16.5" fill="url(#rb3)"/>
<ellipse cx="575.9" cy="538.2" rx="17.7" ry="14.5" fill="url(#rb6)"/>
<ellipse cx="631.3" cy="546.0" rx="20.6" ry="23.1" fill="url(#rb3)"/>
<ellipse cx="671.9" cy="524.4" rx="15.9" ry="18.4" fill="url(#rb8)"/>
<ellipse cx="710.9" cy="527.9" rx="19.4" ry="20.2" fill="url(#rb7)"/>
<ellipse cx="749.5" cy="546.2" rx="15.1" ry="17.8" fill="url(#rb3)"/>
<ellipse cx="766.1" cy="543.8" rx="16.4" ry="18.3" fill="url(#rb1)"/>
<ellipse cx="832.8" cy="533.1" rx="21.5" ry="23.1" fill="url(#rb10)"/>
<ellipse cx="866.1" cy="547.2" rx="14.8" ry="11.9" fill="url(#rb0)"/>
<ellipse cx="11.6" cy="581.1" rx="16.5" ry="13.9" fill="url(#rb4)"/>
<ellipse cx="37.0" cy="582.0" rx="18.0" ry="16.1" fill="url(#rb8)"/>
<ellipse cx="90.1" cy="563.3" rx="19.7" ry="22.2" fill="url(#rb3)"/>
<ellipse cx="123.8" cy="563.5" rx="20.2" ry="22.5" fill="url(#rb1)"/>
<ellipse cx="147.3" cy="556.8" rx="16.4" ry="18.0" fill="url(#rb1)"/>
<ellipse cx="188.3" cy="577.2" rx="17.4" ry="20.3" fill="url(#rb9)"/>
<ellipse cx="242.2" cy="562.2" rx="18.0" ry="19.6" fill="url(#rb0)"/>
<ellipse cx="288.0" cy="573.2" rx="19.0" ry="20.9" fill="url(#rb7)"/>
<ellipse cx="318.5" cy="560.2" rx="19.0" ry="22.8" fill="url(#rb8)"/>
<ellipse cx="352.9" cy="568.0" rx="21.0" ry="19.0" fill="url(#rb11)"/>
<ellipse cx="399.5" cy="574.4" rx="17.1" ry="14.5" fill="url(#rb4)"/>
<ellipse cx="434.4" cy="580.1" rx="20.2" ry="23.9" fill="url(#rb4)"/>
<ellipse cx="481.1" cy="576.6" rx="17.7" ry="18.6" fill="url(#rb4)"/>
<ellipse cx="525.3" cy="563.0" rx="21.3" ry="25.1" fill="url(#rb5)"/>
<ellipse cx="557.0" cy="558.9" rx="16.7" ry="18.6" fill="url(#rb4)"/>
<ellipse cx="593.0" cy="557.8" rx="15.7" ry="17.1" fill="url(#rb10)"/>
<ellipse cx="639.7" cy="562.4" rx="16.5" ry="14.9" fill="url(#rb2)"/>
<ellipse cx="677.0" cy="572.5" rx="19.9" ry="21.9" fill="url(#rb5)"/>
<ellipse cx="710.7" cy="570.8" rx="19.6" ry="22.6" fill="url(#rb2)"/>
<ellipse cx="752.3" cy="559.6" rx="15.1" ry="17.7" fill="url(#rb3)"/>
<ellipse cx="790.1" cy="582.7" rx="17.0" ry="13.6" fill="url(#rb2)"/>
<ellipse cx="836.1" cy="580.9" rx="20.9" ry="23.2" fill="url(#rb4)"/>
<ellipse cx="886.1" cy="565.7" rx="18.1" ry="19.1" fill="url(#rb7)"/>
<ellipse cx="-20.7" cy="610.2" rx="19.6" ry="22.5" fill="url(#rb1)"/>
<ellipse cx="32.4" cy="612.1" rx="18.8" ry="19.7" fill="url(#rb9)"/>
<ellipse cx="54.9" cy="609.1" rx="21.6" ry="22.0" fill="url(#rb6)"/>
<ellipse cx="87.5" cy="595.0" rx="16.5" ry="16.1" fill="url(#rb2)"/>
<ellipse cx="141.4" cy="591.9" rx="16.7" ry="14.6" fill="url(#rb9)"/>
<ellipse cx="188.9" cy="611.8" rx="15.2" ry="17.4" fill="url(#rb7)"/>
<ellipse cx="218.0" cy="611.6" rx="15.9" ry="17.5" fill="url(#rb4)"/>
<ellipse cx="251.5" cy="592.6" rx="18.7" ry="15.8" fill="url(#rb10)"/>
<ellipse cx="309.8" cy="612.1" rx="16.8" ry="17.8" fill="url(#rb6)"/>
<ellipse cx="327.5" cy="613.0" rx="21.6" ry="18.6" fill="url(#rb9)"/>
<ellipse cx="376.6" cy="595.0" rx="18.7" ry="16.8" fill="url(#rb6)"/>
<ellipse cx="426.0" cy="600.0" rx="19.3" ry="18.0" fill="url(#rb11)"/>
<ellipse cx="467.6" cy="593.4" rx="19.9" ry="19.9" fill="url(#rb2)"/>
<ellipse cx="494.4" cy="594.1" rx="20.3" ry="21.2" fill="url(#rb5)"/>
<ellipse cx="538.0" cy="592.6" rx="17.4" ry="20.7" fill="url(#rb10)"/>
<ellipse cx="567.4" cy="591.0" rx="15.4" ry="14.9" fill="url(#rb8)"/>
<ellipse cx="608.4" cy="610.6" rx="19.4" ry="16.8" fill="url(#rb9)"/>
<ellipse cx="668.6" cy="610.9" rx="17.7" ry="19.0" fill="url(#rb2)"/>
<ellipse cx="708.1" cy="616.5" rx="14.9" ry="14.1" fill="url(#rb5)"/>
<ellipse cx="752.0" cy="591.7" rx="17.5" ry="19.6" fill="url(#rb6)"/>
<ellipse cx="767.8" cy="609.4" rx="15.1" ry="12.6" fill="url(#rb10)"/>
<ellipse cx="817.6" cy="598.0" rx="18.8" ry="17.7" fill="url(#rb9)"/>
<ellipse cx="863.4" cy="603.7" rx="19.0" ry="16.2" fill="url(#rb10)"/>
<ellipse cx="10.0" cy="625.1" rx="14.9" ry="15.4" fill="url(#rb9)"/>
<ellipse cx="38.8" cy="636.0" rx="15.4" ry="17.7" fill="url(#rb6)"/>
<ellipse cx="93.1" cy="651.5" rx="18.3" ry="15.8" fill="url(#rb3)"/>
<ellipse cx="109.6" cy="647.7" rx="18.1" ry="18.8" fill="url(#rb3)"/>
<ellipse cx="156.8" cy="638.1" rx="18.7" ry="21.6" fill="url(#rb2)"/>
<ellipse cx="199.4" cy="644.8" rx="15.4" ry="17.4" fill="url(#rb7)"/>
<ellipse cx="236.9" cy="630.0" rx="16.8" ry="14.4" fill="url(#rb8)"/>
<ellipse cx="271.6" cy="629.0" rx="16.7" ry="15.7" fill="url(#rb3)"/>
<ellipse cx="310.6" cy="637.0" rx="21.0" ry="24.9" fill="url(#rb9)"/>
<ellipse cx="346.5" cy="637.5" rx="15.7" ry="14.9" fill="url(#rb9)"/>
<ellipse cx="413.0" cy="646.6" rx="17.1" ry="16.2" fill="url(#rb5)"/>
<ellipse cx="434.5" cy="642.4" rx="17.8" ry="18.8" fill="url(#rb5)"/>
<ellipse cx="469.3" cy="648.5" rx="19.0" ry="19.4" fill="url(#rb3)"/>
<ellipse cx="514.0" cy="631.0" rx="21.8" ry="19.1" fill="url(#rb5)"/>
<ellipse cx="559.3" cy="633.5" rx="15.8" ry="13.6" fill="url(#rb5)"/>
<ellipse cx="604.3" cy="627.5" rx="15.5" ry="12.8" fill="url(#rb1)"/>
<ellipse cx="651.8" cy="642.8" rx="18.4" ry="21.6" fill="url(#rb5)"/>
<ellipse cx="678.0" cy="642.1" rx="16.7" ry="17.0" fill="url(#rb10)"/>
<ellipse cx="733.8" cy="629.1" rx="20.0" ry="17.1" fill="url(#rb11)"/>
<ellipse cx="773.3" cy="648.6" rx="20.4" ry="19.1" fill="url(#rb10)"/>
<ellipse cx="792.5" cy="624.9" rx="18.0" ry="14.5" fill="url(#rb8)"/>
<ellipse cx="831.2" cy="632.2" rx="21.2" ry="22.6" fill="url(#rb3)"/>
<ellipse cx="893.8" cy="624.7" rx="18.4" ry="21.9" fill="url(#rb6)"/>
<ellipse cx="-21.3" cy="665.6" rx="20.6" ry="18.6" fill="url(#rb11)"/>
<ellipse cx="24.0" cy="667.4" rx="18.4" ry="18.8" fill="url(#rb3)"/>
<ellipse cx="66.7" cy="665.1" rx="18.6" ry="18.4" fill="url(#rb1)"/>
<ellipse cx="110.3" cy="670.2" rx="15.5" ry="17.5" fill="url(#rb5)"/>
<ellipse cx="152.6" cy="658.8" rx="20.4" ry="22.3" fill="url(#rb7)"/>
<ellipse cx="176.5" cy="684.4" rx="17.5" ry="14.9" fill="url(#rb8)"/>
<ellipse cx="220.9" cy="667.1" rx="18.8" ry="20.3" fill="url(#rb1)"/>
<ellipse cx="268.1" cy="673.0" rx="15.8" ry="16.8" fill="url(#rb9)"/>
<ellipse cx="298.9" cy="677.8" rx="16.4" ry="16.2" fill="url(#rb2)"/>
<ellipse cx="344.3" cy="683.4" rx="15.7" ry="17.3" fill="url(#rb3)"/>
<ellipse cx="368.2" cy="672.8" rx="14.6" ry="16.5" fill="url(#rb5)"/>
<ellipse cx="432.9" cy="681.6" rx="14.6" ry="14.8" fill="url(#rb10)"/>
<ellipse cx="460.4" cy="679.3" rx="15.9" ry="14.4" fill="url(#rb2)"/>
<ellipse cx="492.4" cy="672.0" rx="18.0" ry="15.8" fill="url(#rb10)"/>
<ellipse cx="535.5" cy="659.4" rx="19.1" ry="15.5" fill="url(#rb8)"/>
<ellipse cx="593.3" cy="673.9" rx="21.3" ry="21.9" fill="url(#rb6)"/>
<ellipse cx="632.8" cy="660.8" rx="18.3" ry="20.9" fill="url(#rb10)"/>
<ellipse cx="651.6" cy="667.8" rx="19.0" ry="21.6" fill="url(#rb2)"/>
<ellipse cx="702.0" cy="684.9" rx="18.0" ry="18.3" fill="url(#rb2)"/>
<ellipse cx="743.3" cy="671.9" rx="19.4" ry="19.7" fill="url(#rb7)"/>
<ellipse cx="779.3" cy="659.5" rx="15.2" ry="17.4" fill="url(#rb2)"/>
<ellipse cx="819.6" cy="662.2" rx="18.1" ry="17.1" fill="url(#rb7)"/>
<ellipse cx="848.2" cy="672.9" rx="21.0" ry="21.2" fill="url(#rb1)"/>
<ellipse cx="-4.0" cy="704.3" rx="18.6" ry="16.2" fill="url(#rb10)"/>
<ellipse cx="36.9" cy="714.6" rx="17.1" ry="14.4" fill="url(#rb7)"/>
<ellipse cx="76.5" cy="707.5" rx="18.8" ry="22.2" fill="url(#rb3)"/>
<ellipse cx="132.4" cy="699.9" rx="17.4" ry="14.8" fill="url(#rb7)"/>
<ellipse cx="170.4" cy="708.9" rx="14.5" ry="15.5" fill="url(#rb2)"/>
<ellipse cx="205.8" cy="708.6" rx="19.9" ry="19.4" fill="url(#rb11)"/>
<ellipse cx="232.5" cy="694.2" rx="15.1" ry="17.5" fill="url(#rb4)"/>
<ellipse cx="293.4" cy="696.1" rx="20.4" ry="17.0" fill="url(#rb2)"/>
<ellipse cx="314.8" cy="705.2" rx="19.9" ry="17.3" fill="url(#rb11)"/>
<ellipse cx="370.0" cy="696.3" rx="20.9" ry="21.6" fill="url(#rb7)"/>
<ellipse cx="391.4" cy="716.7" rx="16.4" ry="18.4" fill="url(#rb8)"/>
<ellipse cx="445.0" cy="704.7" rx="18.0" ry="17.3" fill="url(#rb4)"/>
<ellipse cx="482.7" cy="716.7" rx="14.9" ry="15.7" fill="url(#rb9)"/>
<ellipse cx="524.9" cy="712.0" rx="21.8" ry="19.3" fill="url(#rb3)"/>
<ellipse cx="569.0" cy="698.0" rx="20.2" ry="20.7" fill="url(#rb4)"/>
<ellipse cx="591.4" cy="699.5" rx="14.5" ry="14.6" fill="url(#rb8)"/>
<ellipse cx="634.0" cy="696.0" rx="18.6" ry="18.0" fill="url(#rb11)"/>
<ellipse cx="691.3" cy="713.4" rx="17.4" ry="17.1" fill="url(#rb5)"/>
<ellipse cx="727.6" cy="711.2" rx="16.4" ry="15.2" fill="url(#rb1)"/>
<ellipse cx="747.0" cy="697.6" rx="16.7" ry="13.6" fill="url(#rb9)"/>
<ellipse cx="790.4" cy="704.4" rx="16.2" ry="15.4" fill="url(#rb7)"/>
<ellipse cx="829.5" cy="720.7" rx="15.1" ry="13.2" fill="url(#rb9)"/>
<ellipse cx="875.8" cy="701.3" rx="21.6" ry="21.0" fill="url(#rb8)"/>
<ellipse cx="-6.5" cy="738.9" rx="20.7" ry="20.2" fill="url(#rb1)"/>
<ellipse cx="18.0" cy="728.4" rx="14.9" ry="17.4" fill="url(#rb11)"/>
<ellipse cx="61.8" cy="753.0" rx="17.7" ry="18.4" fill="url(#rb10)"/>
<ellipse cx="88.9" cy="744.5" rx="21.6" ry="21.5" fill="url(#rb10)"/>
<ellipse cx="152.2" cy="752.4" rx="18.8" ry="17.1" fill="url(#rb10)"/>
<ellipse cx="187.3" cy="738.6" rx="15.9" ry="14.9" fill="url(#rb3)"/>
<ellipse cx="220.1" cy="753.3" rx="20.9" ry="24.4" fill="url(#rb10)"/>
<ellipse cx="248.5" cy="741.8" rx="17.1" ry="15.7" fill="url(#rb7)"/>
<ellipse cx="297.8" cy="751.0" rx="21.5" ry="22.5" fill="url(#rb11)"/>
<ellipse cx="339.3" cy="735.0" rx="18.7" ry="21.5" fill="url(#rb10)"/>
<ellipse cx="377.4" cy="753.9" rx="16.2" ry="13.0" fill="url(#rb4)"/>
<ellipse cx="425.1" cy="750.0" rx="19.4" ry="20.0" fill="url(#rb7)"/>
<ellipse cx="468.2" cy="746.5" rx="18.7" ry="16.8" fill="url(#rb6)"/>
<ellipse cx="508.4" cy="745.2" rx="20.2" ry="20.0" fill="url(#rb6)"/>
<ellipse cx="533.5" cy="750.9" rx="20.4" ry="20.7" fill="url(#rb1)"/>
<ellipse cx="581.3" cy="747.8" rx="18.3" ry="18.8" fill="url(#rb11)"/>
<ellipse cx="629.3" cy="730.1" rx="16.4" ry="17.8" fill="url(#rb4)"/>
<ellipse cx="669.4" cy="752.7" rx="21.6" ry="19.1" fill="url(#rb8)"/>
<ellipse cx="692.3" cy="728.7" rx="20.0" ry="16.7" fill="url(#rb7)"/>
<ellipse cx="743.0" cy="751.0" rx="18.7" ry="16.8" fill="url(#rb1)"/>
<ellipse cx="787.8" cy="750.9" rx="21.0" ry="21.0" fill="url(#rb1)"/>
<ellipse cx="826.4" cy="739.9" rx="18.1" ry="20.2" fill="url(#rb3)"/>
<ellipse cx="868.0" cy="755.1" rx="15.8" ry="14.8" fill="url(#rb7)"/>
<ellipse cx="1.1" cy="788.1" rx="15.1" ry="16.7" fill="url(#rb1)"/>
<ellipse cx="53.7" cy="765.1" rx="17.0" ry="13.6" fill="url(#rb10)"/>
<ellipse cx="92.4" cy="784.2" rx="20.2" ry="19.7" fill="url(#rb5)"/>
<ellipse cx="127.8" cy="776.2" rx="21.5" ry="18.7" fill="url(#rb8)"/>
<ellipse cx="171.1" cy="781.5" rx="20.2" ry="23.2" fill="url(#rb10)"/>
<ellipse cx="208.8" cy="775.0" rx="17.8" ry="16.8" fill="url(#rb6)"/>
<ellipse cx="249.1" cy="790.2" rx="20.7" ry="23.9" fill="url(#rb4)"/>
<ellipse cx="290.4" cy="775.8" rx="20.4" ry="19.6" fill="url(#rb5)"/>
<ellipse cx="323.6" cy="782.4" rx="18.4" ry="15.4" fill="url(#rb7)"/>
<ellipse cx="360.4" cy="765.8" rx="18.1" ry="17.4" fill="url(#rb7)"/>
<ellipse cx="399.6" cy="769.4" rx="17.5" ry="14.8" fill="url(#rb7)"/>
<ellipse cx="433.6" cy="771.9" rx="19.9" ry="17.3" fill="url(#rb9)"/>
<ellipse cx="481.4" cy="790.5" rx="20.3" ry="22.5" fill="url(#rb10)"/>
<ellipse cx="519.2" cy="776.2" rx="19.1" ry="18.3" fill="url(#rb10)"/>
<ellipse cx="573.3" cy="786.6" rx="20.2" ry="20.7" fill="url(#rb8)"/>
<ellipse cx="599.3" cy="785.3" rx="20.0" ry="20.9" fill="url(#rb11)"/>
<ellipse cx="641.2" cy="762.8" rx="21.5" ry="22.6" fill="url(#rb7)"/>
<ellipse cx="674.6" cy="774.5" rx="17.7" ry="14.4" fill="url(#rb3)"/>
<ellipse cx="732.5" cy="777.6" rx="15.7" ry="15.7" fill="url(#rb2)"/>
<ellipse cx="768.0" cy="769.8" rx="17.0" ry="17.3" fill="url(#rb8)"/>
<ellipse cx="806.2" cy="771.9" rx="21.3" ry="21.9" fill="url(#rb2)"/>
<ellipse cx="853.8" cy="779.2" rx="20.9" ry="20.7" fill="url(#rb9)"/>
<ellipse cx="869.6" cy="770.9" rx="15.7" ry="15.2" fill="url(#rb3)"/>
<ellipse cx="-26.0" cy="806.1" rx="14.9" ry="17.8" fill="url(#rb8)"/>
<ellipse cx="15.7" cy="809.4" rx="17.8" ry="18.1" fill="url(#rb7)"/>
<ellipse cx="58.5" cy="807.3" rx="19.4" ry="18.4" fill="url(#rb6)"/>
<ellipse cx="99.8" cy="822.9" rx="16.8" ry="15.5" fill="url(#rb8)"/>
<ellipse cx="153.5" cy="809.3" rx="20.7" ry="18.7" fill="url(#rb8)"/>
<ellipse cx="190.1" cy="803.2" rx="16.8" ry="19.3" fill="url(#rb2)"/>
<ellipse cx="225.0" cy="815.4" rx="17.1" ry="18.3" fill="url(#rb5)"/>
<ellipse cx="248.3" cy="824.1" rx="20.0" ry="23.6" fill="url(#rb9)"/>
<ellipse cx="301.0" cy="811.0" rx="20.4" ry="17.0" fill="url(#rb7)"/>
<ellipse cx="332.7" cy="824.0" rx="14.6" ry="17.5" fill="url(#rb9)"/>
<ellipse cx="368.7" cy="824.1" rx="18.6" ry="20.0" fill="url(#rb5)"/>
<ellipse cx="425.1" cy="800.7" rx="15.9" ry="13.2" fill="url(#rb11)"/>
<ellipse cx="455.6" cy="816.6" rx="16.2" ry="17.4" fill="url(#rb8)"/>
<ellipse cx="487.9" cy="825.3" rx="15.7" ry="12.9" fill="url(#rb2)"/>
<ellipse cx="544.3" cy="805.2" rx="20.9" ry="21.0" fill="url(#rb1)"/>
<ellipse cx="576.8" cy="803.5" rx="20.9" ry="22.9" fill="url(#rb7)"/>
<ellipse cx="625.6" cy="819.1" rx="17.4" ry="14.1" fill="url(#rb10)"/>
<ellipse cx="647.1" cy="807.6" rx="18.8" ry="17.4" fill="url(#rb1)"/>
<ellipse cx="711.5" cy="797.8" rx="16.1" ry="14.2" fill="url(#rb0)"/>
<ellipse cx="744.9" cy="797.8" rx="14.8" ry="14.4" fill="url(#rb8)"/>
<ellipse cx="785.3" cy="798.2" rx="17.0" ry="17.8" fill="url(#rb9)"/>
<ellipse cx="827.7" cy="808.5" rx="21.2" ry="24.2" fill="url(#rb3)"/>
<ellipse cx="858.2" cy="803.4" rx="15.1" ry="13.2" fill="url(#rb6)"/>
<ellipse cx="-7.1" cy="859.9" rx="18.7" ry="20.2" fill="url(#rb1)"/>
<ellipse cx="41.0" cy="854.6" rx="18.0" ry="16.1" fill="url(#rb7)"/>
<ellipse cx="70.9" cy="843.9" rx="21.8" ry="18.6" fill="url(#rb7)"/>
<ellipse cx="112.8" cy="846.5" rx="16.5" ry="14.5" fill="url(#rb1)"/>
<ellipse cx="161.1" cy="835.6" rx="19.3" ry="16.4" fill="url(#rb9)"/>
<ellipse cx="206.7" cy="841.2" rx="21.3" ry="19.7" fill="url(#rb11)"/>
<ellipse cx="244.7" cy="856.1" rx="16.4" ry="13.5" fill="url(#rb4)"/>
<ellipse cx="281.2" cy="859.5" rx="18.4" ry="19.9" fill="url(#rb4)"/>
<ellipse cx="324.1" cy="832.5" rx="16.1" ry="19.0" fill="url(#rb1)"/>
<ellipse cx="354.4" cy="841.6" rx="15.8" ry="16.8" fill="url(#rb1)"/>
<ellipse cx="408.3" cy="841.8" rx="15.1" ry="12.5" fill="url(#rb1)"/>
<ellipse cx="445.4" cy="843.6" rx="19.7" ry="23.1" fill="url(#rb0)"/>
<ellipse cx="471.2" cy="845.5" rx="14.8" ry="12.3" fill="url(#rb4)"/>
<ellipse cx="506.0" cy="844.7" rx="19.7" ry="20.9" fill="url(#rb3)"/>
<ellipse cx="550.3" cy="849.7" rx="17.0" ry="18.0" fill="url(#rb10)"/>
<ellipse cx="591.9" cy="850.0" rx="16.8" ry="15.5" fill="url(#rb7)"/>
<ellipse cx="635.4" cy="839.0" rx="16.1" ry="16.1" fill="url(#rb9)"/>
<ellipse cx="670.9" cy="856.5" rx="20.6" ry="18.7" fill="url(#rb0)"/>
<ellipse cx="708.4" cy="841.7" rx="17.7" ry="14.4" fill="url(#rb7)"/>
<ellipse cx="752.2" cy="832.9" rx="21.3" ry="24.2" fill="url(#rb10)"/>
<ellipse cx="796.7" cy="839.0" rx="17.1" ry="19.0" fill="url(#rb3)"/>
<ellipse cx="848.5" cy="843.8" rx="21.5" ry="18.6" fill="url(#rb1)"/>
<ellipse cx="879.4" cy="850.0" rx="20.0" ry="18.1" fill="url(#rb5)"/>
<ellipse cx="-11.9" cy="888.1" rx="16.4" ry="16.4" fill="url(#rb9)"/>
<ellipse cx="29.3" cy="884.0" rx="17.1" ry="19.9" fill="url(#rb5)"/>
<ellipse cx="64.4" cy="886.0" rx="18.4" ry="19.9" fill="url(#rb0)"/>
<ellipse cx="93.4" cy="882.6" rx="19.9" ry="22.2" fill="url(#rb7)"/>
<ellipse cx="143.2" cy="892.9" rx="19.4" ry="15.7" fill="url(#rb10)"/>
<ellipse cx="189.0" cy="892.9" rx="17.3" ry="19.3" fill="url(#rb9)"/>
<ellipse cx="224.7" cy="883.8" rx="19.7" ry="17.4" fill="url(#rb9)"/>
<ellipse cx="252.2" cy="872.9" rx="18.3" ry="16.4" fill="url(#rb0)"/>
<ellipse cx="286.9" cy="869.7" rx="18.8" ry="22.0" fill="url(#rb10)"/>
<ellipse cx="352.1" cy="885.8" rx="16.5" ry="15.9" fill="url(#rb5)"/>
<ellipse cx="390.9" cy="891.4" rx="16.7" ry="13.8" fill="url(#rb10)"/>
<ellipse cx="410.0" cy="888.6" rx="21.6" ry="18.3" fill="url(#rb8)"/>
<ellipse cx="448.2" cy="879.0" rx="16.8" ry="19.7" fill="url(#rb8)"/>
<ellipse cx="486.7" cy="886.2" rx="14.8" ry="13.5" fill="url(#rb1)"/>
<ellipse cx="533.3" cy="889.9" rx="20.0" ry="22.2" fill="url(#rb5)"/>
<ellipse cx="590.8" cy="877.6" rx="19.3" ry="20.3" fill="url(#rb2)"/>
<ellipse cx="611.3" cy="881.1" rx="17.0" ry="18.0" fill="url(#rb9)"/>
<ellipse cx="661.0" cy="890.8" rx="15.1" ry="16.2" fill="url(#rb2)"/>
<ellipse cx="689.6" cy="876.8" rx="16.8" ry="16.5" fill="url(#rb3)"/>
<ellipse cx="743.2" cy="889.9" rx="16.5" ry="14.6" fill="url(#rb11)"/>
<ellipse cx="768.0" cy="868.9" rx="20.7" ry="22.6" fill="url(#rb7)"/>
<ellipse cx="823.1" cy="871.6" rx="14.5" ry="17.0" fill="url(#rb7)"/>
<ellipse cx="853.6" cy="892.3" rx="21.2" ry="23.6" fill="url(#rb9)"/>
<g filter="url(#fbb)">
<ellipse cx="140" cy="640" rx="110" ry="200" fill="rgb(74,74,74)"/>
<ellipse cx="220" cy="320" rx="150" ry="30" fill="rgb(74,74,74)" transform="rotate(25 220 320)"/>
<ellipse cx="30" cy="250" rx="30" ry="70" fill="rgb(79,79,79)"/>
<ellipse cx="210" cy="300" rx="80" ry="45" fill="rgb(76,76,76)"/>
<ellipse cx="480" cy="560" rx="60" ry="30" fill="rgb(79,79,79)"/>
<ellipse cx="650" cy="520" rx="60" ry="40" fill="rgb(80,80,80)"/>
<ellipse cx="300" cy="820" rx="80" ry="30" fill="rgb(79,79,79)"/>
<ellipse cx="370" cy="385" rx="35" ry="20" fill="rgb(66,66,66)"/>
<ellipse cx="765" cy="300" rx="22" ry="45" fill="rgb(51,51,51)" transform="rotate(20 765 300)"/>
<ellipse cx="838" cy="190" rx="18" ry="35" fill="rgb(51,51,51)"/>
<ellipse cx="280" cy="700" rx="70" ry="60" fill="rgb(99,99,99)"/>
<ellipse cx="560" cy="300" rx="80" ry="60" fill="rgb(96,96,96)"/>
<ellipse cx="650" cy="80" rx="80" ry="40" fill="rgb(94,94,94)"/>
<ellipse cx="430" cy="120" rx="60" ry="40" fill="rgb(94,94,94)"/>
<ellipse cx="55" cy="740" rx="22" ry="50" fill="rgb(26,26,26)"/>
<ellipse cx="78" cy="505" rx="25" ry="30" fill="rgb(69,69,69)"/>
<ellipse cx="70" cy="600" rx="22" ry="110" fill="rgb(71,71,71)"/>
<ellipse cx="72" cy="620" rx="20" ry="20" fill="rgb(69,69,69)"/>
<ellipse cx="22" cy="530" rx="28" ry="150" fill="rgb(133,133,133)"/>
<ellipse cx="9" cy="520" rx="10" ry="30" fill="rgb(173,173,173)"/>
<ellipse cx="40" cy="635" rx="14" ry="16" fill="rgb(128,128,128)"/>
<ellipse cx="16" cy="735" rx="18" ry="57" fill="rgb(191,191,191)"/>
<ellipse cx="10" cy="750" rx="12" ry="30" fill="rgb(255,255,255)"/>
<ellipse cx="8" cy="820" rx="9" ry="30" fill="rgb(153,153,153)"/>
<ellipse cx="49" cy="798" rx="15" ry="15" fill="rgb(115,115,115)"/>
<ellipse cx="86" cy="827" rx="18" ry="14" fill="rgb(107,107,107)"/>
<ellipse cx="175" cy="50" rx="30" ry="25" fill="rgb(71,71,71)"/>
<ellipse cx="244" cy="312" rx="20" ry="14" fill="rgb(66,66,66)"/>
<ellipse cx="374" cy="387" rx="20" ry="12" fill="rgb(69,69,69)"/>
<ellipse cx="62" cy="50" rx="18" ry="45" fill="rgb(120,120,120)"/>
<ellipse cx="72" cy="156" rx="9" ry="22" fill="rgb(115,115,115)"/>
<ellipse cx="135" cy="147" rx="10" ry="10" fill="rgb(107,107,107)"/>
<ellipse cx="790" cy="100" rx="20" ry="50" fill="rgb(133,133,133)"/>
<ellipse cx="772" cy="190" rx="22" ry="55" fill="rgb(148,148,148)"/>
<ellipse cx="775" cy="192" rx="12" ry="18" fill="rgb(189,189,189)"/>
<ellipse cx="830" cy="290" rx="28" ry="55" fill="rgb(163,163,163)"/>
<ellipse cx="800" cy="365" rx="25" ry="30" fill="rgb(138,138,138)"/>
<ellipse cx="830" cy="480" rx="20" ry="25" fill="rgb(122,122,122)"/>
<ellipse cx="825" cy="560" rx="20" ry="30" fill="rgb(117,117,117)"/>
<ellipse cx="780" cy="670" rx="18" ry="30" fill="rgb(117,117,117)"/>
<ellipse cx="370" cy="82" rx="18" ry="24" fill="rgb(153,153,153)"/>
<ellipse cx="378" cy="310" rx="20" ry="28" fill="rgb(189,189,189)"/>
<ellipse cx="209" cy="358" rx="14" ry="18" fill="rgb(140,140,140)"/>
<ellipse cx="268" cy="575" rx="18" ry="24" fill="rgb(163,163,163)"/>
<ellipse cx="587" cy="590" rx="16" ry="22" fill="rgb(143,143,143)"/>
<ellipse cx="601" cy="684" rx="16" ry="22" fill="rgb(143,143,143)"/>
<ellipse cx="606" cy="435" rx="14" ry="18" fill="rgb(128,128,128)"/>
<ellipse cx="89" cy="214" rx="13" ry="18" fill="rgb(128,128,128)"/>
<ellipse cx="60" cy="338" rx="12" ry="16" fill="rgb(122,122,122)"/>
<ellipse cx="606" cy="250" rx="25" ry="22" fill="rgb(128,128,128)"/>
<ellipse cx="517" cy="219" rx="13" ry="16" fill="rgb(122,122,122)"/>
<ellipse cx="318" cy="478" rx="12" ry="14" fill="rgb(122,122,122)"/>
<ellipse cx="547" cy="164" rx="12" ry="12" fill="rgb(122,122,122)"/>
<ellipse cx="268" cy="45" rx="14" ry="14" fill="rgb(117,117,117)"/>
<ellipse cx="447" cy="467" rx="10" ry="12" fill="rgb(117,117,117)"/>
<ellipse cx="378" cy="795" rx="12" ry="14" fill="rgb(117,117,117)"/>
<ellipse cx="497" cy="820" rx="14" ry="14" fill="rgb(117,117,117)"/>
<ellipse cx="50" cy="795" rx="20" ry="20" fill="rgb(117,117,117)"/>
</g></g>
<rect x="1.7" y="1.7" width="852.6" height="854.6" fill="none" stroke="#111" stroke-width="3.4"/>
</svg>
<text x="1090.4" y="84.4" font-size="61.5">(b)</text>
<text transform="translate(1627 85.3) scale(1 1.05)" font-size="62.5" font-weight="bold" fill="#fff">Gr_ZnPc</text>
<rect x="1502" y="816.3" width="342" height="6" fill="#fff"/>
<text transform="translate(1582 809) scale(1 1.1)" font-size="52.5" font-weight="bold" fill="#fff" stroke="rgba(70,15,5,0.45)" stroke-width="3" paint-order="stroke">200 nm</text>
<svg x="102" y="966" width="854" height="854" viewBox="0 0 854 854" overflow="hidden">
<defs><radialGradient id="rc0"><stop offset="0" stop-color="rgb(56,56,56)" stop-opacity="1"/><stop offset="0.45" stop-color="rgb(56,56,56)" stop-opacity="0.85"/><stop offset="1" stop-color="rgb(56,56,56)" stop-opacity="0"/></radialGradient><radialGradient id="rc1"><stop offset="0" stop-color="rgb(70,70,70)" stop-opacity="1"/><stop offset="0.45" stop-color="rgb(70,70,70)" stop-opacity="0.85"/><stop offset="1" stop-color="rgb(70,70,70)" stop-opacity="0"/></radialGradient><radialGradient id="rc2"><stop offset="0" stop-color="rgb(84,84,84)" stop-opacity="1"/><stop offset="0.45" stop-color="rgb(84,84,84)" stop-opacity="0.85"/><stop offset="1" stop-color="rgb(84,84,84)" stop-opacity="0"/></radialGradient><radialGradient id="rc3"><stop offset="0" stop-color="rgb(99,99,99)" stop-opacity="1"/><stop offset="0.45" stop-color="rgb(99,99,99)" stop-opacity="0.85"/><stop offset="1" stop-color="rgb(99,99,99)" stop-opacity="0"/></radialGradient><radialGradient id="rc4"><stop offset="0" stop-color="rgb(113,113,113)" stop-opacity="1"/><stop offset="0.45" stop-color="rgb(113,113,113)" stop-opacity="0.85"/><stop offset="1" stop-color="rgb(113,113,113)" stop-opacity="0"/></radialGradient><radialGradient id="rc5"><stop offset="0" stop-color="rgb(127,127,127)" stop-opacity="1"/><stop offset="0.45" stop-color="rgb(127,127,127)" stop-opacity="0.85"/><stop offset="1" stop-color="rgb(127,127,127)" stop-opacity="0"/></radialGradient><radialGradient id="rc6"><stop offset="0" stop-color="rgb(141,141,141)" stop-opacity="1"/><stop offset="0.45" stop-color="rgb(141,141,141)" stop-opacity="0.85"/><stop offset="1" stop-color="rgb(141,141,141)" stop-opacity="0"/></radialGradient><radialGradient id="rc7"><stop offset="0" stop-color="rgb(155,155,155)" stop-opacity="1"/><stop offset="0.45" stop-color="rgb(155,155,155)" stop-opacity="0.85"/><stop offset="1" stop-color="rgb(155,155,155)" stop-opacity="0"/></radialGradient><radialGradient id="rc8"><stop offset="0" stop-color="rgb(169,169,169)" stop-opacity="1"/><stop offset="0.45" stop-color="rgb(169,169,169)" stop-opacity="0.85"/><stop offset="1" stop-color="rgb(169,169,169)" stop-opacity="0"/></radialGradient><radialGradient id="rc9"><stop offset="0" stop-color="rgb(184,184,184)" stop-opacity="1"/><stop offset="0.45" stop-color="rgb(184,184,184)" stop-opacity="0.85"/><stop offset="1" stop-color="rgb(184,184,184)" stop-opacity="0"/></radialGradient><radialGradient id="rc10"><stop offset="0" stop-color="rgb(198,198,198)" stop-opacity="1"/><stop offset="0.45" stop-color="rgb(198,198,198)" stop-opacity="0.85"/><stop offset="1" stop-color="rgb(198,198,198)" stop-opacity="0"/></radialGradient><radialGradient id="rc11"><stop offset="0" stop-color="rgb(212,212,212)" stop-opacity="1"/><stop offset="0.45" stop-color="rgb(212,212,212)" stop-opacity="0.85"/><stop offset="1" stop-color="rgb(212,212,212)" stop-opacity="0"/></radialGradient><filter id="fbc" x="-50%" y="-50%" width="200%" height="200%" color-interpolation-filters="sRGB"><feGaussianBlur stdDeviation="9"/></filter>
<filter id="fc" filterUnits="userSpaceOnUse" x="-40" y="-40" width="934" height="934" color-interpolation-filters="sRGB">
<feGaussianBlur in="SourceGraphic" stdDeviation="2" result="h"/>
<feTurbulence type="fractalNoise" baseFrequency="0.04" numOctaves="2" seed="7" result="n"/>
<feColorMatrix in="n" type="matrix" values="1 0 0 0 0 1 0 0 0 0 1 0 0 0 0 0 0 0 0 1" result="ng0"/>
<feGaussianBlur in="ng0" stdDeviation="2" result="ng"/>
<feComposite in="h" in2="ng" operator="arithmetic" k1="0" k2="1" k3="0.15" k4="-0.0750" result="hn"/>
<feComponentTransfer in="hn"><feFuncR type="table" tableValues="0.0000 0.0429 0.0990 0.1603 0.2260 0.2930 0.3643 0.4351 0.5046 0.5679 0.6204 0.6703 0.7010 0.7316 0.7588 0.7833 0.8078 0.8293 0.8494 0.8694 0.8897 0.9112 0.9326 0.9453 0.9521 0.9589 0.9657 0.9725 0.9793 0.9848 0.9901 0.9951 1.0000"/><feFuncG type="table" tableValues="0.0000 0.0123 0.0245 0.0368 0.0499 0.0635 0.0813 0.0987 0.1150 0.1331 0.1541 0.1773 0.2172 0.2570 0.3020 0.3510 0.4000 0.4566 0.5168 0.5769 0.6353 0.6843 0.7333 0.7693 0.7965 0.8237 0.8490 0.8735 0.8980 0.9196 0.9406 0.9608 0.9804"/><feFuncB type="table" tableValues="0.0000 0.0123 0.0186 0.0227 0.0271 0.0316 0.0360 0.0415 0.0497 0.0574 0.0644 0.0728 0.0912 0.1096 0.1314 0.1559 0.1804 0.2064 0.2332 0.2599 0.2868 0.3143 0.3419 0.3979 0.4728 0.5477 0.6147 0.6787 0.7427 0.7971 0.8496 0.9000 0.9490"/><feFuncA type="table" tableValues="1 1"/></feComponentTransfer>
</filter></defs>
<g filter="url(#fc)"><rect x="-40" y="-40" width="934" height="934" fill="rgb(61,61,61)"/>
<ellipse cx="-33.2" cy="-39.8" rx="34.2" ry="36.4" fill="url(#rc6)"/>
<ellipse cx="47.1" cy="-14.2" rx="41.9" ry="34.4" fill="url(#rc5)"/>
<ellipse cx="88.2" cy="-45.6" rx="38.1" ry="35.5" fill="url(#rc6)"/>
<ellipse cx="151.6" cy="-31.1" rx="34.4" ry="32.6" fill="url(#rc6)"/>
<ellipse cx="191.7" cy="-40.3" rx="34.1" ry="34.2" fill="url(#rc5)"/>
<ellipse cx="248.6" cy="-14.3" rx="38.7" ry="43.2" fill="url(#rc6)"/>
<ellipse cx="311.6" cy="-31.4" rx="34.5" ry="37.3" fill="url(#rc6)"/>
<ellipse cx="372.8" cy="-31.2" rx="34.2" ry="29.9" fill="url(#rc5)"/>
<ellipse cx="426.2" cy="-46.6" rx="42.9" ry="46.5" fill="url(#rc5)"/>
<ellipse cx="495.1" cy="-23.3" rx="38.3" ry="34.1" fill="url(#rc7)"/>
<ellipse cx="539.8" cy="-10.3" rx="42.8" ry="42.6" fill="url(#rc6)"/>
<ellipse cx="606.0" cy="-31.3" rx="39.4" ry="41.0" fill="url(#rc6)"/>
<ellipse cx="642.8" cy="-38.9" rx="35.2" ry="32.5" fill="url(#rc6)"/>
<ellipse cx="706.3" cy="-15.5" rx="36.2" ry="36.5" fill="url(#rc7)"/>
<ellipse cx="743.1" cy="-9.1" rx="36.7" ry="39.6" fill="url(#rc6)"/>
<ellipse cx="822.6" cy="-14.9" rx="42.9" ry="39.9" fill="url(#rc6)"/>
<ellipse cx="860.8" cy="-35.9" rx="41.3" ry="45.5" fill="url(#rc6)"/>
<ellipse cx="-14.8" cy="38.8" rx="39.7" ry="39.1" fill="url(#rc4)"/>
<ellipse cx="40.8" cy="12.7" rx="34.8" ry="32.3" fill="url(#rc1)"/>
<ellipse cx="98.3" cy="30.7" rx="39.4" ry="36.7" fill="url(#rc5)"/>
<ellipse cx="150.1" cy="10.4" rx="38.4" ry="36.8" fill="url(#rc6)"/>
<ellipse cx="243.5" cy="22.4" rx="40.0" ry="39.3" fill="url(#rc6)"/>
<ellipse cx="264.5" cy="30.5" rx="40.7" ry="48.7" fill="url(#rc7)"/>
<ellipse cx="331.8" cy="15.6" rx="39.1" ry="32.0" fill="url(#rc5)"/>
<ellipse cx="401.1" cy="4.6" rx="40.6" ry="38.0" fill="url(#rc6)"/>
<ellipse cx="436.3" cy="27.9" rx="39.1" ry="31.8" fill="url(#rc7)"/>
<ellipse cx="513.1" cy="6.2" rx="38.1" ry="40.6" fill="url(#rc6)"/>
<ellipse cx="559.9" cy="17.4" rx="34.8" ry="38.9" fill="url(#rc7)"/>
<ellipse cx="628.8" cy="13.7" rx="37.0" ry="32.9" fill="url(#rc6)"/>
<ellipse cx="691.5" cy="8.3" rx="39.7" ry="32.5" fill="url(#rc5)"/>
<ellipse cx="717.0" cy="25.7" rx="35.4" ry="37.0" fill="url(#rc6)"/>
<ellipse cx="774.2" cy="5.9" rx="42.0" ry="34.5" fill="url(#rc5)"/>
<ellipse cx="855.3" cy="6.2" rx="38.6" ry="46.0" fill="url(#rc6)"/>
<ellipse cx="909.1" cy="27.2" rx="34.1" ry="29.6" fill="url(#rc6)"/>
<ellipse cx="-45.0" cy="63.3" rx="33.6" ry="30.4" fill="url(#rc5)"/>
<ellipse cx="39.4" cy="52.6" rx="34.5" ry="35.1" fill="url(#rc4)"/>
<ellipse cx="84.8" cy="51.5" rx="35.2" ry="33.1" fill="url(#rc6)"/>
<ellipse cx="152.9" cy="56.8" rx="38.4" ry="43.9" fill="url(#rc6)"/>
<ellipse cx="207.4" cy="82.8" rx="36.7" ry="38.4" fill="url(#rc6)"/>
<ellipse cx="240.4" cy="77.8" rx="42.2" ry="34.4" fill="url(#rc7)"/>
<ellipse cx="290.5" cy="65.2" rx="34.1" ry="32.5" fill="url(#rc7)"/>
<ellipse cx="364.1" cy="63.3" rx="38.7" ry="41.8" fill="url(#rc4)"/>
<ellipse cx="406.3" cy="71.2" rx="34.1" ry="36.0" fill="url(#rc7)"/>
<ellipse cx="478.3" cy="58.4" rx="33.8" ry="33.6" fill="url(#rc6)"/>
<ellipse cx="514.7" cy="80.1" rx="35.7" ry="38.0" fill="url(#rc7)"/>
<ellipse cx="599.3" cy="61.2" rx="34.7" ry="32.5" fill="url(#rc6)"/>
<ellipse cx="636.7" cy="81.7" rx="37.0" ry="32.3" fill="url(#rc7)"/>
<ellipse cx="702.8" cy="72.2" rx="33.6" ry="34.1" fill="url(#rc6)"/>
<ellipse cx="742.3" cy="51.2" rx="38.1" ry="40.2" fill="url(#rc2)"/>
<ellipse cx="823.4" cy="62.4" rx="36.1" ry="37.3" fill="url(#rc5)"/>
<ellipse cx="880.2" cy="84.9" rx="33.6" ry="31.3" fill="url(#rc5)"/>
<ellipse cx="-14.9" cy="128.8" rx="40.5" ry="36.0" fill="url(#rc6)"/>
<ellipse cx="61.0" cy="116.0" rx="40.7" ry="45.1" fill="url(#rc5)"/>
<ellipse cx="109.9" cy="121.3" rx="42.8" ry="41.3" fill="url(#rc7)"/>
<ellipse cx="161.8" cy="123.5" rx="39.1" ry="43.1" fill="url(#rc7)"/>
<ellipse cx="209.2" cy="131.9" rx="41.0" ry="34.5" fill="url(#rc9)"/>
<ellipse cx="271.7" cy="125.5" rx="43.5" ry="42.0" fill="url(#rc8)"/>
<ellipse cx="335.4" cy="131.5" rx="35.2" ry="38.3" fill="url(#rc9)"/>
<ellipse cx="399.5" cy="131.8" rx="37.0" ry="42.5" fill="url(#rc8)"/>
<ellipse cx="450.3" cy="122.1" rx="34.7" ry="30.3" fill="url(#rc7)"/>
<ellipse cx="519.8" cy="101.2" rx="39.3" ry="46.0" fill="url(#rc7)"/>
<ellipse cx="571.1" cy="131.1" rx="38.4" ry="39.1" fill="url(#rc7)"/>
<ellipse cx="599.0" cy="125.1" rx="41.0" ry="46.7" fill="url(#rc7)"/>
<ellipse cx="684.4" cy="134.4" rx="33.8" ry="27.3" fill="url(#rc10)"/>
<ellipse cx="735.6" cy="104.3" rx="33.6" ry="35.5" fill="url(#rc6)"/>
<ellipse cx="772.7" cy="124.7" rx="38.9" ry="41.9" fill="url(#rc7)"/>
<ellipse cx="844.9" cy="123.1" rx="33.5" ry="34.7" fill="url(#rc6)"/>
<ellipse cx="896.4" cy="115.0" rx="43.5" ry="44.5" fill="url(#rc6)"/>
<ellipse cx="-10.5" cy="148.0" rx="36.2" ry="40.5" fill="url(#rc6)"/>
<ellipse cx="15.8" cy="175.4" rx="36.4" ry="37.8" fill="url(#rc2)"/>
<ellipse cx="83.1" cy="170.8" rx="34.1" ry="37.6" fill="url(#rc4)"/>
<ellipse cx="122.7" cy="154.7" rx="34.5" ry="29.1" fill="url(#rc7)"/>
<ellipse cx="181.1" cy="170.3" rx="42.0" ry="34.2" fill="url(#rc8)"/>
<ellipse cx="264.9" cy="160.6" rx="38.4" ry="36.2" fill="url(#rc9)"/>
<ellipse cx="317.8" cy="162.7" rx="33.4" ry="38.3" fill="url(#rc10)"/>
<ellipse cx="372.1" cy="180.1" rx="37.1" ry="31.6" fill="url(#rc10)"/>
<ellipse cx="407.1" cy="153.9" rx="42.8" ry="48.7" fill="url(#rc8)"/>
<ellipse cx="476.8" cy="165.4" rx="33.8" ry="40.3" fill="url(#rc8)"/>
<ellipse cx="514.4" cy="182.5" rx="39.3" ry="47.1" fill="url(#rc9)"/>
<ellipse cx="581.7" cy="173.4" rx="37.7" ry="44.8" fill="url(#rc7)"/>
<ellipse cx="653.6" cy="167.0" rx="34.8" ry="32.6" fill="url(#rc9)"/>
<ellipse cx="712.1" cy="160.0" rx="40.3" ry="44.8" fill="url(#rc10)"/>
<ellipse cx="749.2" cy="161.4" rx="42.6" ry="35.8" fill="url(#rc8)"/>
<ellipse cx="827.5" cy="156.6" rx="37.4" ry="30.6" fill="url(#rc2)"/>
<ellipse cx="859.9" cy="162.9" rx="34.1" ry="27.8" fill="url(#rc6)"/>
<ellipse cx="-5.5" cy="204.5" rx="36.7" ry="32.9" fill="url(#rc6)"/>
<ellipse cx="46.0" cy="219.2" rx="38.6" ry="41.6" fill="url(#rc3)"/>
<ellipse cx="123.0" cy="206.4" rx="37.8" ry="34.9" fill="url(#rc7)"/>
<ellipse cx="158.2" cy="213.4" rx="41.0" ry="40.0" fill="url(#rc6)"/>
<ellipse cx="228.4" cy="206.1" rx="37.1" ry="38.4" fill="url(#rc8)"/>
<ellipse cx="288.7" cy="221.6" rx="34.8" ry="30.0" fill="url(#rc9)"/>
<ellipse cx="328.9" cy="195.5" rx="38.4" ry="36.0" fill="url(#rc11)"/>
<ellipse cx="405.4" cy="197.5" rx="40.3" ry="35.8" fill="url(#rc9)"/>
<ellipse cx="462.2" cy="205.5" rx="40.6" ry="40.0" fill="url(#rc8)"/>
<ellipse cx="488.9" cy="195.1" rx="39.0" ry="39.9" fill="url(#rc8)"/>
<ellipse cx="562.1" cy="216.1" rx="34.5" ry="35.8" fill="url(#rc7)"/>
<ellipse cx="632.4" cy="217.5" rx="37.3" ry="36.4" fill="url(#rc7)"/>
<ellipse cx="671.0" cy="221.5" rx="41.3" ry="40.5" fill="url(#rc6)"/>
<ellipse cx="741.1" cy="232.9" rx="39.6" ry="41.3" fill="url(#rc7)"/>
<ellipse cx="768.0" cy="230.7" rx="38.6" ry="42.6" fill="url(#rc7)"/>
<ellipse cx="859.0" cy="207.9" rx="40.5" ry="44.4" fill="url(#rc7)"/>
<ellipse cx="902.8" cy="201.1" rx="37.3" ry="32.5" fill="url(#rc7)"/>
<ellipse cx="-38.2" cy="263.2" rx="41.0" ry="41.3" fill="url(#rc5)"/>
<ellipse cx="17.6" cy="247.2" rx="41.3" ry="38.1" fill="url(#rc6)"/>
<ellipse cx="69.6" cy="246.7" rx="40.7" ry="35.1" fill="url(#rc7)"/>
<ellipse cx="141.7" cy="245.0" rx="38.3" ry="34.8" fill="url(#rc8)"/>
<ellipse cx="212.7" cy="266.3" rx="43.1" ry="46.0" fill="url(#rc6)"/>
<ellipse cx="264.7" cy="256.8" rx="38.9" ry="36.8" fill="url(#rc7)"/>
<ellipse cx="321.1" cy="267.1" rx="39.1" ry="35.5" fill="url(#rc8)"/>
<ellipse cx="354.1" cy="269.2" rx="34.5" ry="30.4" fill="url(#rc7)"/>
<ellipse cx="420.4" cy="267.6" rx="34.1" ry="32.5" fill="url(#rc7)"/>
<ellipse cx="474.7" cy="274.0" rx="36.2" ry="41.6" fill="url(#rc8)"/>
<ellipse cx="521.8" cy="244.5" rx="33.9" ry="32.2" fill="url(#rc9)"/>
<ellipse cx="576.9" cy="259.8" rx="42.3" ry="50.0" fill="url(#rc10)"/>
<ellipse cx="637.4" cy="268.2" rx="35.5" ry="37.0" fill="url(#rc7)"/>
<ellipse cx="712.5" cy="259.5" rx="37.6" ry="35.5" fill="url(#rc8)"/>
<ellipse cx="772.0" cy="250.9" rx="42.2" ry="37.7" fill="url(#rc9)"/>
<ellipse cx="812.4" cy="280.6" rx="35.2" ry="29.4" fill="url(#rc8)"/>
<ellipse cx="860.2" cy="254.0" rx="37.4" ry="34.5" fill="url(#rc7)"/>
<ellipse cx="3.8" cy="328.5" rx="41.3" ry="48.3" fill="url(#rc6)"/>
<ellipse cx="40.9" cy="293.6" rx="33.8" ry="30.7" fill="url(#rc7)"/>
<ellipse cx="101.9" cy="294.5" rx="33.5" ry="28.4" fill="url(#rc7)"/>
<ellipse cx="152.3" cy="312.4" rx="42.6" ry="47.7" fill="url(#rc3)"/>
<ellipse cx="234.0" cy="295.8" rx="42.8" ry="47.1" fill="url(#rc6)"/>
<ellipse cx="260.9" cy="312.8" rx="40.3" ry="47.6" fill="url(#rc6)"/>
<ellipse cx="326.0" cy="328.3" rx="41.9" ry="40.7" fill="url(#rc8)"/>
<ellipse cx="383.5" cy="301.7" rx="36.1" ry="32.9" fill="url(#rc7)"/>
<ellipse cx="440.1" cy="298.7" rx="35.2" ry="28.6" fill="url(#rc7)"/>
<ellipse cx="513.3" cy="310.4" rx="36.2" ry="38.6" fill="url(#rc11)"/>
<ellipse cx="553.2" cy="321.8" rx="36.7" ry="36.2" fill="url(#rc9)"/>
<ellipse cx="630.7" cy="305.0" rx="38.9" ry="36.8" fill="url(#rc7)"/>
<ellipse cx="686.2" cy="314.0" rx="36.7" ry="29.9" fill="url(#rc6)"/>
<ellipse cx="720.6" cy="307.4" rx="34.2" ry="27.8" fill="url(#rc6)"/>
<ellipse cx="769.2" cy="298.7" rx="40.0" ry="43.9" fill="url(#rc8)"/>
<ellipse cx="825.2" cy="320.1" rx="43.5" ry="50.6" fill="url(#rc7)"/>
<ellipse cx="905.3" cy="329.1" rx="37.8" ry="41.3" fill="url(#rc6)"/>
<ellipse cx="-42.6" cy="377.7" rx="40.3" ry="46.0" fill="url(#rc6)"/>
<ellipse cx="10.2" cy="363.9" rx="38.7" ry="31.9" fill="url(#rc7)"/>
<ellipse cx="99.2" cy="343.7" rx="37.3" ry="39.1" fill="url(#rc7)"/>
<ellipse cx="133.4" cy="357.6" rx="34.4" ry="41.0" fill="url(#rc7)"/>
<ellipse cx="198.8" cy="353.8" rx="41.2" ry="33.1" fill="url(#rc8)"/>
<ellipse cx="246.7" cy="341.6" rx="40.0" ry="33.8" fill="url(#rc5)"/>
<ellipse cx="304.5" cy="359.1" rx="37.3" ry="32.5" fill="url(#rc7)"/>
<ellipse cx="345.1" cy="355.4" rx="39.6" ry="45.4" fill="url(#rc7)"/>
<ellipse cx="410.3" cy="341.4" rx="42.3" ry="48.7" fill="url(#rc6)"/>
<ellipse cx="489.6" cy="340.8" rx="39.4" ry="32.6" fill="url(#rc8)"/>
<ellipse cx="549.5" cy="342.4" rx="42.2" ry="40.0" fill="url(#rc4)"/>
<ellipse cx="586.8" cy="354.3" rx="41.0" ry="40.0" fill="url(#rc7)"/>
<ellipse cx="645.5" cy="362.3" rx="40.9" ry="37.6" fill="url(#rc7)"/>
<ellipse cx="695.5" cy="354.9" rx="42.8" ry="38.3" fill="url(#rc6)"/>
<ellipse cx="757.7" cy="372.8" rx="40.0" ry="44.1" fill="url(#rc6)"/>
<ellipse cx="823.5" cy="370.6" rx="33.5" ry="39.3" fill="url(#rc7)"/>
<ellipse cx="873.5" cy="348.2" rx="35.7" ry="32.3" fill="url(#rc7)"/>
<ellipse cx="-17.0" cy="393.7" rx="42.6" ry="45.1" fill="url(#rc7)"/>
<ellipse cx="48.5" cy="402.4" rx="41.0" ry="38.1" fill="url(#rc8)"/>
<ellipse cx="115.5" cy="412.0" rx="37.8" ry="38.3" fill="url(#rc0)"/>
<ellipse cx="160.9" cy="405.3" rx="42.2" ry="45.2" fill="url(#rc7)"/>
<ellipse cx="220.5" cy="397.7" rx="35.2" ry="30.7" fill="url(#rc6)"/>
<ellipse cx="261.7" cy="392.8" rx="42.9" ry="47.9" fill="url(#rc6)"/>
<ellipse cx="344.8" cy="420.6" rx="34.8" ry="28.7" fill="url(#rc7)"/>
<ellipse cx="410.5" cy="417.7" rx="35.1" ry="28.6" fill="url(#rc5)"/>
<ellipse cx="452.3" cy="408.7" rx="34.5" ry="40.3" fill="url(#rc3)"/>
<ellipse cx="520.1" cy="401.7" rx="38.9" ry="39.6" fill="url(#rc7)"/>
<ellipse cx="575.9" cy="415.3" rx="38.6" ry="39.4" fill="url(#rc6)"/>
<ellipse cx="607.0" cy="417.7" rx="34.4" ry="31.2" fill="url(#rc6)"/>
<ellipse cx="684.7" cy="428.0" rx="35.4" ry="29.6" fill="url(#rc7)"/>
<ellipse cx="743.9" cy="415.1" rx="38.7" ry="35.2" fill="url(#rc6)"/>
<ellipse cx="769.5" cy="406.2" rx="42.6" ry="39.1" fill="url(#rc7)"/>
<ellipse cx="848.1" cy="408.5" rx="37.3" ry="43.6" fill="url(#rc6)"/>
<ellipse cx="901.3" cy="418.3" rx="38.6" ry="36.8" fill="url(#rc6)"/>
<ellipse cx="-35.3" cy="460.0" rx="38.1" ry="39.9" fill="url(#rc7)"/>
<ellipse cx="35.3" cy="438.1" rx="37.6" ry="42.6" fill="url(#rc10)"/>
<ellipse cx="64.8" cy="475.9" rx="37.4" ry="33.2" fill="url(#rc9)"/>
<ellipse cx="147.2" cy="438.0" rx="34.5" ry="36.5" fill="url(#rc5)"/>
<ellipse cx="196.9" cy="473.8" rx="35.7" ry="29.7" fill="url(#rc8)"/>
<ellipse cx="233.2" cy="458.0" rx="39.9" ry="46.5" fill="url(#rc5)"/>
<ellipse cx="297.6" cy="446.5" rx="38.7" ry="40.7" fill="url(#rc3)"/>
<ellipse cx="363.0" cy="454.6" rx="38.7" ry="32.8" fill="url(#rc8)"/>
<ellipse cx="433.8" cy="458.0" rx="38.9" ry="35.2" fill="url(#rc9)"/>
<ellipse cx="490.0" cy="468.4" rx="35.1" ry="29.0" fill="url(#rc8)"/>
<ellipse cx="548.6" cy="443.4" rx="38.4" ry="41.9" fill="url(#rc6)"/>
<ellipse cx="582.3" cy="449.1" rx="37.1" ry="40.9" fill="url(#rc4)"/>
<ellipse cx="650.9" cy="452.3" rx="34.5" ry="35.8" fill="url(#rc6)"/>
<ellipse cx="694.0" cy="450.2" rx="39.4" ry="46.4" fill="url(#rc6)"/>
<ellipse cx="741.1" cy="449.6" rx="35.5" ry="36.2" fill="url(#rc1)"/>
<ellipse cx="800.0" cy="456.7" rx="38.7" ry="41.6" fill="url(#rc7)"/>
<ellipse cx="865.7" cy="450.5" rx="34.8" ry="33.2" fill="url(#rc6)"/>
<ellipse cx="7.9" cy="488.5" rx="35.1" ry="41.5" fill="url(#rc8)"/>
<ellipse cx="62.6" cy="519.7" rx="37.0" ry="35.1" fill="url(#rc8)"/>
<ellipse cx="102.7" cy="513.3" rx="36.1" ry="40.5" fill="url(#rc7)"/>
<ellipse cx="172.8" cy="519.4" rx="40.6" ry="36.2" fill="url(#rc8)"/>
<ellipse cx="212.2" cy="499.8" rx="37.4" ry="38.0" fill="url(#rc8)"/>
<ellipse cx="284.1" cy="513.2" rx="40.2" ry="37.7" fill="url(#rc8)"/>
<ellipse cx="347.6" cy="514.0" rx="39.6" ry="46.1" fill="url(#rc8)"/>
<ellipse cx="411.5" cy="486.6" rx="35.2" ry="28.6" fill="url(#rc11)"/>
<ellipse cx="461.7" cy="493.3" rx="37.6" ry="38.1" fill="url(#rc9)"/>
<ellipse cx="503.3" cy="512.3" rx="36.1" ry="37.8" fill="url(#rc8)"/>
<ellipse cx="549.6" cy="492.9" rx="34.8" ry="30.9" fill="url(#rc6)"/>
<ellipse cx="597.2" cy="511.3" rx="38.9" ry="41.8" fill="url(#rc7)"/>
<ellipse cx="682.6" cy="516.5" rx="33.8" ry="29.1" fill="url(#rc10)"/>
<ellipse cx="728.6" cy="511.5" rx="41.9" ry="39.1" fill="url(#rc7)"/>
<ellipse cx="770.1" cy="524.3" rx="37.7" ry="39.4" fill="url(#rc8)"/>
<ellipse cx="822.2" cy="486.9" rx="41.2" ry="39.3" fill="url(#rc8)"/>
<ellipse cx="896.8" cy="499.1" rx="36.8" ry="37.0" fill="url(#rc6)"/>
<ellipse cx="-29.0" cy="572.9" rx="37.6" ry="44.9" fill="url(#rc5)"/>
<ellipse cx="32.5" cy="569.7" rx="43.2" ry="45.5" fill="url(#rc6)"/>
<ellipse cx="74.8" cy="550.6" rx="35.1" ry="34.2" fill="url(#rc6)"/>
<ellipse cx="120.7" cy="540.1" rx="39.9" ry="42.0" fill="url(#rc7)"/>
<ellipse cx="187.0" cy="536.9" rx="42.6" ry="47.9" fill="url(#rc9)"/>
<ellipse cx="271.5" cy="555.8" rx="36.4" ry="40.0" fill="url(#rc11)"/>
<ellipse cx="316.9" cy="564.0" rx="40.6" ry="35.5" fill="url(#rc9)"/>
<ellipse cx="350.8" cy="556.7" rx="38.6" ry="31.0" fill="url(#rc6)"/>
<ellipse cx="432.1" cy="546.8" rx="41.5" ry="39.6" fill="url(#rc9)"/>
<ellipse cx="489.5" cy="559.2" rx="36.1" ry="35.8" fill="url(#rc8)"/>
<ellipse cx="534.3" cy="547.7" rx="36.5" ry="42.6" fill="url(#rc5)"/>
<ellipse cx="577.5" cy="561.3" rx="41.2" ry="38.9" fill="url(#rc8)"/>
<ellipse cx="624.9" cy="562.0" rx="40.6" ry="33.6" fill="url(#rc8)"/>
<ellipse cx="688.5" cy="537.6" rx="34.7" ry="39.7" fill="url(#rc11)"/>
<ellipse cx="756.3" cy="545.2" rx="33.4" ry="39.4" fill="url(#rc7)"/>
<ellipse cx="811.7" cy="541.1" rx="36.7" ry="34.7" fill="url(#rc7)"/>
<ellipse cx="880.4" cy="547.1" rx="35.7" ry="29.1" fill="url(#rc6)"/>
<ellipse cx="-11.5" cy="611.8" rx="42.5" ry="46.4" fill="url(#rc6)"/>
<ellipse cx="68.6" cy="591.1" rx="39.3" ry="44.4" fill="url(#rc7)"/>
<ellipse cx="112.4" cy="605.2" rx="42.8" ry="43.4" fill="url(#rc7)"/>
<ellipse cx="152.0" cy="602.1" rx="38.9" ry="38.7" fill="url(#rc8)"/>
<ellipse cx="232.1" cy="609.2" rx="34.5" ry="40.5" fill="url(#rc10)"/>
<ellipse cx="285.4" cy="587.7" rx="33.6" ry="36.7" fill="url(#rc11)"/>
<ellipse cx="331.7" cy="603.8" rx="36.5" ry="38.3" fill="url(#rc8)"/>
<ellipse cx="376.6" cy="593.7" rx="40.6" ry="44.4" fill="url(#rc2)"/>
<ellipse cx="454.2" cy="616.1" rx="38.6" ry="44.2" fill="url(#rc6)"/>
<ellipse cx="502.9" cy="620.9" rx="36.7" ry="29.4" fill="url(#rc5)"/>
<ellipse cx="541.1" cy="584.3" rx="37.6" ry="39.7" fill="url(#rc5)"/>
<ellipse cx="603.3" cy="620.8" rx="37.7" ry="34.1" fill="url(#rc7)"/>
<ellipse cx="653.2" cy="600.1" rx="37.1" ry="31.0" fill="url(#rc5)"/>
<ellipse cx="720.0" cy="596.5" rx="38.9" ry="37.0" fill="url(#rc3)"/>
<ellipse cx="788.0" cy="603.1" rx="41.0" ry="33.5" fill="url(#rc7)"/>
<ellipse cx="827.4" cy="621.9" rx="41.0" ry="45.5" fill="url(#rc8)"/>
<ellipse cx="911.2" cy="615.8" rx="35.4" ry="40.5" fill="url(#rc6)"/>
<ellipse cx="-10.7" cy="668.6" rx="41.0" ry="36.4" fill="url(#rc6)"/>
<ellipse cx="13.1" cy="670.1" rx="36.1" ry="31.8" fill="url(#rc6)"/>
<ellipse cx="85.7" cy="668.0" rx="35.4" ry="30.9" fill="url(#rc4)"/>
<ellipse cx="120.9" cy="648.3" rx="43.4" ry="38.9" fill="url(#rc1)"/>
<ellipse cx="209.0" cy="636.7" rx="38.4" ry="43.9" fill="url(#rc9)"/>
<ellipse cx="256.5" cy="656.2" rx="41.3" ry="48.7" fill="url(#rc8)"/>
<ellipse cx="297.4" cy="657.3" rx="41.3" ry="46.4" fill="url(#rc7)"/>
<ellipse cx="372.0" cy="644.6" rx="36.4" ry="34.8" fill="url(#rc7)"/>
<ellipse cx="420.8" cy="669.5" rx="40.0" ry="41.8" fill="url(#rc7)"/>
<ellipse cx="462.4" cy="648.6" rx="38.6" ry="44.7" fill="url(#rc6)"/>
<ellipse cx="529.6" cy="653.6" rx="35.2" ry="29.4" fill="url(#rc6)"/>
<ellipse cx="590.1" cy="658.0" rx="36.0" ry="32.6" fill="url(#rc9)"/>
<ellipse cx="645.6" cy="633.1" rx="41.9" ry="42.8" fill="url(#rc7)"/>
<ellipse cx="702.9" cy="660.2" rx="39.6" ry="39.1" fill="url(#rc8)"/>
<ellipse cx="756.8" cy="665.7" rx="35.5" ry="36.0" fill="url(#rc9)"/>
<ellipse cx="830.3" cy="649.8" rx="40.5" ry="43.2" fill="url(#rc7)"/>
<ellipse cx="880.6" cy="636.1" rx="37.6" ry="34.7" fill="url(#rc7)"/>
<ellipse cx="-18.6" cy="688.9" rx="40.5" ry="48.1" fill="url(#rc7)"/>
<ellipse cx="37.0" cy="701.5" rx="41.0" ry="34.2" fill="url(#rc6)"/>
<ellipse cx="116.3" cy="685.8" rx="35.8" ry="39.0" fill="url(#rc4)"/>
<ellipse cx="183.5" cy="681.9" rx="36.8" ry="29.6" fill="url(#rc7)"/>
<ellipse cx="217.4" cy="706.6" rx="33.8" ry="37.1" fill="url(#rc3)"/>
<ellipse cx="299.0" cy="691.3" rx="42.6" ry="37.7" fill="url(#rc7)"/>
<ellipse cx="347.9" cy="704.8" rx="41.3" ry="46.7" fill="url(#rc7)"/>
<ellipse cx="374.2" cy="713.2" rx="41.0" ry="44.4" fill="url(#rc6)"/>
<ellipse cx="464.3" cy="717.0" rx="35.1" ry="29.7" fill="url(#rc6)"/>
<ellipse cx="522.7" cy="708.2" rx="40.5" ry="41.8" fill="url(#rc8)"/>
<ellipse cx="558.9" cy="703.0" rx="36.0" ry="29.6" fill="url(#rc7)"/>
<ellipse cx="621.6" cy="706.5" rx="37.3" ry="44.1" fill="url(#rc7)"/>
<ellipse cx="669.3" cy="706.5" rx="37.8" ry="37.7" fill="url(#rc7)"/>
<ellipse cx="710.3" cy="703.8" rx="42.9" ry="49.4" fill="url(#rc7)"/>
<ellipse cx="777.6" cy="704.7" rx="39.6" ry="36.7" fill="url(#rc7)"/>
<ellipse cx="852.9" cy="709.1" rx="43.4" ry="49.4" fill="url(#rc5)"/>
<ellipse cx="911.6" cy="681.6" rx="42.0" ry="41.0" fill="url(#rc6)"/>
<ellipse cx="-29.4" cy="750.3" rx="40.2" ry="46.0" fill="url(#rc7)"/>
<ellipse cx="45.0" cy="752.5" rx="43.2" ry="41.9" fill="url(#rc7)"/>
<ellipse cx="82.9" cy="733.8" rx="37.0" ry="38.7" fill="url(#rc8)"/>
<ellipse cx="143.6" cy="758.2" rx="37.0" ry="31.5" fill="url(#rc8)"/>
<ellipse cx="208.7" cy="759.2" rx="41.3" ry="37.6" fill="url(#rc5)"/>
<ellipse cx="239.3" cy="736.3" rx="43.1" ry="37.0" fill="url(#rc0)"/>
<ellipse cx="325.4" cy="761.6" rx="40.0" ry="36.0" fill="url(#rc6)"/>
<ellipse cx="383.3" cy="762.4" rx="37.3" ry="32.2" fill="url(#rc6)"/>
<ellipse cx="433.5" cy="753.2" rx="40.0" ry="33.2" fill="url(#rc7)"/>
<ellipse cx="462.8" cy="742.0" rx="42.3" ry="42.9" fill="url(#rc6)"/>
<ellipse cx="518.9" cy="731.8" rx="34.1" ry="36.4" fill="url(#rc8)"/>
<ellipse cx="580.4" cy="734.1" rx="38.4" ry="43.4" fill="url(#rc6)"/>
<ellipse cx="657.5" cy="766.0" rx="38.3" ry="33.8" fill="url(#rc6)"/>
<ellipse cx="684.3" cy="754.5" rx="40.9" ry="38.1" fill="url(#rc6)"/>
<ellipse cx="768.5" cy="732.4" rx="37.7" ry="35.2" fill="url(#rc7)"/>
<ellipse cx="807.4" cy="756.3" rx="38.6" ry="38.0" fill="url(#rc7)"/>
<ellipse cx="880.4" cy="766.7" rx="36.5" ry="34.7" fill="url(#rc5)"/>
<ellipse cx="-18.0" cy="781.0" rx="35.5" ry="35.5" fill="url(#rc6)"/>
<ellipse cx="67.0" cy="783.7" rx="34.1" ry="28.7" fill="url(#rc6)"/>
<ellipse cx="108.5" cy="792.6" rx="35.5" ry="41.5" fill="url(#rc7)"/>
<ellipse cx="170.8" cy="810.6" rx="36.5" ry="32.2" fill="url(#rc7)"/>
<ellipse cx="238.2" cy="809.0" rx="39.7" ry="33.2" fill="url(#rc6)"/>
<ellipse cx="270.5" cy="793.1" rx="37.4" ry="40.6" fill="url(#rc7)"/>
<ellipse cx="341.8" cy="782.4" rx="34.5" ry="27.8" fill="url(#rc6)"/>
<ellipse cx="389.5" cy="788.3" rx="36.4" ry="41.2" fill="url(#rc7)"/>
<ellipse cx="458.3" cy="814.4" rx="38.3" ry="39.6" fill="url(#rc9)"/>
<ellipse cx="485.3" cy="805.4" rx="37.4" ry="37.7" fill="url(#rc7)"/>
<ellipse cx="579.4" cy="809.6" rx="37.1" ry="38.0" fill="url(#rc6)"/>
<ellipse cx="623.9" cy="806.7" rx="43.4" ry="50.2" fill="url(#rc6)"/>
<ellipse cx="689.1" cy="788.0" rx="37.3" ry="39.3" fill="url(#rc6)"/>
<ellipse cx="730.2" cy="796.7" rx="33.6" ry="38.6" fill="url(#rc6)"/>
<ellipse cx="786.9" cy="802.8" rx="37.8" ry="37.6" fill="url(#rc7)"/>
<ellipse cx="847.2" cy="809.2" rx="41.9" ry="34.7" fill="url(#rc6)"/>
<ellipse cx="903.1" cy="783.1" rx="34.5" ry="29.9" fill="url(#rc5)"/>
<ellipse cx="-24.6" cy="838.6" rx="39.7" ry="37.8" fill="url(#rc5)"/>
<ellipse cx="24.9" cy="839.0" rx="40.9" ry="45.2" fill="url(#rc3)"/>
<ellipse cx="70.6" cy="840.9" rx="36.5" ry="40.6" fill="url(#rc1)"/>
<ellipse cx="152.3" cy="861.4" rx="35.4" ry="39.6" fill="url(#rc6)"/>
<ellipse cx="205.0" cy="846.0" rx="34.5" ry="31.8" fill="url(#rc5)"/>
<ellipse cx="234.9" cy="849.5" rx="42.8" ry="38.4" fill="url(#rc5)"/>
<ellipse cx="298.9" cy="840.5" rx="43.1" ry="49.6" fill="url(#rc5)"/>
<ellipse cx="350.6" cy="853.4" rx="39.0" ry="40.9" fill="url(#rc3)"/>
<ellipse cx="438.8" cy="837.1" rx="34.7" ry="32.6" fill="url(#rc8)"/>
<ellipse cx="482.0" cy="835.9" rx="39.1" ry="40.0" fill="url(#rc5)"/>
<ellipse cx="534.5" cy="861.8" rx="35.7" ry="32.9" fill="url(#rc4)"/>
<ellipse cx="590.0" cy="828.7" rx="39.3" ry="44.9" fill="url(#rc5)"/>
<ellipse cx="653.4" cy="841.6" rx="34.1" ry="34.7" fill="url(#rc6)"/>
<ellipse cx="703.9" cy="845.4" rx="33.8" ry="28.3" fill="url(#rc6)"/>
<ellipse cx="765.3" cy="834.0" rx="40.9" ry="43.9" fill="url(#rc7)"/>
<ellipse cx="823.9" cy="830.2" rx="34.7" ry="28.4" fill="url(#rc8)"/>
<ellipse cx="879.4" cy="833.2" rx="36.2" ry="37.1" fill="url(#rc6)"/>
<ellipse cx="-16.2" cy="903.2" rx="39.6" ry="34.8" fill="url(#rc6)"/>
<ellipse cx="55.1" cy="903.3" rx="34.8" ry="28.4" fill="url(#rc6)"/>
<ellipse cx="121.9" cy="899.3" rx="43.4" ry="36.5" fill="url(#rc6)"/>
<ellipse cx="148.6" cy="881.8" rx="40.7" ry="38.6" fill="url(#rc6)"/>
<ellipse cx="235.3" cy="906.2" rx="34.8" ry="30.6" fill="url(#rc7)"/>
<ellipse cx="290.2" cy="912.8" rx="33.6" ry="36.7" fill="url(#rc6)"/>
<ellipse cx="334.3" cy="877.4" rx="43.5" ry="50.8" fill="url(#rc5)"/>
<ellipse cx="392.4" cy="897.5" rx="36.2" ry="36.1" fill="url(#rc6)"/>
<ellipse cx="428.4" cy="903.8" rx="35.1" ry="32.0" fill="url(#rc6)"/>
<ellipse cx="501.0" cy="877.4" rx="41.8" ry="40.0" fill="url(#rc6)"/>
<ellipse cx="573.2" cy="894.7" rx="34.4" ry="35.4" fill="url(#rc6)"/>
<ellipse cx="597.2" cy="880.4" rx="37.8" ry="40.6" fill="url(#rc6)"/>
<ellipse cx="673.2" cy="883.5" rx="38.3" ry="32.3" fill="url(#rc6)"/>
<ellipse cx="740.0" cy="886.7" rx="42.2" ry="47.4" fill="url(#rc6)"/>
<ellipse cx="794.3" cy="904.3" rx="41.2" ry="44.8" fill="url(#rc5)"/>
<ellipse cx="856.5" cy="901.3" rx="37.1" ry="36.0" fill="url(#rc6)"/>
<ellipse cx="882.6" cy="911.8" rx="33.5" ry="37.1" fill="url(#rc5)"/>
<g filter="url(#fbc)">
<ellipse cx="347" cy="104" rx="45" ry="40" fill="rgb(184,184,184)" fill-opacity="0.45"/>
<ellipse cx="322" cy="188" rx="65" ry="55" fill="rgb(189,189,189)" fill-opacity="0.45"/>
<ellipse cx="193" cy="154" rx="40" ry="35" fill="rgb(173,173,173)" fill-opacity="0.45"/>
<ellipse cx="526" cy="154" rx="40" ry="35" fill="rgb(173,173,173)" fill-opacity="0.45"/>
<ellipse cx="684" cy="149" rx="50" ry="40" fill="rgb(184,184,184)" fill-opacity="0.45"/>
<ellipse cx="545" cy="288" rx="50" ry="45" fill="rgb(204,204,204)" fill-opacity="0.45"/>
<ellipse cx="446" cy="213" rx="35" ry="30" fill="rgb(168,168,168)" fill-opacity="0.45"/>
<ellipse cx="104" cy="238" rx="40" ry="35" fill="rgb(168,168,168)" fill-opacity="0.45"/>
<ellipse cx="40" cy="456" rx="45" ry="50" fill="rgb(189,189,189)" fill-opacity="0.45"/>
<ellipse cx="183" cy="387" rx="38" ry="35" fill="rgb(173,173,173)" fill-opacity="0.45"/>
<ellipse cx="426" cy="501" rx="55" ry="55" fill="rgb(194,194,194)" fill-opacity="0.45"/>
<ellipse cx="248" cy="580" rx="65" ry="70" fill="rgb(194,194,194)" fill-opacity="0.45"/>
<ellipse cx="679" cy="526" rx="48" ry="40" fill="rgb(194,194,194)" fill-opacity="0.45"/>
<ellipse cx="793" cy="288" rx="55" ry="50" fill="rgb(173,173,173)" fill-opacity="0.45"/>
<ellipse cx="793" cy="496" rx="40" ry="40" fill="rgb(168,168,168)" fill-opacity="0.45"/>
<ellipse cx="595" cy="590" rx="40" ry="35" fill="rgb(168,168,168)" fill-opacity="0.45"/>
<ellipse cx="337" cy="655" rx="38" ry="35" fill="rgb(168,168,168)" fill-opacity="0.45"/>
<ellipse cx="744" cy="660" rx="42" ry="40" fill="rgb(173,173,173)" fill-opacity="0.45"/>
<ellipse cx="124" cy="734" rx="45" ry="45" fill="rgb(168,168,168)" fill-opacity="0.45"/>
<ellipse cx="595" cy="665" rx="35" ry="30" fill="rgb(163,163,163)" fill-opacity="0.45"/>
<ellipse cx="496" cy="417" rx="35" ry="30" fill="rgb(163,163,163)" fill-opacity="0.45"/>
<ellipse cx="645" cy="397" rx="35" ry="30" fill="rgb(163,163,163)" fill-opacity="0.45"/>
<ellipse cx="99" cy="317" rx="30" ry="30" fill="rgb(163,163,163)" fill-opacity="0.45"/>
<ellipse cx="347" cy="307" rx="35" ry="30" fill="rgb(166,166,166)" fill-opacity="0.45"/>
<ellipse cx="278" cy="377" rx="30" ry="30" fill="rgb(158,158,158)" fill-opacity="0.45"/>
<ellipse cx="744" cy="397" rx="35" ry="30" fill="rgb(163,163,163)" fill-opacity="0.45"/>
<ellipse cx="818" cy="620" rx="35" ry="40" fill="rgb(163,163,163)" fill-opacity="0.45"/>
<ellipse cx="446" cy="818" rx="40" ry="30" fill="rgb(163,163,163)" fill-opacity="0.45"/>
<ellipse cx="307" cy="793" rx="35" ry="30" fill="rgb(158,158,158)" fill-opacity="0.45"/>
<ellipse cx="793" cy="818" rx="35" ry="30" fill="rgb(158,158,158)" fill-opacity="0.45"/>
<ellipse cx="30" cy="620" rx="30" ry="40" fill="rgb(158,158,158)" fill-opacity="0.45"/>
<ellipse cx="520" cy="719" rx="35" ry="30" fill="rgb(163,163,163)" fill-opacity="0.45"/>
<ellipse cx="174" cy="719" rx="35" ry="30" fill="rgb(158,158,158)" fill-opacity="0.45"/>
<ellipse cx="486" cy="669" rx="30" ry="30" fill="rgb(158,158,158)" fill-opacity="0.45"/>
<ellipse cx="45" cy="178" rx="24" ry="31" fill="rgb(36,36,36)"/>
<ellipse cx="164" cy="298" rx="21" ry="18" fill="rgb(54,54,54)"/>
<ellipse cx="114" cy="427" rx="21" ry="24" fill="rgb(36,36,36)"/>
<ellipse cx="268" cy="461" rx="24" ry="21" fill="rgb(43,43,43)"/>
<ellipse cx="238" cy="377" rx="13" ry="21" fill="rgb(59,59,59)"/>
<ellipse cx="436" cy="397" rx="28" ry="14" fill="rgb(48,48,48)"/>
<ellipse cx="387" cy="580" rx="21" ry="24" fill="rgb(43,43,43)"/>
<ellipse cx="248" cy="719" rx="24" ry="28" fill="rgb(23,23,23)"/>
<ellipse cx="744" cy="337" rx="21" ry="18" fill="rgb(48,48,48)"/>
<ellipse cx="813" cy="188" rx="18" ry="31" fill="rgb(36,36,36)"/>
<ellipse cx="744" cy="461" rx="21" ry="24" fill="rgb(54,54,54)"/>
<ellipse cx="694" cy="590" rx="24" ry="18" fill="rgb(54,54,54)"/>
<ellipse cx="357" cy="50" rx="21" ry="18" fill="rgb(54,54,54)"/>
<ellipse cx="520" cy="585" rx="14" ry="21" fill="rgb(59,59,59)"/>
<ellipse cx="114" cy="660" rx="21" ry="21" fill="rgb(48,48,48)"/>
<ellipse cx="545" cy="347" rx="21" ry="10" fill="rgb(59,59,59)"/>
<ellipse cx="20" cy="20" rx="21" ry="21" fill="rgb(36,36,36)"/>
<ellipse cx="769" cy="60" rx="28" ry="21" fill="rgb(59,59,59)"/>
<ellipse cx="615" cy="456" rx="21" ry="18" fill="rgb(59,59,59)"/>
<ellipse cx="347" cy="843" rx="21" ry="10" fill="rgb(59,59,59)"/>
<ellipse cx="520" cy="848" rx="28" ry="10" fill="rgb(59,59,59)"/>
<ellipse cx="50" cy="843" rx="28" ry="10" fill="rgb(59,59,59)"/>
<ellipse cx="470" cy="50" rx="62" ry="42" fill="rgb(230,230,230)" transform="rotate(-20 470 50)"/>
<ellipse cx="450" cy="25" rx="40" ry="22" fill="rgb(250,250,250)" transform="rotate(-20 450 25)"/>
</g></g>
<rect x="1.9" y="1.9" width="850.2" height="850.2" fill="none" stroke="#111" stroke-width="3.8"/>
</svg>
<text x="129.4" y="1046.5" font-size="61.5">(c)</text>
<text transform="translate(670.5 1043.1) scale(1 1.08)" font-size="61.6" font-weight="bold" fill="#fff">Gr_ZnPR</text>
<rect x="524.1" y="1750.65" width="338.4" height="8.5" fill="#fff"/>
<text transform="translate(586.5 1732.9) scale(1 1.13)" font-size="62" font-weight="bold" fill="#fff" stroke="rgba(70,15,5,0.45)" stroke-width="3" paint-order="stroke">200 nm</text>
<svg x="1062" y="966" width="854" height="854" viewBox="0 0 854 854" overflow="hidden">
<defs><radialGradient id="rd0"><stop offset="0" stop-color="rgb(24,24,24)" stop-opacity="1"/><stop offset="0.45" stop-color="rgb(24,24,24)" stop-opacity="0.85"/><stop offset="1" stop-color="rgb(24,24,24)" stop-opacity="0"/></radialGradient><radialGradient id="rd1"><stop offset="0" stop-color="rgb(37,37,37)" stop-opacity="1"/><stop offset="0.45" stop-color="rgb(37,37,37)" stop-opacity="0.85"/><stop offset="1" stop-color="rgb(37,37,37)" stop-opacity="0"/></radialGradient><radialGradient id="rd2"><stop offset="0" stop-color="rgb(50,50,50)" stop-opacity="1"/><stop offset="0.45" stop-color="rgb(50,50,50)" stop-opacity="0.85"/><stop offset="1" stop-color="rgb(50,50,50)" stop-opacity="0"/></radialGradient><radialGradient id="rd3"><stop offset="0" stop-color="rgb(62,62,62)" stop-opacity="1"/><stop offset="0.45" stop-color="rgb(62,62,62)" stop-opacity="0.85"/><stop offset="1" stop-color="rgb(62,62,62)" stop-opacity="0"/></radialGradient><radialGradient id="rd4"><stop offset="0" stop-color="rgb(75,75,75)" stop-opacity="1"/><stop offset="0.45" stop-color="rgb(75,75,75)" stop-opacity="0.85"/><stop offset="1" stop-color="rgb(75,75,75)" stop-opacity="0"/></radialGradient><radialGradient id="rd5"><stop offset="0" stop-color="rgb(87,87,87)" stop-opacity="1"/><stop offset="0.45" stop-color="rgb(87,87,87)" stop-opacity="0.85"/><stop offset="1" stop-color="rgb(87,87,87)" stop-opacity="0"/></radialGradient><radialGradient id="rd6"><stop offset="0" stop-color="rgb(100,100,100)" stop-opacity="1"/><stop offset="0.45" stop-color="rgb(100,100,100)" stop-opacity="0.85"/><stop offset="1" stop-color="rgb(100,100,100)" stop-opacity="0"/></radialGradient><radialGradient id="rd7"><stop offset="0" stop-color="rgb(112,112,112)" stop-opacity="1"/><stop offset="0.45" stop-color="rgb(112,112,112)" stop-opacity="0.85"/><stop offset="1" stop-color="rgb(112,112,112)" stop-opacity="0"/></radialGradient><radialGradient id="rd8"><stop offset="0" stop-color="rgb(125,125,125)" stop-opacity="1"/><stop offset="0.45" stop-color="rgb(125,125,125)" stop-opacity="0.85"/><stop offset="1" stop-color="rgb(125,125,125)" stop-opacity="0"/></radialGradient><radialGradient id="rd9"><stop offset="0" stop-color="rgb(138,138,138)" stop-opacity="1"/><stop offset="0.45" stop-color="rgb(138,138,138)" stop-opacity="0.85"/><stop offset="1" stop-color="rgb(138,138,138)" stop-opacity="0"/></radialGradient><radialGradient id="rd10"><stop offset="0" stop-color="rgb(150,150,150)" stop-opacity="1"/><stop offset="0.45" stop-color="rgb(150,150,150)" stop-opacity="0.85"/><stop offset="1" stop-color="rgb(150,150,150)" stop-opacity="0"/></radialGradient><radialGradient id="rd11"><stop offset="0" stop-color="rgb(163,163,163)" stop-opacity="1"/><stop offset="0.45" stop-color="rgb(163,163,163)" stop-opacity="0.85"/><stop offset="1" stop-color="rgb(163,163,163)" stop-opacity="0"/></radialGradient><filter id="fbd" x="-50%" y="-50%" width="200%" height="200%" color-interpolation-filters="sRGB"><feGaussianBlur stdDeviation="5"/></filter>
<filter id="fd" filterUnits="userSpaceOnUse" x="-40" y="-40" width="934" height="934" color-interpolation-filters="sRGB">
<feGaussianBlur in="SourceGraphic" stdDeviation="2" result="h"/>
<feTurbulence type="fractalNoise" baseFrequency="0.03" numOctaves="2" seed="11" result="n"/>
<feColorMatrix in="n" type="matrix" values="1 0 0 0 0 1 0 0 0 0 1 0 0 0 0 0 0 0 0 1" result="ng0"/>
<feGaussianBlur in="ng0" stdDeviation="2" result="ng"/>
<feComposite in="h" in2="ng" operator="arithmetic" k1="0" k2="1" k3="0.32" k4="-0.1600" result="hn"/>
<feComponentTransfer in="hn"><feFuncR type="table" tableValues="0.0000 0.0429 0.0990 0.1603 0.2260 0.2930 0.3643 0.4351 0.5046 0.5679 0.6204 0.6703 0.7010 0.7316 0.7588 0.7833 0.8078 0.8293 0.8494 0.8694 0.8897 0.9112 0.9326 0.9453 0.9521 0.9589 0.9657 0.9725 0.9793 0.9848 0.9901 0.9951 1.0000"/><feFuncG type="table" tableValues="0.0000 0.0123 0.0245 0.0368 0.0499 0.0635 0.0813 0.0987 0.1150 0.1331 0.1541 0.1773 0.2172 0.2570 0.3020 0.3510 0.4000 0.4566 0.5168 0.5769 0.6353 0.6843 0.7333 0.7693 0.7965 0.8237 0.8490 0.8735 0.8980 0.9196 0.9406 0.9608 0.9804"/><feFuncB type="table" tableValues="0.0000 0.0123 0.0186 0.0227 0.0271 0.0316 0.0360 0.0415 0.0497 0.0574 0.0644 0.0728 0.0912 0.1096 0.1314 0.1559 0.1804 0.2064 0.2332 0.2599 0.2868 0.3143 0.3419 0.3979 0.4728 0.5477 0.6147 0.6787 0.7427 0.7971 0.8496 0.9000 0.9490"/><feFuncA type="table" tableValues="1 1"/></feComponentTransfer>
</filter></defs>
<g filter="url(#fd)"><rect x="-40" y="-40" width="934" height="934" fill="rgb(64,64,64)"/>
<ellipse cx="-13.1" cy="-14.4" rx="18.1" ry="15.4" fill="url(#rd5)"/>
<ellipse cx="26.9" cy="-25.5" rx="18.7" ry="20.3" fill="url(#rd4)"/>
<ellipse cx="51.9" cy="-21.8" rx="17.8" ry="17.4" fill="url(#rd5)"/>
<ellipse cx="87.2" cy="-17.0" rx="21.3" ry="22.5" fill="url(#rd5)"/>
<ellipse cx="113.9" cy="-14.1" rx="20.6" ry="23.5" fill="url(#rd4)"/>
<ellipse cx="149.7" cy="-9.7" rx="18.8" ry="19.9" fill="url(#rd5)"/>
<ellipse cx="206.7" cy="-6.9" rx="21.0" ry="24.1" fill="url(#rd5)"/>
<ellipse cx="227.3" cy="-26.6" rx="20.3" ry="22.3" fill="url(#rd5)"/>
<ellipse cx="274.6" cy="-27.4" rx="23.1" ry="22.8" fill="url(#rd3)"/>
<ellipse cx="311.8" cy="-10.9" rx="19.6" ry="16.5" fill="url(#rd4)"/>
<ellipse cx="337.7" cy="-20.6" rx="23.2" ry="21.3" fill="url(#rd4)"/>
<ellipse cx="369.6" cy="-15.6" rx="19.4" ry="17.4" fill="url(#rd3)"/>
<ellipse cx="424.9" cy="-16.0" rx="20.4" ry="22.9" fill="url(#rd3)"/>
<ellipse cx="440.2" cy="-27.3" rx="21.6" ry="21.3" fill="url(#rd5)"/>
<ellipse cx="497.8" cy="-23.8" rx="21.9" ry="20.3" fill="url(#rd5)"/>
<ellipse cx="522.7" cy="-29.7" rx="21.6" ry="19.7" fill="url(#rd4)"/>
<ellipse cx="563.4" cy="-5.5" rx="20.0" ry="21.3" fill="url(#rd3)"/>
<ellipse cx="598.2" cy="-26.6" rx="23.2" ry="19.9" fill="url(#rd4)"/>
<ellipse cx="619.1" cy="-28.4" rx="22.5" ry="24.6" fill="url(#rd3)"/>
<ellipse cx="660.5" cy="-28.8" rx="22.8" ry="26.0" fill="url(#rd4)"/>
<ellipse cx="707.0" cy="-13.7" rx="17.5" ry="14.5" fill="url(#rd4)"/>
<ellipse cx="739.9" cy="-9.7" rx="20.0" ry="18.0" fill="url(#rd5)"/>
<ellipse cx="785.4" cy="-18.4" rx="20.6" ry="19.0" fill="url(#rd5)"/>
<ellipse cx="801.1" cy="-13.7" rx="18.7" ry="20.0" fill="url(#rd6)"/>
<ellipse cx="854.2" cy="-16.3" rx="22.6" ry="22.2" fill="url(#rd6)"/>
<ellipse cx="894.0" cy="-11.2" rx="22.2" ry="25.1" fill="url(#rd5)"/>
<ellipse cx="9.4" cy="2.7" rx="19.1" ry="16.5" fill="url(#rd6)"/>
<ellipse cx="28.2" cy="5.9" rx="20.7" ry="18.0" fill="url(#rd6)"/>
<ellipse cx="76.9" cy="1.0" rx="22.5" ry="24.8" fill="url(#rd6)"/>
<ellipse cx="113.6" cy="24.8" rx="18.3" ry="15.2" fill="url(#rd2)"/>
<ellipse cx="131.9" cy="16.5" rx="21.0" ry="24.6" fill="url(#rd3)"/>
<ellipse cx="176.3" cy="19.7" rx="19.4" ry="17.8" fill="url(#rd3)"/>
<ellipse cx="203.9" cy="13.9" rx="17.8" ry="17.5" fill="url(#rd3)"/>
<ellipse cx="250.0" cy="15.9" rx="22.9" ry="20.0" fill="url(#rd4)"/>
<ellipse cx="292.3" cy="13.4" rx="19.4" ry="16.8" fill="url(#rd3)"/>
<ellipse cx="325.4" cy="25.1" rx="19.0" ry="21.8" fill="url(#rd3)"/>
<ellipse cx="356.7" cy="15.1" rx="17.5" ry="20.9" fill="url(#rd3)"/>
<ellipse cx="387.3" cy="20.6" rx="22.5" ry="24.6" fill="url(#rd4)"/>
<ellipse cx="426.4" cy="14.5" rx="20.0" ry="21.0" fill="url(#rd2)"/>
<ellipse cx="472.6" cy="12.4" rx="19.6" ry="21.2" fill="url(#rd3)"/>
<ellipse cx="499.7" cy="25.7" rx="19.7" ry="18.4" fill="url(#rd4)"/>
<ellipse cx="551.0" cy="23.8" rx="18.0" ry="20.2" fill="url(#rd4)"/>
<ellipse cx="579.7" cy="22.2" rx="21.8" ry="17.8" fill="url(#rd4)"/>
<ellipse cx="603.7" cy="21.4" rx="18.7" ry="16.5" fill="url(#rd3)"/>
<ellipse cx="649.3" cy="23.3" rx="18.4" ry="20.9" fill="url(#rd5)"/>
<ellipse cx="696.4" cy="16.6" rx="18.7" ry="18.7" fill="url(#rd5)"/>
<ellipse cx="728.3" cy="12.3" rx="19.6" ry="21.5" fill="url(#rd4)"/>
<ellipse cx="761.2" cy="10.6" rx="21.5" ry="17.8" fill="url(#rd4)"/>
<ellipse cx="786.7" cy="8.2" rx="23.1" ry="26.2" fill="url(#rd5)"/>
<ellipse cx="829.9" cy="24.5" rx="22.0" ry="18.1" fill="url(#rd10)"/>
<ellipse cx="871.1" cy="23.3" rx="20.7" ry="20.3" fill="url(#rd5)"/>
<ellipse cx="-15.6" cy="38.8" rx="19.1" ry="19.3" fill="url(#rd5)"/>
<ellipse cx="17.7" cy="38.1" rx="20.0" ry="17.5" fill="url(#rd8)"/>
<ellipse cx="63.2" cy="49.2" rx="22.6" ry="26.1" fill="url(#rd6)"/>
<ellipse cx="96.3" cy="35.4" rx="20.6" ry="24.5" fill="url(#rd5)"/>
<ellipse cx="137.8" cy="39.6" rx="18.3" ry="15.1" fill="url(#rd2)"/>
<ellipse cx="164.3" cy="49.5" rx="18.4" ry="21.8" fill="url(#rd2)"/>
<ellipse cx="191.4" cy="49.5" rx="17.5" ry="17.3" fill="url(#rd2)"/>
<ellipse cx="235.5" cy="37.6" rx="22.0" ry="22.6" fill="url(#rd2)"/>
<ellipse cx="267.1" cy="56.4" rx="17.7" ry="15.9" fill="url(#rd5)"/>
<ellipse cx="301.1" cy="50.8" rx="21.8" ry="21.0" fill="url(#rd6)"/>
<ellipse cx="346.9" cy="48.7" rx="20.6" ry="21.2" fill="url(#rd4)"/>
<ellipse cx="386.3" cy="38.0" rx="22.6" ry="23.5" fill="url(#rd3)"/>
<ellipse cx="414.9" cy="45.5" rx="20.2" ry="23.9" fill="url(#rd2)"/>
<ellipse cx="440.1" cy="38.9" rx="19.6" ry="23.3" fill="url(#rd3)"/>
<ellipse cx="489.3" cy="55.8" rx="22.2" ry="19.9" fill="url(#rd3)"/>
<ellipse cx="524.5" cy="44.5" rx="17.5" ry="17.8" fill="url(#rd4)"/>
<ellipse cx="562.6" cy="35.2" rx="21.5" ry="18.7" fill="url(#rd2)"/>
<ellipse cx="595.1" cy="54.2" rx="21.9" ry="26.0" fill="url(#rd3)"/>
<ellipse cx="629.9" cy="33.3" rx="21.3" ry="19.1" fill="url(#rd3)"/>
<ellipse cx="668.2" cy="48.5" rx="18.1" ry="18.4" fill="url(#rd4)"/>
<ellipse cx="690.4" cy="46.1" rx="21.5" ry="20.9" fill="url(#rd6)"/>
<ellipse cx="746.4" cy="45.4" rx="22.5" ry="22.3" fill="url(#rd5)"/>
<ellipse cx="777.7" cy="47.7" rx="20.3" ry="22.6" fill="url(#rd5)"/>
<ellipse cx="819.2" cy="53.1" rx="21.3" ry="20.2" fill="url(#rd5)"/>
<ellipse cx="849.1" cy="38.7" rx="22.2" ry="19.7" fill="url(#rd7)"/>
<ellipse cx="891.8" cy="37.8" rx="19.4" ry="19.3" fill="url(#rd5)"/>
<ellipse cx="0.1" cy="72.5" rx="17.7" ry="16.7" fill="url(#rd7)"/>
<ellipse cx="46.8" cy="78.2" rx="22.9" ry="24.1" fill="url(#rd8)"/>
<ellipse cx="75.1" cy="78.7" rx="22.2" ry="21.9" fill="url(#rd7)"/>
<ellipse cx="100.9" cy="70.6" rx="19.9" ry="18.0" fill="url(#rd5)"/>
<ellipse cx="140.2" cy="82.1" rx="20.2" ry="18.0" fill="url(#rd2)"/>
<ellipse cx="189.1" cy="80.7" rx="21.3" ry="17.8" fill="url(#rd3)"/>
<ellipse cx="211.5" cy="63.7" rx="18.6" ry="22.2" fill="url(#rd4)"/>
<ellipse cx="258.3" cy="85.9" rx="20.3" ry="22.5" fill="url(#rd4)"/>
<ellipse cx="286.9" cy="82.6" rx="18.6" ry="16.7" fill="url(#rd5)"/>
<ellipse cx="317.8" cy="66.1" rx="20.7" ry="22.2" fill="url(#rd5)"/>
<ellipse cx="357.3" cy="78.2" rx="19.0" ry="17.8" fill="url(#rd4)"/>
<ellipse cx="401.4" cy="74.8" rx="21.9" ry="22.0" fill="url(#rd2)"/>
<ellipse cx="435.9" cy="74.8" rx="21.0" ry="22.5" fill="url(#rd3)"/>
<ellipse cx="466.9" cy="66.8" rx="21.8" ry="22.0" fill="url(#rd4)"/>
<ellipse cx="500.8" cy="84.7" rx="17.7" ry="14.8" fill="url(#rd3)"/>
<ellipse cx="533.2" cy="75.0" rx="19.0" ry="20.6" fill="url(#rd4)"/>
<ellipse cx="583.6" cy="83.6" rx="18.1" ry="16.1" fill="url(#rd3)"/>
<ellipse cx="622.3" cy="87.4" rx="22.8" ry="22.9" fill="url(#rd3)"/>
<ellipse cx="636.2" cy="75.6" rx="17.7" ry="18.1" fill="url(#rd3)"/>
<ellipse cx="676.0" cy="68.9" rx="20.2" ry="17.8" fill="url(#rd6)"/>
<ellipse cx="730.2" cy="73.4" rx="22.3" ry="21.5" fill="url(#rd6)"/>
<ellipse cx="752.1" cy="84.6" rx="20.9" ry="19.7" fill="url(#rd5)"/>
<ellipse cx="795.8" cy="73.0" rx="22.2" ry="19.1" fill="url(#rd4)"/>
<ellipse cx="834.7" cy="82.8" rx="20.6" ry="22.0" fill="url(#rd5)"/>
<ellipse cx="864.7" cy="78.4" rx="19.6" ry="20.0" fill="url(#rd4)"/>
<ellipse cx="-20.2" cy="101.9" rx="20.0" ry="23.1" fill="url(#rd5)"/>
<ellipse cx="16.4" cy="111.5" rx="19.1" ry="19.1" fill="url(#rd8)"/>
<ellipse cx="49.3" cy="105.3" rx="17.7" ry="18.7" fill="url(#rd8)"/>
<ellipse cx="80.3" cy="110.2" rx="20.6" ry="22.9" fill="url(#rd8)"/>
<ellipse cx="114.0" cy="115.6" rx="22.2" ry="21.2" fill="url(#rd3)"/>
<ellipse cx="165.8" cy="107.8" rx="20.4" ry="17.0" fill="url(#rd3)"/>
<ellipse cx="194.1" cy="102.9" rx="22.3" ry="19.0" fill="url(#rd3)"/>
<ellipse cx="225.0" cy="108.4" rx="22.6" ry="18.8" fill="url(#rd4)"/>
<ellipse cx="275.2" cy="112.1" rx="20.3" ry="16.8" fill="url(#rd4)"/>
<ellipse cx="315.7" cy="96.6" rx="20.6" ry="18.3" fill="url(#rd4)"/>
<ellipse cx="335.7" cy="104.6" rx="21.8" ry="20.2" fill="url(#rd4)"/>
<ellipse cx="372.3" cy="102.3" rx="18.0" ry="20.6" fill="url(#rd4)"/>
<ellipse cx="409.4" cy="110.7" rx="19.3" ry="20.0" fill="url(#rd5)"/>
<ellipse cx="452.1" cy="95.7" rx="22.9" ry="27.1" fill="url(#rd4)"/>
<ellipse cx="484.3" cy="110.7" rx="19.6" ry="18.1" fill="url(#rd4)"/>
<ellipse cx="511.5" cy="116.0" rx="18.0" ry="16.5" fill="url(#rd4)"/>
<ellipse cx="564.7" cy="116.1" rx="17.4" ry="16.2" fill="url(#rd0)"/>
<ellipse cx="597.5" cy="101.9" rx="20.2" ry="23.9" fill="url(#rd3)"/>
<ellipse cx="638.5" cy="108.2" rx="22.9" ry="25.2" fill="url(#rd4)"/>
<ellipse cx="671.2" cy="110.6" rx="22.5" ry="22.3" fill="url(#rd6)"/>
<ellipse cx="713.2" cy="99.2" rx="19.1" ry="17.7" fill="url(#rd8)"/>
<ellipse cx="735.9" cy="105.1" rx="20.6" ry="23.3" fill="url(#rd7)"/>
<ellipse cx="772.8" cy="103.2" rx="18.8" ry="20.2" fill="url(#rd6)"/>
<ellipse cx="810.3" cy="114.3" rx="19.1" ry="20.0" fill="url(#rd4)"/>
<ellipse cx="844.4" cy="103.1" rx="20.3" ry="18.7" fill="url(#rd4)"/>
<ellipse cx="878.1" cy="99.5" rx="18.4" ry="16.5" fill="url(#rd4)"/>
<ellipse cx="-1.7" cy="131.5" rx="21.8" ry="22.8" fill="url(#rd7)"/>
<ellipse cx="46.5" cy="140.1" rx="21.3" ry="21.5" fill="url(#rd10)"/>
<ellipse cx="68.3" cy="145.3" rx="22.6" ry="20.6" fill="url(#rd8)"/>
<ellipse cx="108.9" cy="141.9" rx="22.6" ry="19.4" fill="url(#rd3)"/>
<ellipse cx="156.0" cy="149.0" rx="18.8" ry="19.4" fill="url(#rd3)"/>
<ellipse cx="184.9" cy="128.2" rx="21.9" ry="19.1" fill="url(#rd4)"/>
<ellipse cx="205.9" cy="127.3" rx="19.3" ry="17.8" fill="url(#rd4)"/>
<ellipse cx="248.9" cy="143.6" rx="18.7" ry="17.1" fill="url(#rd2)"/>
<ellipse cx="281.0" cy="150.3" rx="18.8" ry="20.9" fill="url(#rd3)"/>
<ellipse cx="318.8" cy="133.9" rx="20.3" ry="21.8" fill="url(#rd4)"/>
<ellipse cx="351.7" cy="145.1" rx="22.9" ry="18.7" fill="url(#rd5)"/>
<ellipse cx="392.0" cy="148.5" rx="17.8" ry="16.8" fill="url(#rd4)"/>
<ellipse cx="436.6" cy="139.3" rx="23.2" ry="21.3" fill="url(#rd3)"/>
<ellipse cx="463.2" cy="126.7" rx="18.0" ry="16.4" fill="url(#rd4)"/>
<ellipse cx="493.9" cy="141.3" rx="20.6" ry="20.2" fill="url(#rd3)"/>
<ellipse cx="541.7" cy="125.6" rx="22.3" ry="24.9" fill="url(#rd2)"/>
<ellipse cx="575.5" cy="134.5" rx="20.9" ry="24.9" fill="url(#rd2)"/>
<ellipse cx="600.0" cy="129.2" rx="22.9" ry="27.0" fill="url(#rd3)"/>
<ellipse cx="660.1" cy="126.5" rx="22.5" ry="26.4" fill="url(#rd6)"/>
<ellipse cx="682.2" cy="145.1" rx="21.2" ry="21.2" fill="url(#rd7)"/>
<ellipse cx="730.7" cy="140.7" rx="17.8" ry="19.6" fill="url(#rd8)"/>
<ellipse cx="749.1" cy="139.0" rx="19.4" ry="16.7" fill="url(#rd6)"/>
<ellipse cx="781.2" cy="126.0" rx="19.4" ry="21.8" fill="url(#rd5)"/>
<ellipse cx="826.8" cy="129.5" rx="22.3" ry="21.0" fill="url(#rd3)"/>
<ellipse cx="867.7" cy="141.4" rx="20.9" ry="16.8" fill="url(#rd4)"/>
<ellipse cx="-27.3" cy="160.2" rx="20.6" ry="22.2" fill="url(#rd7)"/>
<ellipse cx="7.6" cy="180.1" rx="21.8" ry="25.4" fill="url(#rd8)"/>
<ellipse cx="51.3" cy="170.0" rx="23.1" ry="19.0" fill="url(#rd11)"/>
<ellipse cx="84.2" cy="157.0" rx="20.6" ry="17.5" fill="url(#rd8)"/>
<ellipse cx="113.6" cy="176.1" rx="19.6" ry="17.1" fill="url(#rd4)"/>
<ellipse cx="150.3" cy="163.9" rx="22.5" ry="20.9" fill="url(#rd3)"/>
<ellipse cx="202.4" cy="167.5" rx="18.3" ry="20.3" fill="url(#rd4)"/>
<ellipse cx="227.3" cy="178.8" rx="22.2" ry="21.8" fill="url(#rd2)"/>
<ellipse cx="266.9" cy="175.3" rx="19.4" ry="16.2" fill="url(#rd3)"/>
<ellipse cx="298.6" cy="164.9" rx="21.6" ry="20.0" fill="url(#rd5)"/>
<ellipse cx="347.5" cy="169.2" rx="21.9" ry="20.3" fill="url(#rd8)"/>
<ellipse cx="375.6" cy="180.3" rx="20.7" ry="21.0" fill="url(#rd4)"/>
<ellipse cx="417.6" cy="162.2" rx="18.6" ry="17.3" fill="url(#rd3)"/>
<ellipse cx="441.5" cy="171.9" rx="21.0" ry="19.0" fill="url(#rd5)"/>
<ellipse cx="497.6" cy="175.8" rx="21.2" ry="18.3" fill="url(#rd4)"/>
<ellipse cx="511.8" cy="158.3" rx="21.6" ry="17.8" fill="url(#rd2)"/>
<ellipse cx="549.2" cy="172.4" rx="19.4" ry="22.0" fill="url(#rd3)"/>
<ellipse cx="583.6" cy="174.2" rx="21.8" ry="22.5" fill="url(#rd1)"/>
<ellipse cx="639.1" cy="169.7" rx="21.6" ry="22.5" fill="url(#rd4)"/>
<ellipse cx="671.0" cy="177.3" rx="18.6" ry="19.7" fill="url(#rd8)"/>
<ellipse cx="701.8" cy="172.5" rx="18.1" ry="21.5" fill="url(#rd11)"/>
<ellipse cx="749.1" cy="171.1" rx="19.6" ry="20.6" fill="url(#rd6)"/>
<ellipse cx="771.6" cy="176.4" rx="17.7" ry="14.5" fill="url(#rd3)"/>
<ellipse cx="809.2" cy="162.9" rx="17.5" ry="17.8" fill="url(#rd5)"/>
<ellipse cx="848.7" cy="159.6" rx="21.5" ry="21.6" fill="url(#rd5)"/>
<ellipse cx="871.5" cy="179.9" rx="19.9" ry="23.8" fill="url(#rd4)"/>
<ellipse cx="-10.0" cy="202.3" rx="17.4" ry="17.8" fill="url(#rd7)"/>
<ellipse cx="39.2" cy="189.0" rx="20.7" ry="16.7" fill="url(#rd10)"/>
<ellipse cx="65.7" cy="199.3" rx="21.8" ry="18.6" fill="url(#rd10)"/>
<ellipse cx="100.5" cy="204.4" rx="22.8" ry="20.3" fill="url(#rd6)"/>
<ellipse cx="136.9" cy="210.4" rx="23.1" ry="20.4" fill="url(#rd3)"/>
<ellipse cx="186.6" cy="210.5" rx="23.2" ry="24.8" fill="url(#rd5)"/>
<ellipse cx="205.4" cy="202.3" rx="20.3" ry="22.6" fill="url(#rd3)"/>
<ellipse cx="260.5" cy="204.9" rx="22.3" ry="25.5" fill="url(#rd3)"/>
<ellipse cx="281.0" cy="212.8" rx="20.6" ry="19.1" fill="url(#rd4)"/>
<ellipse cx="316.5" cy="192.6" rx="23.2" ry="18.6" fill="url(#rd5)"/>
<ellipse cx="366.8" cy="188.1" rx="17.7" ry="14.6" fill="url(#rd5)"/>
<ellipse cx="386.8" cy="197.7" rx="21.3" ry="21.3" fill="url(#rd3)"/>
<ellipse cx="436.8" cy="198.8" rx="18.4" ry="21.3" fill="url(#rd6)"/>
<ellipse cx="475.5" cy="202.3" rx="23.2" ry="21.2" fill="url(#rd5)"/>
<ellipse cx="506.8" cy="196.1" rx="22.9" ry="26.8" fill="url(#rd4)"/>
<ellipse cx="551.3" cy="208.2" rx="19.7" ry="19.6" fill="url(#rd2)"/>
<ellipse cx="569.8" cy="195.0" rx="18.6" ry="17.1" fill="url(#rd2)"/>
<ellipse cx="607.5" cy="208.2" rx="19.0" ry="19.0" fill="url(#rd2)"/>
<ellipse cx="646.0" cy="205.2" rx="22.8" ry="20.3" fill="url(#rd5)"/>
<ellipse cx="684.3" cy="202.0" rx="18.3" ry="18.3" fill="url(#rd9)"/>
<ellipse cx="710.8" cy="206.7" rx="21.8" ry="22.3" fill="url(#rd11)"/>
<ellipse cx="751.3" cy="192.5" rx="20.2" ry="20.2" fill="url(#rd7)"/>
<ellipse cx="795.7" cy="199.3" rx="23.2" ry="25.7" fill="url(#rd4)"/>
<ellipse cx="828.6" cy="207.5" rx="18.4" ry="21.9" fill="url(#rd5)"/>
<ellipse cx="856.0" cy="211.6" rx="18.1" ry="20.9" fill="url(#rd3)"/>
<ellipse cx="-5.6" cy="237.7" rx="18.3" ry="15.8" fill="url(#rd7)"/>
<ellipse cx="7.2" cy="240.4" rx="20.0" ry="23.5" fill="url(#rd7)"/>
<ellipse cx="41.5" cy="225.7" rx="21.8" ry="21.9" fill="url(#rd9)"/>
<ellipse cx="87.7" cy="241.3" rx="18.8" ry="17.1" fill="url(#rd7)"/>
<ellipse cx="122.0" cy="228.8" rx="21.3" ry="20.9" fill="url(#rd4)"/>
<ellipse cx="155.9" cy="230.7" rx="17.8" ry="21.2" fill="url(#rd4)"/>
<ellipse cx="195.9" cy="230.1" rx="21.8" ry="21.8" fill="url(#rd4)"/>
<ellipse cx="229.0" cy="227.2" rx="19.3" ry="22.6" fill="url(#rd4)"/>
<ellipse cx="259.1" cy="221.6" rx="17.8" ry="16.1" fill="url(#rd3)"/>
<ellipse cx="299.6" cy="236.8" rx="19.7" ry="21.0" fill="url(#rd5)"/>
<ellipse cx="329.5" cy="235.1" rx="19.9" ry="17.7" fill="url(#rd3)"/>
<ellipse cx="369.5" cy="219.4" rx="21.6" ry="18.4" fill="url(#rd4)"/>
<ellipse cx="420.5" cy="241.5" rx="22.2" ry="23.5" fill="url(#rd6)"/>
<ellipse cx="454.4" cy="226.5" rx="19.3" ry="19.3" fill="url(#rd5)"/>
<ellipse cx="492.9" cy="235.0" rx="18.0" ry="17.3" fill="url(#rd4)"/>
<ellipse cx="518.8" cy="229.5" rx="20.3" ry="23.5" fill="url(#rd3)"/>
<ellipse cx="568.4" cy="237.8" rx="18.1" ry="18.1" fill="url(#rd2)"/>
<ellipse cx="592.2" cy="238.5" rx="17.7" ry="15.7" fill="url(#rd1)"/>
<ellipse cx="630.8" cy="232.0" rx="19.6" ry="21.6" fill="url(#rd4)"/>
<ellipse cx="657.6" cy="231.4" rx="23.1" ry="27.0" fill="url(#rd7)"/>
<ellipse cx="692.7" cy="220.5" rx="20.6" ry="24.4" fill="url(#rd10)"/>
<ellipse cx="726.1" cy="227.1" rx="17.5" ry="19.1" fill="url(#rd9)"/>
<ellipse cx="772.4" cy="222.3" rx="22.2" ry="21.6" fill="url(#rd5)"/>
<ellipse cx="806.4" cy="220.6" rx="18.7" ry="17.3" fill="url(#rd5)"/>
<ellipse cx="845.7" cy="229.4" rx="21.9" ry="24.4" fill="url(#rd4)"/>
<ellipse cx="885.6" cy="239.7" rx="19.6" ry="19.6" fill="url(#rd4)"/>
<ellipse cx="-8.8" cy="255.1" rx="19.0" ry="16.2" fill="url(#rd7)"/>
<ellipse cx="23.8" cy="260.8" rx="22.5" ry="18.1" fill="url(#rd7)"/>
<ellipse cx="78.7" cy="264.7" rx="20.6" ry="16.5" fill="url(#rd7)"/>
<ellipse cx="109.7" cy="265.0" rx="19.9" ry="23.2" fill="url(#rd4)"/>
<ellipse cx="139.5" cy="261.7" rx="22.2" ry="20.2" fill="url(#rd4)"/>
<ellipse cx="173.7" cy="266.7" rx="21.8" ry="21.0" fill="url(#rd5)"/>
<ellipse cx="209.6" cy="272.2" rx="22.8" ry="23.8" fill="url(#rd4)"/>
<ellipse cx="243.5" cy="263.2" rx="22.9" ry="18.4" fill="url(#rd5)"/>
<ellipse cx="286.3" cy="256.4" rx="18.1" ry="17.1" fill="url(#rd3)"/>
<ellipse cx="320.7" cy="261.2" rx="21.8" ry="18.0" fill="url(#rd4)"/>
<ellipse cx="364.7" cy="254.1" rx="18.1" ry="15.4" fill="url(#rd2)"/>
<ellipse cx="390.0" cy="262.1" rx="19.3" ry="18.4" fill="url(#rd4)"/>
<ellipse cx="438.6" cy="273.2" rx="17.7" ry="15.9" fill="url(#rd5)"/>
<ellipse cx="470.2" cy="258.8" rx="22.2" ry="18.6" fill="url(#rd5)"/>
<ellipse cx="503.0" cy="258.2" rx="20.9" ry="23.3" fill="url(#rd8)"/>
<ellipse cx="549.0" cy="262.2" rx="22.0" ry="21.0" fill="url(#rd2)"/>
<ellipse cx="578.0" cy="269.2" rx="18.7" ry="21.6" fill="url(#rd3)"/>
<ellipse cx="614.0" cy="252.0" rx="21.5" ry="19.6" fill="url(#rd3)"/>
<ellipse cx="650.9" cy="251.4" rx="18.3" ry="20.6" fill="url(#rd6)"/>
<ellipse cx="684.6" cy="269.7" rx="18.3" ry="19.1" fill="url(#rd8)"/>
<ellipse cx="728.6" cy="253.3" rx="21.6" ry="22.6" fill="url(#rd8)"/>
<ellipse cx="761.2" cy="261.7" rx="19.0" ry="16.1" fill="url(#rd6)"/>
<ellipse cx="783.9" cy="267.5" rx="19.1" ry="21.6" fill="url(#rd6)"/>
<ellipse cx="831.0" cy="264.7" rx="18.1" ry="19.6" fill="url(#rd5)"/>
<ellipse cx="869.5" cy="252.3" rx="18.1" ry="17.3" fill="url(#rd4)"/>
<ellipse cx="-20.7" cy="294.4" rx="22.2" ry="20.4" fill="url(#rd5)"/>
<ellipse cx="26.2" cy="294.8" rx="18.0" ry="19.4" fill="url(#rd7)"/>
<ellipse cx="52.3" cy="292.4" rx="22.2" ry="25.1" fill="url(#rd5)"/>
<ellipse cx="96.8" cy="286.4" rx="21.0" ry="24.8" fill="url(#rd4)"/>
<ellipse cx="122.9" cy="303.0" rx="22.3" ry="26.8" fill="url(#rd4)"/>
<ellipse cx="156.5" cy="281.2" rx="22.6" ry="23.3" fill="url(#rd3)"/>
<ellipse cx="208.1" cy="285.3" rx="18.0" ry="17.1" fill="url(#rd3)"/>
<ellipse cx="225.0" cy="285.9" rx="17.4" ry="16.5" fill="url(#rd4)"/>
<ellipse cx="276.9" cy="291.5" rx="20.9" ry="22.6" fill="url(#rd3)"/>
<ellipse cx="309.6" cy="296.0" rx="22.5" ry="24.6" fill="url(#rd3)"/>
<ellipse cx="345.0" cy="286.6" rx="22.0" ry="23.2" fill="url(#rd4)"/>
<ellipse cx="374.9" cy="304.7" rx="22.5" ry="24.6" fill="url(#rd5)"/>
<ellipse cx="406.0" cy="298.0" rx="19.7" ry="20.4" fill="url(#rd4)"/>
<ellipse cx="462.1" cy="292.6" rx="21.3" ry="19.1" fill="url(#rd5)"/>
<ellipse cx="474.4" cy="302.9" rx="19.0" ry="16.7" fill="url(#rd5)"/>
<ellipse cx="520.9" cy="300.2" rx="20.6" ry="18.4" fill="url(#rd5)"/>
<ellipse cx="552.3" cy="300.7" rx="22.3" ry="19.4" fill="url(#rd3)"/>
<ellipse cx="601.1" cy="288.9" rx="20.0" ry="21.6" fill="url(#rd3)"/>
<ellipse cx="624.8" cy="283.7" rx="19.7" ry="22.0" fill="url(#rd3)"/>
<ellipse cx="674.2" cy="302.0" rx="19.9" ry="21.9" fill="url(#rd6)"/>
<ellipse cx="706.0" cy="286.6" rx="22.3" ry="23.9" fill="url(#rd11)"/>
<ellipse cx="730.4" cy="291.3" rx="22.8" ry="27.0" fill="url(#rd7)"/>
<ellipse cx="767.6" cy="298.3" rx="22.3" ry="24.6" fill="url(#rd6)"/>
<ellipse cx="802.0" cy="299.9" rx="18.8" ry="18.3" fill="url(#rd5)"/>
<ellipse cx="841.7" cy="306.3" rx="17.8" ry="19.4" fill="url(#rd3)"/>
<ellipse cx="884.9" cy="289.9" rx="21.0" ry="22.0" fill="url(#rd4)"/>
<ellipse cx="-2.3" cy="335.3" rx="18.3" ry="21.2" fill="url(#rd5)"/>
<ellipse cx="25.8" cy="325.5" rx="20.3" ry="16.7" fill="url(#rd5)"/>
<ellipse cx="65.7" cy="326.0" rx="19.7" ry="19.9" fill="url(#rd4)"/>
<ellipse cx="114.3" cy="326.2" rx="18.4" ry="16.4" fill="url(#rd2)"/>
<ellipse cx="131.5" cy="326.9" rx="21.0" ry="20.3" fill="url(#rd4)"/>
<ellipse cx="180.2" cy="336.1" rx="21.5" ry="22.8" fill="url(#rd4)"/>
<ellipse cx="203.6" cy="330.6" rx="18.0" ry="16.5" fill="url(#rd4)"/>
<ellipse cx="254.6" cy="313.7" rx="20.2" ry="19.3" fill="url(#rd4)"/>
<ellipse cx="294.3" cy="330.8" rx="20.3" ry="21.3" fill="url(#rd4)"/>
<ellipse cx="323.3" cy="317.2" rx="20.6" ry="19.6" fill="url(#rd4)"/>
<ellipse cx="354.4" cy="324.9" rx="18.6" ry="17.0" fill="url(#rd4)"/>
<ellipse cx="391.5" cy="318.0" rx="18.8" ry="20.7" fill="url(#rd5)"/>
<ellipse cx="430.4" cy="334.1" rx="20.6" ry="21.9" fill="url(#rd3)"/>
<ellipse cx="466.0" cy="327.9" rx="19.9" ry="19.0" fill="url(#rd6)"/>
<ellipse cx="506.0" cy="326.9" rx="20.0" ry="17.7" fill="url(#rd3)"/>
<ellipse cx="545.1" cy="321.9" rx="18.0" ry="17.1" fill="url(#rd2)"/>
<ellipse cx="586.2" cy="325.1" rx="22.6" ry="23.5" fill="url(#rd4)"/>
<ellipse cx="614.7" cy="315.5" rx="20.6" ry="16.8" fill="url(#rd4)"/>
<ellipse cx="640.1" cy="316.9" rx="20.0" ry="20.9" fill="url(#rd4)"/>
<ellipse cx="694.1" cy="337.0" rx="18.0" ry="17.1" fill="url(#rd3)"/>
<ellipse cx="707.9" cy="325.1" rx="20.2" ry="20.3" fill="url(#rd5)"/>
<ellipse cx="759.0" cy="328.5" rx="22.2" ry="24.8" fill="url(#rd6)"/>
<ellipse cx="786.2" cy="318.6" rx="22.9" ry="22.2" fill="url(#rd5)"/>
<ellipse cx="826.7" cy="330.5" rx="22.0" ry="26.1" fill="url(#rd5)"/>
<ellipse cx="875.1" cy="320.3" rx="18.3" ry="15.5" fill="url(#rd3)"/>
<ellipse cx="-17.3" cy="355.4" rx="19.6" ry="22.2" fill="url(#rd4)"/>
<ellipse cx="9.6" cy="348.1" rx="20.2" ry="23.1" fill="url(#rd4)"/>
<ellipse cx="51.8" cy="356.9" rx="22.3" ry="22.2" fill="url(#rd5)"/>
<ellipse cx="84.6" cy="344.9" rx="18.6" ry="22.0" fill="url(#rd3)"/>
<ellipse cx="123.9" cy="351.9" rx="17.4" ry="14.2" fill="url(#rd3)"/>
<ellipse cx="150.1" cy="365.3" rx="18.1" ry="16.5" fill="url(#rd3)"/>
<ellipse cx="195.8" cy="354.7" rx="20.3" ry="17.7" fill="url(#rd4)"/>
<ellipse cx="240.7" cy="359.5" rx="22.3" ry="25.4" fill="url(#rd3)"/>
<ellipse cx="259.3" cy="360.5" rx="18.8" ry="20.9" fill="url(#rd4)"/>
<ellipse cx="316.9" cy="344.3" rx="17.5" ry="18.4" fill="url(#rd4)"/>
<ellipse cx="338.2" cy="365.5" rx="21.8" ry="21.8" fill="url(#rd3)"/>
<ellipse cx="385.8" cy="349.6" rx="22.6" ry="19.9" fill="url(#rd4)"/>
<ellipse cx="404.6" cy="360.2" rx="21.6" ry="19.7" fill="url(#rd3)"/>
<ellipse cx="442.3" cy="352.0" rx="20.4" ry="23.9" fill="url(#rd4)"/>
<ellipse cx="486.5" cy="353.7" rx="19.9" ry="18.8" fill="url(#rd6)"/>
<ellipse cx="511.2" cy="352.6" rx="20.4" ry="21.2" fill="url(#rd4)"/>
<ellipse cx="550.9" cy="366.0" rx="20.6" ry="17.4" fill="url(#rd3)"/>
<ellipse cx="595.5" cy="344.4" rx="18.7" ry="21.5" fill="url(#rd4)"/>
<ellipse cx="625.1" cy="349.4" rx="20.6" ry="22.3" fill="url(#rd5)"/>
<ellipse cx="676.9" cy="351.9" rx="21.0" ry="18.1" fill="url(#rd4)"/>
<ellipse cx="703.6" cy="356.3" rx="21.5" ry="20.7" fill="url(#rd3)"/>
<ellipse cx="739.1" cy="349.9" rx="17.5" ry="20.0" fill="url(#rd5)"/>
<ellipse cx="774.4" cy="352.5" rx="22.0" ry="19.9" fill="url(#rd5)"/>
<ellipse cx="820.8" cy="366.3" rx="20.4" ry="18.4" fill="url(#rd3)"/>
<ellipse cx="844.4" cy="359.8" rx="17.8" ry="20.6" fill="url(#rd3)"/>
<ellipse cx="877.2" cy="359.7" rx="18.8" ry="20.7" fill="url(#rd5)"/>
<ellipse cx="6.8" cy="397.7" rx="21.3" ry="23.5" fill="url(#rd4)"/>
<ellipse cx="34.0" cy="398.9" rx="20.4" ry="18.1" fill="url(#rd5)"/>
<ellipse cx="67.9" cy="375.8" rx="17.8" ry="20.3" fill="url(#rd5)"/>
<ellipse cx="106.7" cy="388.8" rx="18.8" ry="17.8" fill="url(#rd4)"/>
<ellipse cx="142.4" cy="394.2" rx="19.3" ry="18.1" fill="url(#rd5)"/>
<ellipse cx="187.2" cy="392.7" rx="21.9" ry="21.9" fill="url(#rd3)"/>
<ellipse cx="210.9" cy="378.4" rx="21.3" ry="24.8" fill="url(#rd4)"/>
<ellipse cx="248.6" cy="377.0" rx="20.0" ry="22.3" fill="url(#rd3)"/>
<ellipse cx="294.0" cy="398.2" rx="20.6" ry="19.9" fill="url(#rd3)"/>
<ellipse cx="320.7" cy="398.2" rx="22.2" ry="21.8" fill="url(#rd3)"/>
<ellipse cx="364.5" cy="397.4" rx="19.0" ry="19.6" fill="url(#rd4)"/>
<ellipse cx="407.1" cy="387.2" rx="19.1" ry="18.1" fill="url(#rd3)"/>
<ellipse cx="443.1" cy="399.6" rx="18.1" ry="18.4" fill="url(#rd4)"/>
<ellipse cx="457.7" cy="389.7" rx="22.8" ry="22.0" fill="url(#rd4)"/>
<ellipse cx="496.8" cy="395.4" rx="22.8" ry="24.5" fill="url(#rd2)"/>
<ellipse cx="538.3" cy="388.7" rx="21.6" ry="23.1" fill="url(#rd3)"/>
<ellipse cx="568.0" cy="376.1" rx="18.4" ry="20.3" fill="url(#rd3)"/>
<ellipse cx="623.7" cy="392.3" rx="19.6" ry="21.0" fill="url(#rd7)"/>
<ellipse cx="637.8" cy="397.4" rx="22.6" ry="26.8" fill="url(#rd4)"/>
<ellipse cx="688.1" cy="378.3" rx="19.9" ry="19.3" fill="url(#rd2)"/>
<ellipse cx="716.4" cy="380.5" rx="21.8" ry="20.6" fill="url(#rd4)"/>
<ellipse cx="761.3" cy="392.2" rx="22.8" ry="21.8" fill="url(#rd3)"/>
<ellipse cx="794.5" cy="398.8" rx="20.7" ry="17.1" fill="url(#rd4)"/>
<ellipse cx="820.9" cy="375.8" rx="19.6" ry="23.1" fill="url(#rd3)"/>
<ellipse cx="864.5" cy="392.2" rx="23.1" ry="27.3" fill="url(#rd3)"/>
<ellipse cx="-26.9" cy="412.7" rx="18.8" ry="21.9" fill="url(#rd4)"/>
<ellipse cx="19.1" cy="426.2" rx="20.2" ry="21.9" fill="url(#rd5)"/>
<ellipse cx="65.2" cy="421.3" rx="22.5" ry="24.5" fill="url(#rd3)"/>
<ellipse cx="102.3" cy="429.0" rx="19.6" ry="20.4" fill="url(#rd5)"/>
<ellipse cx="132.1" cy="421.5" rx="18.6" ry="21.6" fill="url(#rd3)"/>
<ellipse cx="170.8" cy="410.3" rx="21.8" ry="24.6" fill="url(#rd5)"/>
<ellipse cx="208.1" cy="416.0" rx="21.3" ry="18.8" fill="url(#rd4)"/>
<ellipse cx="232.6" cy="414.8" rx="20.0" ry="19.3" fill="url(#rd4)"/>
<ellipse cx="263.6" cy="411.9" rx="20.0" ry="19.6" fill="url(#rd5)"/>
<ellipse cx="308.7" cy="429.6" rx="22.9" ry="20.0" fill="url(#rd5)"/>
<ellipse cx="349.6" cy="431.0" rx="18.4" ry="20.6" fill="url(#rd3)"/>
<ellipse cx="388.0" cy="409.4" rx="22.3" ry="22.5" fill="url(#rd3)"/>
<ellipse cx="426.0" cy="407.5" rx="17.4" ry="18.7" fill="url(#rd5)"/>
<ellipse cx="457.6" cy="414.6" rx="18.7" ry="19.9" fill="url(#rd4)"/>
<ellipse cx="489.5" cy="415.7" rx="18.1" ry="14.6" fill="url(#rd3)"/>
<ellipse cx="528.6" cy="415.6" rx="20.2" ry="20.6" fill="url(#rd3)"/>
<ellipse cx="562.9" cy="407.5" rx="22.2" ry="23.6" fill="url(#rd4)"/>
<ellipse cx="597.3" cy="417.0" rx="21.6" ry="22.2" fill="url(#rd4)"/>
<ellipse cx="620.2" cy="427.0" rx="22.3" ry="21.6" fill="url(#rd4)"/>
<ellipse cx="657.1" cy="416.7" rx="22.9" ry="24.9" fill="url(#rd3)"/>
<ellipse cx="697.5" cy="428.0" rx="19.1" ry="19.7" fill="url(#rd5)"/>
<ellipse cx="727.7" cy="411.0" rx="21.3" ry="18.8" fill="url(#rd3)"/>
<ellipse cx="783.8" cy="430.4" rx="18.3" ry="19.4" fill="url(#rd4)"/>
<ellipse cx="811.5" cy="417.1" rx="17.8" ry="21.0" fill="url(#rd5)"/>
<ellipse cx="844.0" cy="407.9" rx="19.1" ry="17.5" fill="url(#rd5)"/>
<ellipse cx="886.6" cy="411.6" rx="22.3" ry="23.3" fill="url(#rd4)"/>
<ellipse cx="6.8" cy="450.1" rx="21.2" ry="19.1" fill="url(#rd3)"/>
<ellipse cx="47.2" cy="456.6" rx="23.1" ry="26.5" fill="url(#rd4)"/>
<ellipse cx="81.2" cy="458.9" rx="18.0" ry="18.8" fill="url(#rd4)"/>
<ellipse cx="98.0" cy="440.5" rx="18.4" ry="18.4" fill="url(#rd4)"/>
<ellipse cx="131.8" cy="453.4" rx="21.0" ry="16.8" fill="url(#rd4)"/>
<ellipse cx="172.2" cy="458.0" rx="17.8" ry="20.2" fill="url(#rd1)"/>
<ellipse cx="205.2" cy="443.4" rx="22.0" ry="23.9" fill="url(#rd3)"/>
<ellipse cx="261.3" cy="441.3" rx="22.3" ry="25.1" fill="url(#rd4)"/>
<ellipse cx="276.1" cy="459.0" rx="18.4" ry="15.7" fill="url(#rd4)"/>
<ellipse cx="317.0" cy="438.7" rx="22.5" ry="23.9" fill="url(#rd3)"/>
<ellipse cx="349.5" cy="449.6" rx="22.9" ry="19.7" fill="url(#rd5)"/>
<ellipse cx="396.3" cy="444.1" rx="20.3" ry="21.9" fill="url(#rd4)"/>
<ellipse cx="439.2" cy="446.0" rx="19.9" ry="22.5" fill="url(#rd4)"/>
<ellipse cx="467.2" cy="452.5" rx="21.0" ry="18.6" fill="url(#rd4)"/>
<ellipse cx="515.2" cy="453.9" rx="21.6" ry="19.7" fill="url(#rd5)"/>
<ellipse cx="533.0" cy="449.6" rx="17.5" ry="20.3" fill="url(#rd4)"/>
<ellipse cx="570.8" cy="441.6" rx="20.9" ry="22.0" fill="url(#rd5)"/>
<ellipse cx="616.2" cy="442.0" rx="18.8" ry="16.8" fill="url(#rd3)"/>
<ellipse cx="652.3" cy="459.2" rx="22.5" ry="21.6" fill="url(#rd2)"/>
<ellipse cx="673.4" cy="438.3" rx="23.2" ry="26.2" fill="url(#rd3)"/>
<ellipse cx="725.6" cy="454.6" rx="17.4" ry="15.4" fill="url(#rd4)"/>
<ellipse cx="760.2" cy="440.3" rx="19.0" ry="16.5" fill="url(#rd5)"/>
<ellipse cx="786.1" cy="448.2" rx="22.3" ry="20.2" fill="url(#rd4)"/>
<ellipse cx="823.3" cy="451.3" rx="23.1" ry="21.9" fill="url(#rd8)"/>
<ellipse cx="857.3" cy="442.1" rx="22.0" ry="22.5" fill="url(#rd5)"/>
<ellipse cx="-29.9" cy="480.6" rx="22.3" ry="25.1" fill="url(#rd3)"/>
<ellipse cx="9.1" cy="491.8" rx="21.6" ry="21.6" fill="url(#rd5)"/>
<ellipse cx="48.3" cy="477.1" rx="23.1" ry="22.6" fill="url(#rd4)"/>
<ellipse cx="98.8" cy="474.5" rx="18.8" ry="16.5" fill="url(#rd5)"/>
<ellipse cx="121.5" cy="480.6" rx="19.3" ry="22.8" fill="url(#rd4)"/>
<ellipse cx="152.3" cy="477.4" rx="17.5" ry="15.1" fill="url(#rd4)"/>
<ellipse cx="203.4" cy="492.8" rx="22.9" ry="27.0" fill="url(#rd3)"/>
<ellipse cx="230.5" cy="472.0" rx="22.6" ry="25.7" fill="url(#rd4)"/>
<ellipse cx="275.7" cy="490.2" rx="22.5" ry="26.8" fill="url(#rd4)"/>
<ellipse cx="316.4" cy="472.5" rx="18.7" ry="16.1" fill="url(#rd4)"/>
<ellipse cx="340.4" cy="486.4" rx="19.1" ry="19.0" fill="url(#rd4)"/>
<ellipse cx="385.0" cy="484.4" rx="20.9" ry="21.2" fill="url(#rd4)"/>
<ellipse cx="425.8" cy="472.6" rx="19.6" ry="21.5" fill="url(#rd3)"/>
<ellipse cx="461.5" cy="488.1" rx="19.9" ry="19.7" fill="url(#rd4)"/>
<ellipse cx="487.4" cy="488.6" rx="21.3" ry="17.8" fill="url(#rd4)"/>
<ellipse cx="531.3" cy="492.8" rx="20.3" ry="18.3" fill="url(#rd4)"/>
<ellipse cx="546.2" cy="490.9" rx="17.5" ry="14.5" fill="url(#rd4)"/>
<ellipse cx="601.0" cy="470.2" rx="22.0" ry="25.7" fill="url(#rd3)"/>
<ellipse cx="618.6" cy="487.1" rx="19.1" ry="16.7" fill="url(#rd4)"/>
<ellipse cx="663.9" cy="478.7" rx="17.8" ry="15.8" fill="url(#rd3)"/>
<ellipse cx="701.4" cy="491.4" rx="21.6" ry="21.6" fill="url(#rd4)"/>
<ellipse cx="748.7" cy="476.2" rx="19.7" ry="18.6" fill="url(#rd2)"/>
<ellipse cx="774.0" cy="475.7" rx="19.0" ry="20.6" fill="url(#rd3)"/>
<ellipse cx="800.4" cy="469.8" rx="22.3" ry="24.8" fill="url(#rd6)"/>
<ellipse cx="855.1" cy="476.5" rx="21.5" ry="23.5" fill="url(#rd5)"/>
<ellipse cx="886.0" cy="473.8" rx="20.9" ry="16.7" fill="url(#rd5)"/>
<ellipse cx="1.4" cy="520.6" rx="22.3" ry="19.7" fill="url(#rd3)"/>
<ellipse cx="38.8" cy="521.2" rx="17.5" ry="16.1" fill="url(#rd3)"/>
<ellipse cx="83.1" cy="505.7" rx="22.6" ry="18.3" fill="url(#rd4)"/>
<ellipse cx="104.4" cy="499.6" rx="22.0" ry="25.4" fill="url(#rd4)"/>
<ellipse cx="144.0" cy="504.0" rx="18.7" ry="21.9" fill="url(#rd4)"/>
<ellipse cx="175.0" cy="523.8" rx="20.2" ry="18.6" fill="url(#rd3)"/>
<ellipse cx="225.1" cy="502.4" rx="19.4" ry="19.1" fill="url(#rd5)"/>
<ellipse cx="249.1" cy="515.9" rx="20.0" ry="21.6" fill="url(#rd3)"/>
<ellipse cx="275.6" cy="518.4" rx="21.3" ry="20.7" fill="url(#rd4)"/>
<ellipse cx="311.7" cy="519.0" rx="18.4" ry="21.9" fill="url(#rd5)"/>
<ellipse cx="355.5" cy="506.5" rx="20.3" ry="22.0" fill="url(#rd3)"/>
<ellipse cx="396.7" cy="521.0" rx="20.9" ry="21.5" fill="url(#rd6)"/>
<ellipse cx="420.5" cy="500.1" rx="22.8" ry="25.1" fill="url(#rd5)"/>
<ellipse cx="478.2" cy="506.4" rx="23.2" ry="20.4" fill="url(#rd3)"/>
<ellipse cx="512.5" cy="520.6" rx="19.1" ry="18.8" fill="url(#rd4)"/>
<ellipse cx="529.6" cy="500.2" rx="22.8" ry="21.0" fill="url(#rd3)"/>
<ellipse cx="569.9" cy="503.7" rx="22.8" ry="26.4" fill="url(#rd4)"/>
<ellipse cx="622.4" cy="501.0" rx="22.5" ry="24.1" fill="url(#rd5)"/>
<ellipse cx="657.6" cy="517.6" rx="22.8" ry="22.2" fill="url(#rd4)"/>
<ellipse cx="694.2" cy="521.5" rx="21.5" ry="24.5" fill="url(#rd4)"/>
<ellipse cx="719.8" cy="503.7" rx="20.4" ry="17.4" fill="url(#rd4)"/>
<ellipse cx="757.0" cy="501.5" rx="21.3" ry="22.5" fill="url(#rd0)"/>
<ellipse cx="802.0" cy="506.8" rx="20.3" ry="20.6" fill="url(#rd3)"/>
<ellipse cx="823.2" cy="513.1" rx="22.3" ry="24.4" fill="url(#rd3)"/>
<ellipse cx="867.8" cy="516.3" rx="22.3" ry="25.7" fill="url(#rd3)"/>
<ellipse cx="-24.7" cy="545.5" rx="17.7" ry="17.7" fill="url(#rd3)"/>
<ellipse cx="8.8" cy="534.3" rx="20.9" ry="22.2" fill="url(#rd4)"/>
<ellipse cx="59.4" cy="550.3" rx="23.1" ry="24.2" fill="url(#rd4)"/>
<ellipse cx="99.9" cy="553.3" rx="20.9" ry="20.4" fill="url(#rd5)"/>
<ellipse cx="136.8" cy="548.2" rx="21.2" ry="19.7" fill="url(#rd3)"/>
<ellipse cx="168.2" cy="544.7" rx="19.0" ry="16.8" fill="url(#rd4)"/>
<ellipse cx="203.1" cy="531.6" rx="17.5" ry="19.9" fill="url(#rd5)"/>
<ellipse cx="230.1" cy="540.9" rx="20.6" ry="23.2" fill="url(#rd4)"/>
<ellipse cx="260.0" cy="553.4" rx="18.3" ry="17.3" fill="url(#rd4)"/>
<ellipse cx="314.0" cy="532.3" rx="20.3" ry="19.3" fill="url(#rd1)"/>
<ellipse cx="341.7" cy="538.9" rx="18.4" ry="14.8" fill="url(#rd4)"/>
<ellipse cx="384.9" cy="551.4" rx="20.4" ry="19.4" fill="url(#rd4)"/>
<ellipse cx="425.2" cy="552.2" rx="22.8" ry="20.0" fill="url(#rd6)"/>
<ellipse cx="449.9" cy="553.0" rx="20.4" ry="17.7" fill="url(#rd4)"/>
<ellipse cx="489.3" cy="541.7" rx="22.8" ry="19.4" fill="url(#rd3)"/>
<ellipse cx="527.1" cy="552.0" rx="22.5" ry="21.9" fill="url(#rd2)"/>
<ellipse cx="558.2" cy="531.9" rx="18.1" ry="19.6" fill="url(#rd4)"/>
<ellipse cx="585.3" cy="531.7" rx="23.2" ry="20.4" fill="url(#rd3)"/>
<ellipse cx="626.5" cy="532.5" rx="17.5" ry="18.6" fill="url(#rd4)"/>
<ellipse cx="659.3" cy="543.8" rx="21.6" ry="24.8" fill="url(#rd4)"/>
<ellipse cx="691.5" cy="551.4" rx="18.4" ry="15.9" fill="url(#rd4)"/>
<ellipse cx="740.9" cy="551.8" rx="21.6" ry="21.3" fill="url(#rd5)"/>
<ellipse cx="780.0" cy="547.9" rx="20.3" ry="16.4" fill="url(#rd3)"/>
<ellipse cx="805.9" cy="538.8" rx="19.3" ry="21.8" fill="url(#rd5)"/>
<ellipse cx="845.7" cy="542.8" rx="19.1" ry="19.4" fill="url(#rd4)"/>
<ellipse cx="894.1" cy="537.7" rx="19.7" ry="22.5" fill="url(#rd4)"/>
<ellipse cx="-7.8" cy="579.1" rx="19.4" ry="18.0" fill="url(#rd5)"/>
<ellipse cx="40.8" cy="563.8" rx="20.6" ry="23.6" fill="url(#rd4)"/>
<ellipse cx="75.1" cy="580.6" rx="22.3" ry="22.6" fill="url(#rd5)"/>
<ellipse cx="103.7" cy="574.4" rx="19.3" ry="20.0" fill="url(#rd3)"/>
<ellipse cx="131.6" cy="586.9" rx="22.2" ry="23.5" fill="url(#rd4)"/>
<ellipse cx="177.3" cy="568.8" rx="19.6" ry="18.0" fill="url(#rd5)"/>
<ellipse cx="206.0" cy="562.7" rx="20.6" ry="18.0" fill="url(#rd3)"/>
<ellipse cx="260.0" cy="562.6" rx="21.9" ry="19.9" fill="url(#rd5)"/>
<ellipse cx="285.0" cy="562.0" rx="17.4" ry="19.7" fill="url(#rd4)"/>
<ellipse cx="319.3" cy="565.8" rx="21.9" ry="19.0" fill="url(#rd4)"/>
<ellipse cx="358.7" cy="571.8" rx="21.5" ry="24.9" fill="url(#rd4)"/>
<ellipse cx="387.1" cy="583.5" rx="20.4" ry="19.4" fill="url(#rd4)"/>
<ellipse cx="430.3" cy="564.8" rx="21.3" ry="18.1" fill="url(#rd4)"/>
<ellipse cx="478.5" cy="571.3" rx="22.0" ry="26.0" fill="url(#rd4)"/>
<ellipse cx="494.0" cy="576.1" rx="22.3" ry="25.4" fill="url(#rd4)"/>
<ellipse cx="535.4" cy="575.1" rx="22.9" ry="20.4" fill="url(#rd3)"/>
<ellipse cx="587.7" cy="573.9" rx="21.6" ry="21.9" fill="url(#rd4)"/>
<ellipse cx="611.0" cy="577.0" rx="20.9" ry="23.8" fill="url(#rd4)"/>
<ellipse cx="652.4" cy="567.1" rx="22.0" ry="23.6" fill="url(#rd3)"/>
<ellipse cx="674.8" cy="571.4" rx="22.2" ry="21.3" fill="url(#rd3)"/>
<ellipse cx="730.4" cy="582.3" rx="17.7" ry="20.3" fill="url(#rd4)"/>
<ellipse cx="752.5" cy="580.5" rx="18.7" ry="18.3" fill="url(#rd7)"/>
<ellipse cx="803.7" cy="575.4" rx="20.7" ry="24.6" fill="url(#rd3)"/>
<ellipse cx="818.0" cy="569.5" rx="22.9" ry="25.4" fill="url(#rd4)"/>
<ellipse cx="855.0" cy="567.4" rx="21.3" ry="20.7" fill="url(#rd4)"/>
<ellipse cx="-9.6" cy="613.1" rx="21.5" ry="25.7" fill="url(#rd5)"/>
<ellipse cx="8.3" cy="611.2" rx="20.9" ry="24.5" fill="url(#rd3)"/>
<ellipse cx="58.3" cy="599.2" rx="22.0" ry="20.2" fill="url(#rd3)"/>
<ellipse cx="89.8" cy="610.9" rx="18.0" ry="15.5" fill="url(#rd5)"/>
<ellipse cx="124.5" cy="611.9" rx="17.8" ry="17.7" fill="url(#rd4)"/>
<ellipse cx="158.0" cy="596.5" rx="18.7" ry="17.3" fill="url(#rd4)"/>
<ellipse cx="191.4" cy="615.6" rx="19.1" ry="20.7" fill="url(#rd4)"/>
<ellipse cx="235.5" cy="593.0" rx="21.0" ry="22.3" fill="url(#rd4)"/>
<ellipse cx="272.2" cy="614.5" rx="20.2" ry="16.4" fill="url(#rd3)"/>
<ellipse cx="305.9" cy="609.3" rx="22.3" ry="20.0" fill="url(#rd4)"/>
<ellipse cx="349.2" cy="606.2" rx="21.9" ry="21.8" fill="url(#rd3)"/>
<ellipse cx="390.3" cy="602.1" rx="19.6" ry="18.0" fill="url(#rd4)"/>
<ellipse cx="417.1" cy="603.5" rx="22.5" ry="23.3" fill="url(#rd4)"/>
<ellipse cx="437.5" cy="613.0" rx="23.2" ry="21.0" fill="url(#rd4)"/>
<ellipse cx="492.8" cy="617.3" rx="18.4" ry="17.0" fill="url(#rd3)"/>
<ellipse cx="513.0" cy="609.3" rx="18.6" ry="20.6" fill="url(#rd3)"/>
<ellipse cx="560.5" cy="603.0" rx="20.7" ry="22.5" fill="url(#rd4)"/>
<ellipse cx="598.0" cy="604.5" rx="19.6" ry="20.9" fill="url(#rd4)"/>
<ellipse cx="620.4" cy="604.0" rx="18.7" ry="17.7" fill="url(#rd4)"/>
<ellipse cx="669.8" cy="595.2" rx="17.8" ry="19.3" fill="url(#rd4)"/>
<ellipse cx="707.7" cy="609.6" rx="21.3" ry="17.8" fill="url(#rd3)"/>
<ellipse cx="741.4" cy="600.6" rx="17.5" ry="21.0" fill="url(#rd6)"/>
<ellipse cx="761.5" cy="598.4" rx="19.3" ry="16.7" fill="url(#rd8)"/>
<ellipse cx="803.7" cy="610.2" rx="22.6" ry="23.8" fill="url(#rd5)"/>
<ellipse cx="839.0" cy="615.1" rx="20.7" ry="23.9" fill="url(#rd4)"/>
<ellipse cx="873.4" cy="612.3" rx="18.1" ry="16.5" fill="url(#rd4)"/>
<ellipse cx="-1.6" cy="639.0" rx="17.7" ry="17.7" fill="url(#rd3)"/>
<ellipse cx="46.6" cy="631.0" rx="22.3" ry="25.8" fill="url(#rd3)"/>
<ellipse cx="79.6" cy="637.6" rx="23.2" ry="23.8" fill="url(#rd4)"/>
<ellipse cx="98.7" cy="638.4" rx="20.7" ry="19.7" fill="url(#rd4)"/>
<ellipse cx="149.2" cy="647.5" rx="22.9" ry="27.3" fill="url(#rd5)"/>
<ellipse cx="180.1" cy="639.1" rx="22.0" ry="26.1" fill="url(#rd4)"/>
<ellipse cx="207.9" cy="626.0" rx="21.3" ry="22.9" fill="url(#rd3)"/>
<ellipse cx="260.3" cy="642.7" rx="17.7" ry="18.7" fill="url(#rd5)"/>
<ellipse cx="276.5" cy="629.6" rx="18.7" ry="17.8" fill="url(#rd4)"/>
<ellipse cx="316.3" cy="640.0" rx="20.3" ry="23.1" fill="url(#rd4)"/>
<ellipse cx="360.9" cy="629.5" rx="18.8" ry="20.4" fill="url(#rd3)"/>
<ellipse cx="399.7" cy="624.1" rx="21.5" ry="24.6" fill="url(#rd5)"/>
<ellipse cx="435.2" cy="629.7" rx="21.6" ry="22.6" fill="url(#rd5)"/>
<ellipse cx="475.2" cy="636.6" rx="19.0" ry="16.2" fill="url(#rd4)"/>
<ellipse cx="506.2" cy="633.0" rx="19.1" ry="16.1" fill="url(#rd4)"/>
<ellipse cx="550.7" cy="646.0" rx="23.1" ry="21.2" fill="url(#rd4)"/>
<ellipse cx="583.1" cy="646.5" rx="18.8" ry="17.0" fill="url(#rd4)"/>
<ellipse cx="599.7" cy="643.5" rx="21.8" ry="24.8" fill="url(#rd4)"/>
<ellipse cx="647.3" cy="647.3" rx="20.2" ry="20.9" fill="url(#rd3)"/>
<ellipse cx="673.3" cy="635.4" rx="21.6" ry="25.2" fill="url(#rd5)"/>
<ellipse cx="725.9" cy="647.0" rx="20.7" ry="17.1" fill="url(#rd4)"/>
<ellipse cx="758.2" cy="633.9" rx="21.0" ry="18.6" fill="url(#rd6)"/>
<ellipse cx="787.2" cy="626.6" rx="19.9" ry="16.8" fill="url(#rd5)"/>
<ellipse cx="816.3" cy="625.5" rx="19.7" ry="20.7" fill="url(#rd3)"/>
<ellipse cx="862.7" cy="630.8" rx="20.6" ry="21.2" fill="url(#rd4)"/>
<ellipse cx="-22.8" cy="662.5" rx="19.4" ry="22.5" fill="url(#rd3)"/>
<ellipse cx="27.0" cy="661.9" rx="18.0" ry="14.9" fill="url(#rd4)"/>
<ellipse cx="56.4" cy="672.1" rx="22.2" ry="21.5" fill="url(#rd4)"/>
<ellipse cx="97.0" cy="664.7" rx="18.0" ry="16.4" fill="url(#rd4)"/>
<ellipse cx="120.2" cy="660.3" rx="20.3" ry="18.3" fill="url(#rd5)"/>
<ellipse cx="158.9" cy="658.4" rx="18.0" ry="14.5" fill="url(#rd4)"/>
<ellipse cx="186.8" cy="666.8" rx="22.3" ry="26.7" fill="url(#rd5)"/>
<ellipse cx="236.7" cy="671.9" rx="19.9" ry="21.3" fill="url(#rd5)"/>
<ellipse cx="279.7" cy="655.5" rx="20.2" ry="21.2" fill="url(#rd4)"/>
<ellipse cx="297.5" cy="679.9" rx="23.1" ry="18.6" fill="url(#rd4)"/>
<ellipse cx="338.9" cy="667.8" rx="23.1" ry="19.4" fill="url(#rd4)"/>
<ellipse cx="367.1" cy="659.5" rx="21.3" ry="18.3" fill="url(#rd4)"/>
<ellipse cx="420.9" cy="667.8" rx="22.2" ry="21.8" fill="url(#rd4)"/>
<ellipse cx="451.5" cy="662.0" rx="21.3" ry="19.6" fill="url(#rd3)"/>
<ellipse cx="490.2" cy="664.3" rx="21.6" ry="20.6" fill="url(#rd4)"/>
<ellipse cx="525.5" cy="664.5" rx="20.3" ry="16.4" fill="url(#rd5)"/>
<ellipse cx="567.2" cy="670.6" rx="20.6" ry="23.2" fill="url(#rd4)"/>
<ellipse cx="598.3" cy="662.4" rx="19.3" ry="17.7" fill="url(#rd5)"/>
<ellipse cx="633.5" cy="663.3" rx="22.5" ry="21.2" fill="url(#rd5)"/>
<ellipse cx="677.6" cy="666.0" rx="21.9" ry="20.9" fill="url(#rd4)"/>
<ellipse cx="690.7" cy="664.5" rx="20.2" ry="17.1" fill="url(#rd3)"/>
<ellipse cx="743.4" cy="665.7" rx="20.6" ry="17.4" fill="url(#rd4)"/>
<ellipse cx="770.3" cy="659.2" rx="22.3" ry="24.2" fill="url(#rd5)"/>
<ellipse cx="803.7" cy="655.8" rx="21.9" ry="19.3" fill="url(#rd5)"/>
<ellipse cx="845.7" cy="680.3" rx="18.8" ry="18.6" fill="url(#rd5)"/>
<ellipse cx="874.3" cy="680.0" rx="20.3" ry="19.9" fill="url(#rd4)"/>
<ellipse cx="-4.0" cy="702.5" rx="21.2" ry="18.4" fill="url(#rd3)"/>
<ellipse cx="42.1" cy="710.9" rx="19.3" ry="18.7" fill="url(#rd5)"/>
<ellipse cx="74.2" cy="695.1" rx="20.9" ry="22.6" fill="url(#rd4)"/>
<ellipse cx="116.3" cy="692.1" rx="18.6" ry="15.9" fill="url(#rd4)"/>
<ellipse cx="146.9" cy="689.9" rx="19.4" ry="16.1" fill="url(#rd3)"/>
<ellipse cx="180.7" cy="701.4" rx="22.3" ry="21.2" fill="url(#rd3)"/>
<ellipse cx="224.9" cy="707.7" rx="20.7" ry="19.6" fill="url(#rd3)"/>
<ellipse cx="258.2" cy="690.6" rx="22.2" ry="20.0" fill="url(#rd2)"/>
<ellipse cx="296.9" cy="706.1" rx="22.8" ry="25.2" fill="url(#rd4)"/>
<ellipse cx="318.8" cy="694.0" rx="20.3" ry="20.0" fill="url(#rd4)"/>
<ellipse cx="351.1" cy="690.8" rx="17.4" ry="19.6" fill="url(#rd5)"/>
<ellipse cx="397.0" cy="706.0" rx="19.0" ry="16.1" fill="url(#rd4)"/>
<ellipse cx="441.9" cy="691.7" rx="23.1" ry="22.8" fill="url(#rd3)"/>
<ellipse cx="458.7" cy="695.5" rx="21.3" ry="21.2" fill="url(#rd5)"/>
<ellipse cx="506.9" cy="692.0" rx="20.2" ry="17.5" fill="url(#rd4)"/>
<ellipse cx="540.2" cy="710.3" rx="19.7" ry="17.5" fill="url(#rd5)"/>
<ellipse cx="578.0" cy="704.8" rx="20.9" ry="23.8" fill="url(#rd4)"/>
<ellipse cx="623.8" cy="687.3" rx="19.6" ry="16.5" fill="url(#rd3)"/>
<ellipse cx="636.0" cy="695.3" rx="19.1" ry="18.4" fill="url(#rd3)"/>
<ellipse cx="692.5" cy="692.2" rx="21.5" ry="20.9" fill="url(#rd5)"/>
<ellipse cx="710.9" cy="702.3" rx="20.9" ry="17.7" fill="url(#rd3)"/>
<ellipse cx="744.9" cy="692.0" rx="19.6" ry="20.9" fill="url(#rd4)"/>
<ellipse cx="802.5" cy="711.5" rx="22.9" ry="21.3" fill="url(#rd4)"/>
<ellipse cx="824.8" cy="710.0" rx="19.4" ry="20.7" fill="url(#rd5)"/>
<ellipse cx="863.1" cy="709.0" rx="20.3" ry="19.9" fill="url(#rd3)"/>
<ellipse cx="-15.8" cy="733.8" rx="23.1" ry="21.6" fill="url(#rd4)"/>
<ellipse cx="11.6" cy="735.3" rx="19.9" ry="16.8" fill="url(#rd3)"/>
<ellipse cx="63.8" cy="736.8" rx="22.3" ry="26.4" fill="url(#rd4)"/>
<ellipse cx="85.1" cy="731.1" rx="19.1" ry="22.9" fill="url(#rd5)"/>
<ellipse cx="129.7" cy="725.4" rx="21.6" ry="21.3" fill="url(#rd4)"/>
<ellipse cx="151.2" cy="718.9" rx="18.3" ry="17.3" fill="url(#rd5)"/>
<ellipse cx="207.3" cy="728.3" rx="21.0" ry="24.8" fill="url(#rd5)"/>
<ellipse cx="223.5" cy="737.0" rx="19.1" ry="20.6" fill="url(#rd4)"/>
<ellipse cx="257.7" cy="724.1" rx="19.3" ry="16.2" fill="url(#rd6)"/>
<ellipse cx="312.7" cy="717.7" rx="19.0" ry="20.7" fill="url(#rd5)"/>
<ellipse cx="347.4" cy="723.1" rx="19.3" ry="17.0" fill="url(#rd3)"/>
<ellipse cx="375.3" cy="717.9" rx="20.3" ry="16.2" fill="url(#rd2)"/>
<ellipse cx="406.3" cy="729.4" rx="21.6" ry="18.4" fill="url(#rd3)"/>
<ellipse cx="448.4" cy="731.7" rx="19.7" ry="20.0" fill="url(#rd4)"/>
<ellipse cx="493.1" cy="730.3" rx="18.4" ry="18.6" fill="url(#rd4)"/>
<ellipse cx="519.9" cy="735.0" rx="20.3" ry="21.6" fill="url(#rd4)"/>
<ellipse cx="547.7" cy="730.3" rx="20.0" ry="17.4" fill="url(#rd3)"/>
<ellipse cx="586.0" cy="742.2" rx="21.2" ry="20.0" fill="url(#rd4)"/>
<ellipse cx="618.6" cy="717.9" rx="22.9" ry="19.4" fill="url(#rd3)"/>
<ellipse cx="657.0" cy="719.9" rx="18.0" ry="15.9" fill="url(#rd3)"/>
<ellipse cx="705.6" cy="740.6" rx="17.8" ry="15.8" fill="url(#rd3)"/>
<ellipse cx="734.9" cy="728.2" rx="21.2" ry="24.5" fill="url(#rd4)"/>
<ellipse cx="779.4" cy="725.9" rx="21.3" ry="19.1" fill="url(#rd4)"/>
<ellipse cx="815.6" cy="735.3" rx="22.8" ry="24.1" fill="url(#rd5)"/>
<ellipse cx="850.4" cy="735.0" rx="22.6" ry="24.1" fill="url(#rd3)"/>
<ellipse cx="880.8" cy="733.7" rx="21.3" ry="22.5" fill="url(#rd3)"/>
<ellipse cx="-0.6" cy="753.8" rx="19.3" ry="19.9" fill="url(#rd4)"/>
<ellipse cx="29.5" cy="767.5" rx="19.7" ry="21.3" fill="url(#rd3)"/>
<ellipse cx="64.2" cy="763.5" rx="19.3" ry="21.6" fill="url(#rd4)"/>
<ellipse cx="103.8" cy="762.1" rx="19.4" ry="18.3" fill="url(#rd6)"/>
<ellipse cx="134.7" cy="765.3" rx="21.9" ry="24.5" fill="url(#rd3)"/>
<ellipse cx="182.4" cy="762.1" rx="18.7" ry="18.8" fill="url(#rd3)"/>
<ellipse cx="216.5" cy="760.4" rx="18.1" ry="16.7" fill="url(#rd2)"/>
<ellipse cx="250.1" cy="758.9" rx="19.7" ry="20.0" fill="url(#rd3)"/>
<ellipse cx="285.5" cy="766.9" rx="22.8" ry="23.9" fill="url(#rd4)"/>
<ellipse cx="330.7" cy="749.5" rx="18.6" ry="20.4" fill="url(#rd5)"/>
<ellipse cx="367.6" cy="773.5" rx="21.9" ry="17.8" fill="url(#rd3)"/>
<ellipse cx="385.3" cy="754.6" rx="18.7" ry="15.5" fill="url(#rd3)"/>
<ellipse cx="436.3" cy="757.2" rx="22.6" ry="21.9" fill="url(#rd4)"/>
<ellipse cx="461.7" cy="759.7" rx="19.0" ry="18.7" fill="url(#rd4)"/>
<ellipse cx="513.2" cy="765.6" rx="21.2" ry="22.6" fill="url(#rd5)"/>
<ellipse cx="548.1" cy="750.9" rx="19.4" ry="21.6" fill="url(#rd4)"/>
<ellipse cx="575.6" cy="750.9" rx="18.8" ry="15.7" fill="url(#rd5)"/>
<ellipse cx="616.6" cy="749.0" rx="19.3" ry="20.3" fill="url(#rd3)"/>
<ellipse cx="658.7" cy="749.3" rx="22.8" ry="20.3" fill="url(#rd3)"/>
<ellipse cx="693.6" cy="754.1" rx="19.3" ry="17.7" fill="url(#rd5)"/>
<ellipse cx="718.0" cy="756.1" rx="19.1" ry="15.4" fill="url(#rd4)"/>
<ellipse cx="763.4" cy="758.8" rx="22.3" ry="23.1" fill="url(#rd3)"/>
<ellipse cx="790.1" cy="755.0" rx="21.0" ry="17.4" fill="url(#rd5)"/>
<ellipse cx="825.8" cy="771.6" rx="18.3" ry="16.7" fill="url(#rd3)"/>
<ellipse cx="853.9" cy="751.1" rx="20.9" ry="17.8" fill="url(#rd4)"/>
<ellipse cx="-9.4" cy="802.0" rx="19.0" ry="15.5" fill="url(#rd4)"/>
<ellipse cx="9.0" cy="785.5" rx="20.9" ry="20.9" fill="url(#rd3)"/>
<ellipse cx="51.0" cy="788.8" rx="19.3" ry="22.5" fill="url(#rd4)"/>
<ellipse cx="85.4" cy="782.1" rx="19.0" ry="18.7" fill="url(#rd4)"/>
<ellipse cx="123.3" cy="803.1" rx="20.7" ry="19.0" fill="url(#rd4)"/>
<ellipse cx="167.8" cy="798.5" rx="22.2" ry="25.2" fill="url(#rd4)"/>
<ellipse cx="195.0" cy="792.0" rx="21.8" ry="21.8" fill="url(#rd4)"/>
<ellipse cx="231.8" cy="783.1" rx="21.6" ry="22.6" fill="url(#rd1)"/>
<ellipse cx="261.3" cy="783.5" rx="20.0" ry="19.0" fill="url(#rd3)"/>
<ellipse cx="297.4" cy="798.1" rx="21.8" ry="21.3" fill="url(#rd4)"/>
<ellipse cx="351.5" cy="787.1" rx="21.5" ry="24.2" fill="url(#rd4)"/>
<ellipse cx="379.4" cy="797.4" rx="20.0" ry="21.5" fill="url(#rd4)"/>
<ellipse cx="406.9" cy="790.8" rx="18.7" ry="15.4" fill="url(#rd3)"/>
<ellipse cx="445.8" cy="790.2" rx="17.4" ry="14.9" fill="url(#rd3)"/>
<ellipse cx="485.3" cy="801.0" rx="17.5" ry="18.1" fill="url(#rd3)"/>
<ellipse cx="524.4" cy="785.8" rx="21.5" ry="20.2" fill="url(#rd5)"/>
<ellipse cx="561.0" cy="804.7" rx="19.6" ry="23.5" fill="url(#rd4)"/>
<ellipse cx="592.4" cy="783.6" rx="22.2" ry="22.8" fill="url(#rd2)"/>
<ellipse cx="620.3" cy="787.7" rx="20.2" ry="17.7" fill="url(#rd3)"/>
<ellipse cx="669.3" cy="781.4" rx="22.0" ry="21.5" fill="url(#rd3)"/>
<ellipse cx="713.3" cy="792.8" rx="22.6" ry="26.5" fill="url(#rd3)"/>
<ellipse cx="743.1" cy="785.2" rx="21.0" ry="19.7" fill="url(#rd4)"/>
<ellipse cx="768.8" cy="791.1" rx="20.7" ry="23.1" fill="url(#rd4)"/>
<ellipse cx="809.2" cy="798.2" rx="20.3" ry="19.6" fill="url(#rd3)"/>
<ellipse cx="840.4" cy="796.2" rx="19.4" ry="23.2" fill="url(#rd3)"/>
<ellipse cx="889.5" cy="791.5" rx="19.0" ry="15.9" fill="url(#rd3)"/>
<ellipse cx="-1.2" cy="820.6" rx="20.2" ry="16.1" fill="url(#rd4)"/>
<ellipse cx="36.1" cy="817.4" rx="20.3" ry="20.0" fill="url(#rd3)"/>
<ellipse cx="69.6" cy="835.9" rx="17.8" ry="18.4" fill="url(#rd4)"/>
<ellipse cx="112.4" cy="829.2" rx="21.0" ry="17.8" fill="url(#rd3)"/>
<ellipse cx="145.1" cy="824.2" rx="22.3" ry="23.6" fill="url(#rd4)"/>
<ellipse cx="168.4" cy="813.6" rx="21.6" ry="21.8" fill="url(#rd4)"/>
<ellipse cx="228.6" cy="823.9" rx="22.2" ry="21.8" fill="url(#rd4)"/>
<ellipse cx="263.0" cy="829.4" rx="17.7" ry="17.8" fill="url(#rd4)"/>
<ellipse cx="297.6" cy="835.5" rx="22.3" ry="26.2" fill="url(#rd4)"/>
<ellipse cx="328.5" cy="820.1" rx="18.7" ry="17.4" fill="url(#rd4)"/>
<ellipse cx="355.8" cy="832.1" rx="22.5" ry="24.8" fill="url(#rd4)"/>
<ellipse cx="408.1" cy="827.4" rx="19.9" ry="17.1" fill="url(#rd4)"/>
<ellipse cx="436.1" cy="819.3" rx="17.8" ry="14.5" fill="url(#rd5)"/>
<ellipse cx="463.7" cy="817.8" rx="20.6" ry="23.2" fill="url(#rd5)"/>
<ellipse cx="502.5" cy="825.6" rx="21.5" ry="19.9" fill="url(#rd4)"/>
<ellipse cx="533.0" cy="817.1" rx="18.8" ry="20.3" fill="url(#rd4)"/>
<ellipse cx="573.7" cy="813.2" rx="18.7" ry="19.1" fill="url(#rd4)"/>
<ellipse cx="622.1" cy="832.0" rx="22.0" ry="21.3" fill="url(#rd5)"/>
<ellipse cx="647.6" cy="821.0" rx="18.8" ry="21.6" fill="url(#rd4)"/>
<ellipse cx="682.6" cy="824.5" rx="20.9" ry="21.0" fill="url(#rd4)"/>
<ellipse cx="728.2" cy="816.0" rx="21.3" ry="23.6" fill="url(#rd4)"/>
<ellipse cx="757.1" cy="831.9" rx="18.1" ry="19.1" fill="url(#rd5)"/>
<ellipse cx="783.5" cy="811.8" rx="19.4" ry="18.7" fill="url(#rd4)"/>
<ellipse cx="839.1" cy="819.3" rx="17.4" ry="14.1" fill="url(#rd4)"/>
<ellipse cx="865.1" cy="820.6" rx="17.7" ry="19.0" fill="url(#rd4)"/>
<ellipse cx="-6.2" cy="855.7" rx="21.3" ry="18.4" fill="url(#rd4)"/>
<ellipse cx="25.3" cy="861.4" rx="18.4" ry="17.3" fill="url(#rd4)"/>
<ellipse cx="49.9" cy="866.2" rx="20.4" ry="19.0" fill="url(#rd4)"/>
<ellipse cx="84.0" cy="859.5" rx="21.2" ry="20.4" fill="url(#rd5)"/>
<ellipse cx="135.9" cy="865.1" rx="19.7" ry="17.8" fill="url(#rd4)"/>
<ellipse cx="158.6" cy="865.8" rx="18.6" ry="15.5" fill="url(#rd4)"/>
<ellipse cx="197.3" cy="847.6" rx="20.7" ry="20.4" fill="url(#rd3)"/>
<ellipse cx="237.9" cy="845.9" rx="19.0" ry="17.7" fill="url(#rd3)"/>
<ellipse cx="258.6" cy="866.0" rx="22.9" ry="23.6" fill="url(#rd4)"/>
<ellipse cx="303.5" cy="854.8" rx="21.8" ry="22.8" fill="url(#rd4)"/>
<ellipse cx="347.0" cy="856.8" rx="19.3" ry="20.6" fill="url(#rd4)"/>
<ellipse cx="383.9" cy="853.2" rx="19.9" ry="21.2" fill="url(#rd5)"/>
<ellipse cx="417.1" cy="845.7" rx="20.9" ry="24.5" fill="url(#rd4)"/>
<ellipse cx="452.9" cy="852.8" rx="19.3" ry="20.7" fill="url(#rd4)"/>
<ellipse cx="477.0" cy="855.9" rx="21.8" ry="24.9" fill="url(#rd4)"/>
<ellipse cx="512.3" cy="853.9" rx="21.5" ry="18.6" fill="url(#rd5)"/>
<ellipse cx="558.5" cy="854.4" rx="19.9" ry="23.2" fill="url(#rd5)"/>
<ellipse cx="598.0" cy="847.1" rx="17.7" ry="19.1" fill="url(#rd4)"/>
<ellipse cx="638.9" cy="854.3" rx="21.0" ry="22.9" fill="url(#rd4)"/>
<ellipse cx="671.9" cy="845.0" rx="17.7" ry="14.6" fill="url(#rd4)"/>
<ellipse cx="700.9" cy="851.3" rx="18.8" ry="20.6" fill="url(#rd4)"/>
<ellipse cx="733.6" cy="863.0" rx="20.6" ry="20.6" fill="url(#rd4)"/>
<ellipse cx="776.1" cy="844.0" rx="19.3" ry="22.6" fill="url(#rd4)"/>
<ellipse cx="818.2" cy="857.0" rx="21.8" ry="23.9" fill="url(#rd3)"/>
<ellipse cx="838.6" cy="855.0" rx="19.4" ry="19.1" fill="url(#rd3)"/>
<ellipse cx="880.7" cy="844.6" rx="21.8" ry="21.6" fill="url(#rd4)"/>
<ellipse cx="-11.4" cy="879.5" rx="18.8" ry="19.9" fill="url(#rd4)"/>
<ellipse cx="27.3" cy="881.8" rx="22.2" ry="17.8" fill="url(#rd3)"/>
<ellipse cx="65.8" cy="890.8" rx="17.7" ry="18.0" fill="url(#rd3)"/>
<ellipse cx="108.1" cy="897.8" rx="19.1" ry="20.0" fill="url(#rd3)"/>
<ellipse cx="150.8" cy="880.6" rx="20.7" ry="16.5" fill="url(#rd4)"/>
<ellipse cx="183.6" cy="875.0" rx="20.4" ry="22.3" fill="url(#rd3)"/>
<ellipse cx="219.0" cy="896.0" rx="21.5" ry="17.7" fill="url(#rd4)"/>
<ellipse cx="244.4" cy="880.1" rx="19.1" ry="16.2" fill="url(#rd4)"/>
<ellipse cx="279.8" cy="894.6" rx="18.1" ry="18.1" fill="url(#rd4)"/>
<ellipse cx="326.9" cy="881.7" rx="20.6" ry="23.6" fill="url(#rd4)"/>
<ellipse cx="361.0" cy="886.7" rx="18.4" ry="16.4" fill="url(#rd4)"/>
<ellipse cx="391.0" cy="878.7" rx="17.8" ry="15.9" fill="url(#rd4)"/>
<ellipse cx="428.7" cy="890.5" rx="23.2" ry="21.9" fill="url(#rd3)"/>
<ellipse cx="468.2" cy="876.9" rx="19.7" ry="18.6" fill="url(#rd5)"/>
<ellipse cx="492.2" cy="878.8" rx="17.8" ry="19.4" fill="url(#rd5)"/>
<ellipse cx="551.8" cy="891.5" rx="19.0" ry="17.3" fill="url(#rd4)"/>
<ellipse cx="583.2" cy="878.6" rx="20.7" ry="22.0" fill="url(#rd4)"/>
<ellipse cx="603.0" cy="883.6" rx="20.7" ry="19.6" fill="url(#rd3)"/>
<ellipse cx="649.5" cy="890.0" rx="22.0" ry="18.3" fill="url(#rd3)"/>
<ellipse cx="687.2" cy="880.9" rx="20.9" ry="20.2" fill="url(#rd4)"/>
<ellipse cx="708.8" cy="874.2" rx="18.4" ry="15.8" fill="url(#rd3)"/>
<ellipse cx="745.8" cy="883.7" rx="17.7" ry="19.4" fill="url(#rd5)"/>
<ellipse cx="801.7" cy="891.5" rx="20.0" ry="19.9" fill="url(#rd4)"/>
<ellipse cx="828.1" cy="889.6" rx="18.4" ry="17.8" fill="url(#rd5)"/>
<ellipse cx="855.2" cy="898.1" rx="18.3" ry="21.0" fill="url(#rd4)"/>
<g filter="url(#fbd)">
<ellipse cx="122" cy="170" rx="18" ry="80" fill="rgb(31,31,31)"/>
<ellipse cx="155" cy="70" rx="22" ry="35" fill="rgb(38,38,38)"/>
<ellipse cx="140" cy="30" rx="60" ry="18" fill="rgb(51,51,51)"/>
<ellipse cx="590" cy="185" rx="48" ry="85" fill="rgb(41,41,41)"/>
<ellipse cx="565" cy="105" rx="18" ry="18" fill="rgb(26,26,26)"/>
<ellipse cx="762" cy="187" rx="14" ry="30" fill="rgb(38,38,38)"/>
<ellipse cx="420" cy="50" rx="30" ry="30" fill="rgb(51,51,51)"/>
<ellipse cx="99" cy="332" rx="15" ry="15" fill="rgb(31,31,31)"/>
<ellipse cx="312" cy="536" rx="12" ry="12" fill="rgb(26,26,26)"/>
<ellipse cx="268" cy="684" rx="14" ry="14" fill="rgb(26,26,26)"/>
<ellipse cx="372" cy="719" rx="14" ry="14" fill="rgb(31,31,31)"/>
<ellipse cx="684" cy="337" rx="14" ry="14" fill="rgb(31,31,31)"/>
<ellipse cx="531" cy="536" rx="16" ry="14" fill="rgb(36,36,36)"/>
<ellipse cx="183" cy="456" rx="18" ry="18" fill="rgb(36,36,36)"/>
<ellipse cx="244" cy="180" rx="20" ry="20" fill="rgb(41,41,41)"/>
<ellipse cx="362" cy="244" rx="16" ry="14" fill="rgb(41,41,41)"/>
<ellipse cx="412" cy="200" rx="14" ry="18" fill="rgb(41,41,41)"/>
<ellipse cx="537" cy="337" rx="14" ry="14" fill="rgb(38,38,38)"/>
<ellipse cx="699" cy="369" rx="14" ry="14" fill="rgb(38,38,38)"/>
<ellipse cx="749" cy="399" rx="14" ry="14" fill="rgb(38,38,38)"/>
<ellipse cx="480" cy="400" rx="20" ry="15" fill="rgb(46,46,46)"/>
<ellipse cx="650" cy="450" rx="20" ry="15" fill="rgb(46,46,46)"/>
<ellipse cx="220" cy="780" rx="15" ry="15" fill="rgb(38,38,38)"/>
<ellipse cx="600" cy="780" rx="20" ry="15" fill="rgb(46,46,46)"/>
<ellipse cx="760" cy="500" rx="15" ry="15" fill="rgb(38,38,38)"/>
<ellipse cx="42" cy="165" rx="50" ry="92" fill="rgb(168,168,168)"/>
<ellipse cx="55" cy="160" rx="34" ry="55" fill="rgb(242,242,242)"/>
<ellipse cx="705" cy="200" rx="45" ry="80" fill="rgb(178,178,178)"/>
<ellipse cx="705" cy="282" rx="28" ry="22" fill="rgb(173,173,173)"/>
<ellipse cx="652" cy="178" rx="40" ry="32" fill="rgb(235,235,235)"/>
<ellipse cx="836" cy="15" rx="22" ry="18" fill="rgb(184,184,184)"/>
<ellipse cx="491" cy="278" rx="18" ry="20" fill="rgb(178,178,178)"/>
<ellipse cx="813" cy="451" rx="16" ry="22" fill="rgb(163,163,163)"/>
<ellipse cx="282.0" cy="346.0" rx="5.7" ry="5.7" fill="rgb(34,34,34)"/>
<ellipse cx="486.5" cy="746.5" rx="4.3" ry="4.7" fill="rgb(38,38,38)"/>
<ellipse cx="608.2" cy="350.1" rx="6.8" ry="5.5" fill="rgb(38,38,38)"/>
<ellipse cx="514.1" cy="35.1" rx="5.0" ry="4.8" fill="rgb(28,28,28)"/>
<ellipse cx="548.8" cy="375.1" rx="6.1" ry="5.8" fill="rgb(26,26,26)"/>
<ellipse cx="611.2" cy="626.0" rx="4.2" ry="4.2" fill="rgb(32,32,32)"/>
<ellipse cx="781.3" cy="510.5" rx="4.9" ry="5.7" fill="rgb(30,30,30)"/>
<ellipse cx="620.3" cy="161.1" rx="4.6" ry="4.0" fill="rgb(38,38,38)"/>
<ellipse cx="163.7" cy="226.2" rx="4.6" ry="5.2" fill="rgb(33,33,33)"/>
<ellipse cx="177.9" cy="773.4" rx="6.4" ry="6.0" fill="rgb(31,31,31)"/>
<ellipse cx="87.4" cy="82.1" rx="6.2" ry="7.0" fill="rgb(36,36,36)"/>
<ellipse cx="214.6" cy="725.6" rx="4.7" ry="4.3" fill="rgb(36,36,36)"/>
<ellipse cx="210.4" cy="674.2" rx="5.0" ry="5.7" fill="rgb(39,39,39)"/>
<ellipse cx="503.9" cy="748.5" rx="5.9" ry="5.6" fill="rgb(30,30,30)"/>
<ellipse cx="666.7" cy="121.0" rx="6.2" ry="6.3" fill="rgb(26,26,26)"/>
<ellipse cx="181.4" cy="424.4" rx="4.7" ry="5.0" fill="rgb(37,37,37)"/>
<ellipse cx="830.4" cy="763.4" rx="5.9" ry="6.3" fill="rgb(36,36,36)"/>
<ellipse cx="96.9" cy="71.8" rx="6.7" ry="7.5" fill="rgb(32,32,32)"/>
<ellipse cx="193.1" cy="76.3" rx="6.3" ry="5.8" fill="rgb(35,35,35)"/>
<ellipse cx="343.8" cy="375.5" rx="5.3" ry="4.9" fill="rgb(35,35,35)"/>
<ellipse cx="448.1" cy="122.8" rx="6.3" ry="7.1" fill="rgb(34,34,34)"/>
<ellipse cx="602.4" cy="588.3" rx="5.8" ry="5.3" fill="rgb(32,32,32)"/>
<ellipse cx="300.2" cy="316.2" rx="5.3" ry="4.9" fill="rgb(27,27,27)"/>
<ellipse cx="237.3" cy="561.9" rx="5.1" ry="5.6" fill="rgb(39,39,39)"/>
<ellipse cx="324.8" cy="346.5" rx="4.7" ry="4.0" fill="rgb(34,34,34)"/>
<ellipse cx="739.8" cy="666.8" rx="5.3" ry="5.2" fill="rgb(32,32,32)"/>
<ellipse cx="464.0" cy="19.8" rx="5.7" ry="5.1" fill="rgb(28,28,28)"/>
<ellipse cx="71.4" cy="839.1" rx="6.6" ry="6.9" fill="rgb(26,26,26)"/>
<ellipse cx="321.3" cy="547.7" rx="4.3" ry="4.5" fill="rgb(29,29,29)"/>
<ellipse cx="800.1" cy="285.4" rx="4.4" ry="3.5" fill="rgb(28,28,28)"/>
<ellipse cx="604.4" cy="132.4" rx="5.3" ry="4.9" fill="rgb(40,40,40)"/>
<ellipse cx="767.6" cy="324.2" rx="5.1" ry="5.1" fill="rgb(40,40,40)"/>
<ellipse cx="755.5" cy="128.8" rx="6.5" ry="7.2" fill="rgb(35,35,35)"/>
<ellipse cx="608.4" cy="432.9" rx="6.0" ry="6.2" fill="rgb(35,35,35)"/>
<ellipse cx="634.3" cy="556.7" rx="4.6" ry="4.5" fill="rgb(37,37,37)"/>
<ellipse cx="279.2" cy="324.5" rx="5.2" ry="4.3" fill="rgb(33,33,33)"/>
<ellipse cx="737.7" cy="237.4" rx="6.8" ry="6.4" fill="rgb(31,31,31)"/>
<ellipse cx="88.6" cy="132.8" rx="4.4" ry="4.2" fill="rgb(36,36,36)"/>
<ellipse cx="220.0" cy="245.9" rx="4.1" ry="4.0" fill="rgb(26,26,26)"/>
<ellipse cx="15.4" cy="652.3" rx="6.5" ry="6.0" fill="rgb(34,34,34)"/>
<ellipse cx="123.1" cy="739.9" rx="6.5" ry="7.1" fill="rgb(30,30,30)"/>
<ellipse cx="493.7" cy="549.9" rx="6.9" ry="5.8" fill="rgb(40,40,40)"/>
<ellipse cx="327.1" cy="586.1" rx="4.3" ry="4.1" fill="rgb(31,31,31)"/>
<ellipse cx="850.9" cy="38.2" rx="4.7" ry="5.6" fill="rgb(39,39,39)"/>
<ellipse cx="130.9" cy="815.3" rx="5.7" ry="6.6" fill="rgb(40,40,40)"/>
<ellipse cx="715.1" cy="435.1" rx="4.3" ry="3.5" fill="rgb(36,36,36)"/>
<ellipse cx="435.0" cy="204.3" rx="4.1" ry="3.7" fill="rgb(33,33,33)"/>
<ellipse cx="183.3" cy="508.1" rx="5.9" ry="5.0" fill="rgb(39,39,39)"/>
<ellipse cx="733.6" cy="776.6" rx="6.9" ry="7.2" fill="rgb(29,29,29)"/>
<ellipse cx="707.8" cy="812.7" rx="4.8" ry="5.4" fill="rgb(29,29,29)"/>
<ellipse cx="817.0" cy="635.1" rx="4.3" ry="4.5" fill="rgb(39,39,39)"/>
<ellipse cx="790.8" cy="778.6" rx="6.0" ry="5.5" fill="rgb(35,35,35)"/>
<ellipse cx="109.1" cy="405.2" rx="4.8" ry="4.2" fill="rgb(33,33,33)"/>
<ellipse cx="817.3" cy="484.3" rx="4.4" ry="4.5" fill="rgb(34,34,34)"/>
<ellipse cx="437.1" cy="454.2" rx="6.0" ry="5.1" fill="rgb(39,39,39)"/>
<ellipse cx="261.2" cy="604.8" rx="5.4" ry="6.3" fill="rgb(27,27,27)"/>
<ellipse cx="721.6" cy="852.3" rx="4.6" ry="5.0" fill="rgb(26,26,26)"/>
<ellipse cx="39.0" cy="423.1" rx="6.0" ry="5.1" fill="rgb(26,26,26)"/>
<ellipse cx="381.6" cy="797.7" rx="6.0" ry="5.2" fill="rgb(31,31,31)"/>
<ellipse cx="24.4" cy="556.0" rx="4.6" ry="3.8" fill="rgb(30,30,30)"/>
</g></g>
<rect x="1.9" y="1.9" width="850.2" height="850.2" fill="none" stroke="#111" stroke-width="3.8"/>
</svg>
<text x="1090.6" y="1050.4" font-size="61.5">(d)</text>
<text transform="translate(1610.7 1046.8) scale(1 1.06)" font-size="62.5" font-weight="bold" fill="#fff">Gr_CuPR</text>
<rect x="1485" y="1751.15" width="338.4000000000001" height="8.5" fill="#fff"/>
<text transform="translate(1546.5 1732.9) scale(1 1.11)" font-size="62" font-weight="bold" fill="#fff" stroke="rgba(70,15,5,0.45)" stroke-width="3" paint-order="stroke">200 nm</text>
<defs><linearGradient id="cg1" x1="0" y1="0" x2="0" y2="1"><stop offset="0.0000" stop-color="rgb(255,250,242)"/><stop offset="0.0417" stop-color="rgb(253,243,225)"/><stop offset="0.0833" stop-color="rgb(251,236,207)"/><stop offset="0.1250" stop-color="rgb(249,229,189)"/><stop offset="0.1667" stop-color="rgb(247,220,167)"/><stop offset="0.2083" stop-color="rgb(245,212,145)"/><stop offset="0.2500" stop-color="rgb(242,203,120)"/><stop offset="0.2917" stop-color="rgb(240,193,95)"/><stop offset="0.3333" stop-color="rgb(234,178,82)"/><stop offset="0.3750" stop-color="rgb(226,162,73)"/><stop offset="0.4167" stop-color="rgb(220,141,63)"/><stop offset="0.4583" stop-color="rgb(213,121,54)"/><stop offset="0.5000" stop-color="rgb(206,102,46)"/><stop offset="0.5417" stop-color="rgb(197,85,37)"/><stop offset="0.5833" stop-color="rgb(189,68,29)"/><stop offset="0.6250" stop-color="rgb(178,55,23)"/><stop offset="0.6667" stop-color="rgb(167,42,17)"/><stop offset="0.7083" stop-color="rgb(149,35,15)"/><stop offset="0.7500" stop-color="rgb(128,29,12)"/><stop offset="0.7917" stop-color="rgb(105,23,9)"/><stop offset="0.8333" stop-color="rgb(80,17,8)"/><stop offset="0.8750" stop-color="rgb(57,12,6)"/><stop offset="0.9167" stop-color="rgb(35,8,5)"/><stop offset="0.9583" stop-color="rgb(14,4,4)"/><stop offset="1.0000" stop-color="rgb(0,0,0)"/></linearGradient></defs>
<rect x="1963.3" y="22.5" width="75.90000000000009" height="847.0" fill="url(#cg1)" stroke="#000" stroke-width="6"/>
<path d="M2039.2 165.9H2058.5M2039.2 307.9H2058.5M2039.2 447.7H2058.5M2039.2 589.6H2058.5M2039.2 731.5H2058.5" stroke="#000" stroke-width="4.2" fill="none"/>
<path d="M2039.2 22.5H2058.5M2039.2 869.5H2058.5" stroke="#000" stroke-width="6" fill="none"/>
<text transform="translate(2067.5 80.7) scale(1 1.04)" font-size="62">12.0 nm</text>
<text transform="translate(2189.7 221.3) scale(1 1.04)" font-size="62" text-anchor="end">10.0</text>
<text transform="translate(2189.7 362.1) scale(1 1.04)" font-size="62" text-anchor="end">8.0</text>
<text transform="translate(2189.7 503) scale(1 1.04)" font-size="62" text-anchor="end">6.0</text>
<text transform="translate(2189.7 646) scale(1 1.04)" font-size="62" text-anchor="end">4.0</text>
<text transform="translate(2189.7 853.5) scale(1 1.04)" font-size="62" text-anchor="end">0.0</text>
<defs><linearGradient id="cg2" x1="0" y1="0" x2="0" y2="1"><stop offset="0.0000" stop-color="rgb(255,250,242)"/><stop offset="0.0417" stop-color="rgb(253,243,225)"/><stop offset="0.0833" stop-color="rgb(251,236,207)"/><stop offset="0.1250" stop-color="rgb(249,229,189)"/><stop offset="0.1667" stop-color="rgb(247,220,167)"/><stop offset="0.2083" stop-color="rgb(245,212,145)"/><stop offset="0.2500" stop-color="rgb(242,203,120)"/><stop offset="0.2917" stop-color="rgb(240,193,95)"/><stop offset="0.3333" stop-color="rgb(234,178,82)"/><stop offset="0.3750" stop-color="rgb(226,162,73)"/><stop offset="0.4167" stop-color="rgb(220,141,63)"/><stop offset="0.4583" stop-color="rgb(213,121,54)"/><stop offset="0.5000" stop-color="rgb(206,102,46)"/><stop offset="0.5417" stop-color="rgb(197,85,37)"/><stop offset="0.5833" stop-color="rgb(189,68,29)"/><stop offset="0.6250" stop-color="rgb(178,55,23)"/><stop offset="0.6667" stop-color="rgb(167,42,17)"/><stop offset="0.7083" stop-color="rgb(149,35,15)"/><stop offset="0.7500" stop-color="rgb(128,29,12)"/><stop offset="0.7917" stop-color="rgb(105,23,9)"/><stop offset="0.8333" stop-color="rgb(80,17,8)"/><stop offset="0.8750" stop-color="rgb(57,12,6)"/><stop offset="0.9167" stop-color="rgb(35,8,5)"/><stop offset="0.9583" stop-color="rgb(14,4,4)"/><stop offset="1.0000" stop-color="rgb(0,0,0)"/></linearGradient></defs>
<rect x="1958.1" y="969.6" width="75.90000000000009" height="846.9999999999999" fill="url(#cg2)" stroke="#000" stroke-width="6"/>
<path d="M2034.0 1113.0H2053.3M2034.0 1255.0H2053.3M2034.0 1394.8H2053.3M2034.0 1536.7H2053.3M2034.0 1678.6H2053.3" stroke="#000" stroke-width="4.2" fill="none"/>
<path d="M2034.0 969.6H2053.3M2034.0 1816.6H2053.3" stroke="#000" stroke-width="6" fill="none"/>
<text transform="translate(2062.3 1027.8) scale(1 1.04)" font-size="62">12.0 nm</text>
<text transform="translate(2184.5 1168.4) scale(1 1.04)" font-size="62" text-anchor="end">10.0</text>
<text transform="translate(2184.5 1309.2) scale(1 1.04)" font-size="62" text-anchor="end">8.0</text>
<text transform="translate(2184.5 1450.1) scale(1 1.04)" font-size="62" text-anchor="end">6.0</text>
<text transform="translate(2184.5 1593.1) scale(1 1.04)" font-size="62" text-anchor="end">4.0</text>
<text transform="translate(2184.5 1800.6) scale(1 1.04)" font-size="62" text-anchor="end">0.0</text>
</svg>
</body></html>
